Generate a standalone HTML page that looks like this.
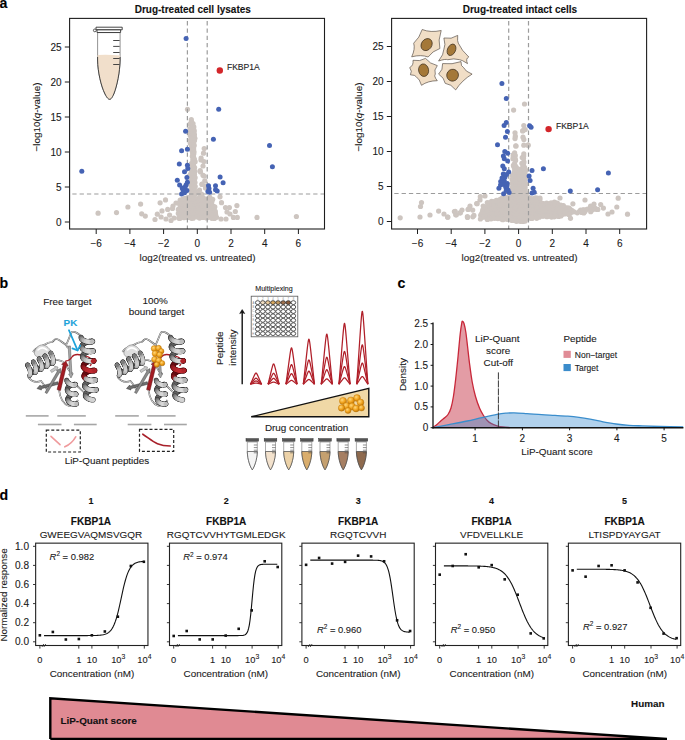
<!DOCTYPE html>
<html><head><meta charset="utf-8"><style>
html,body{margin:0;padding:0;background:#fff;}
svg{display:block;}
text{font-family:"Liberation Sans",sans-serif;stroke-width:0.1px;}
</style></head><body>
<svg width="685" height="740" viewBox="0 0 685 740" font-family="Liberation Sans, sans-serif">
<rect width="685" height="740" fill="#fff"/>
<defs>
<linearGradient id="hg" x1="0" y1="0" x2="1" y2="0">
<stop offset="0" stop-color="#4e4e4e"/><stop offset="0.45" stop-color="#d4d4d4"/><stop offset="0.7" stop-color="#f2f2f2"/><stop offset="1" stop-color="#7a7a7a"/></linearGradient>
<linearGradient id="rg" x1="0" y1="0" x2="1" y2="0">
<stop offset="0" stop-color="#6e0c10"/><stop offset="0.5" stop-color="#c8242b"/><stop offset="1" stop-color="#8a1016"/></linearGradient>
<radialGradient id="og" cx="0.38" cy="0.35" r="0.7">
<stop offset="0" stop-color="#ffd77a"/><stop offset="0.55" stop-color="#f0a21e"/><stop offset="1" stop-color="#b97205"/></radialGradient>
</defs>
<text x="-0.60" y="7.90" font-size="14.2" text-anchor="start" font-weight="bold" fill="#000" stroke="#000" >a</text>
<text x="-0.40" y="288.30" font-size="14.2" text-anchor="start" font-weight="bold" fill="#000" stroke="#000" >b</text>
<text x="397.40" y="288.00" font-size="14.2" text-anchor="start" font-weight="bold" fill="#000" stroke="#000" >c</text>
<text x="-0.50" y="500.40" font-size="14.2" text-anchor="start" font-weight="bold" fill="#000" stroke="#000" >d</text>
<g fill="#cdc5c0">
<circle cx="191.3" cy="119.7" r="2.6"/>
<circle cx="191.4" cy="121.6" r="2.6"/>
<circle cx="189.9" cy="124.2" r="2.6"/>
<circle cx="193.0" cy="123.6" r="2.6"/>
<circle cx="191.8" cy="127.3" r="2.6"/>
<circle cx="193.8" cy="126.8" r="2.6"/>
<circle cx="190.1" cy="128.8" r="2.6"/>
<circle cx="192.2" cy="128.2" r="2.6"/>
<circle cx="193.6" cy="128.5" r="2.6"/>
<circle cx="190.1" cy="131.2" r="2.6"/>
<circle cx="191.8" cy="131.5" r="2.6"/>
<circle cx="194.3" cy="130.9" r="2.6"/>
<circle cx="190.3" cy="134.0" r="2.6"/>
<circle cx="191.6" cy="133.7" r="2.6"/>
<circle cx="194.4" cy="134.3" r="2.6"/>
<circle cx="190.2" cy="135.5" r="2.6"/>
<circle cx="193.0" cy="135.2" r="2.6"/>
<circle cx="194.3" cy="136.4" r="2.6"/>
<circle cx="191.3" cy="138.5" r="2.6"/>
<circle cx="194.9" cy="138.3" r="2.6"/>
<circle cx="190.5" cy="140.2" r="2.6"/>
<circle cx="192.5" cy="140.7" r="2.6"/>
<circle cx="194.5" cy="140.4" r="2.6"/>
<circle cx="190.4" cy="143.6" r="2.6"/>
<circle cx="192.1" cy="143.1" r="2.6"/>
<circle cx="193.6" cy="143.2" r="2.6"/>
<circle cx="192.7" cy="144.7" r="2.6"/>
<circle cx="194.2" cy="145.4" r="2.6"/>
<circle cx="191.5" cy="146.7" r="2.6"/>
<circle cx="193.6" cy="147.9" r="2.6"/>
<circle cx="191.9" cy="150.4" r="2.6"/>
<circle cx="193.6" cy="149.6" r="2.6"/>
<circle cx="192.7" cy="152.7" r="2.6"/>
<circle cx="194.0" cy="151.8" r="2.6"/>
<circle cx="192.9" cy="153.7" r="2.6"/>
<circle cx="193.8" cy="153.8" r="2.6"/>
<circle cx="192.3" cy="156.2" r="2.6"/>
<circle cx="193.5" cy="156.5" r="2.6"/>
<circle cx="192.9" cy="159.2" r="2.6"/>
<circle cx="194.4" cy="159.1" r="2.6"/>
<circle cx="192.8" cy="161.7" r="2.6"/>
<circle cx="195.1" cy="161.7" r="2.6"/>
<circle cx="191.4" cy="163.7" r="2.6"/>
<circle cx="193.6" cy="162.7" r="2.6"/>
<circle cx="191.8" cy="165.0" r="2.6"/>
<circle cx="193.5" cy="165.2" r="2.6"/>
<circle cx="191.2" cy="168.8" r="2.6"/>
<circle cx="194.6" cy="167.5" r="2.6"/>
<circle cx="191.9" cy="169.7" r="2.6"/>
<circle cx="195.0" cy="171.3" r="2.6"/>
<circle cx="191.4" cy="172.0" r="2.6"/>
<circle cx="194.1" cy="172.3" r="2.6"/>
<circle cx="190.4" cy="174.4" r="2.6"/>
<circle cx="191.2" cy="175.8" r="2.6"/>
<circle cx="194.5" cy="174.4" r="2.6"/>
<circle cx="192.2" cy="178.2" r="2.6"/>
<circle cx="195.1" cy="177.7" r="2.6"/>
<circle cx="191.5" cy="180.1" r="2.6"/>
<circle cx="194.5" cy="180.1" r="2.6"/>
<circle cx="192.7" cy="182.8" r="2.6"/>
<circle cx="195.0" cy="182.5" r="2.6"/>
<circle cx="190.4" cy="184.6" r="2.6"/>
<circle cx="191.6" cy="184.2" r="2.6"/>
<circle cx="194.1" cy="183.4" r="2.6"/>
<circle cx="191.7" cy="186.8" r="2.6"/>
<circle cx="195.2" cy="186.4" r="2.6"/>
<circle cx="190.6" cy="189.7" r="2.6"/>
<circle cx="192.9" cy="188.6" r="2.6"/>
<circle cx="193.9" cy="188.3" r="2.6"/>
<circle cx="192.3" cy="191.8" r="2.6"/>
<circle cx="195.0" cy="191.1" r="2.6"/>
<circle cx="191.4" cy="193.7" r="2.6"/>
<circle cx="195.1" cy="193.9" r="2.6"/>
<circle cx="191.5" cy="196.2" r="2.6"/>
<circle cx="194.1" cy="196.2" r="2.6"/>
<circle cx="187.9" cy="197.6" r="2.6"/>
<circle cx="188.9" cy="197.6" r="2.6"/>
<circle cx="192.7" cy="197.3" r="2.6"/>
<circle cx="193.8" cy="197.1" r="2.6"/>
<circle cx="199.5" cy="197.3" r="2.6"/>
<circle cx="201.0" cy="197.8" r="2.6"/>
<circle cx="203.2" cy="197.7" r="2.6"/>
<circle cx="209.7" cy="197.2" r="2.6"/>
<circle cx="180.2" cy="200.1" r="2.6"/>
<circle cx="182.6" cy="199.4" r="2.6"/>
<circle cx="184.9" cy="198.4" r="2.6"/>
<circle cx="187.1" cy="198.7" r="2.6"/>
<circle cx="188.6" cy="199.8" r="2.6"/>
<circle cx="191.2" cy="199.3" r="2.6"/>
<circle cx="194.5" cy="199.4" r="2.6"/>
<circle cx="196.1" cy="199.3" r="2.6"/>
<circle cx="198.8" cy="199.8" r="2.6"/>
<circle cx="200.3" cy="199.4" r="2.6"/>
<circle cx="202.8" cy="198.9" r="2.6"/>
<circle cx="206.1" cy="199.3" r="2.6"/>
<circle cx="208.0" cy="199.8" r="2.6"/>
<circle cx="210.9" cy="199.2" r="2.6"/>
<circle cx="212.7" cy="199.3" r="2.6"/>
<circle cx="180.7" cy="202.3" r="2.6"/>
<circle cx="183.4" cy="201.2" r="2.6"/>
<circle cx="185.0" cy="202.4" r="2.6"/>
<circle cx="187.8" cy="200.9" r="2.6"/>
<circle cx="188.8" cy="201.5" r="2.6"/>
<circle cx="191.0" cy="201.1" r="2.6"/>
<circle cx="193.3" cy="201.9" r="2.6"/>
<circle cx="196.9" cy="202.3" r="2.6"/>
<circle cx="198.1" cy="202.0" r="2.6"/>
<circle cx="201.3" cy="201.0" r="2.6"/>
<circle cx="204.0" cy="202.4" r="2.6"/>
<circle cx="205.1" cy="202.4" r="2.6"/>
<circle cx="207.7" cy="201.6" r="2.6"/>
<circle cx="211.1" cy="202.2" r="2.6"/>
<circle cx="211.9" cy="201.5" r="2.6"/>
<circle cx="178.4" cy="203.0" r="2.6"/>
<circle cx="180.4" cy="203.8" r="2.6"/>
<circle cx="181.7" cy="203.6" r="2.6"/>
<circle cx="185.1" cy="203.9" r="2.6"/>
<circle cx="186.4" cy="204.8" r="2.6"/>
<circle cx="190.0" cy="204.7" r="2.6"/>
<circle cx="191.1" cy="203.5" r="2.6"/>
<circle cx="193.3" cy="204.4" r="2.6"/>
<circle cx="196.0" cy="203.2" r="2.6"/>
<circle cx="198.6" cy="204.6" r="2.6"/>
<circle cx="201.6" cy="203.5" r="2.6"/>
<circle cx="202.7" cy="204.7" r="2.6"/>
<circle cx="205.7" cy="204.3" r="2.6"/>
<circle cx="207.2" cy="203.1" r="2.6"/>
<circle cx="210.5" cy="203.8" r="2.6"/>
<circle cx="211.7" cy="204.7" r="2.6"/>
<circle cx="180.2" cy="205.9" r="2.6"/>
<circle cx="182.7" cy="207.0" r="2.6"/>
<circle cx="184.5" cy="205.5" r="2.6"/>
<circle cx="187.2" cy="205.7" r="2.6"/>
<circle cx="188.8" cy="205.6" r="2.6"/>
<circle cx="191.0" cy="205.7" r="2.6"/>
<circle cx="193.8" cy="205.8" r="2.6"/>
<circle cx="196.9" cy="205.8" r="2.6"/>
<circle cx="198.7" cy="205.6" r="2.6"/>
<circle cx="200.7" cy="205.3" r="2.6"/>
<circle cx="202.9" cy="205.3" r="2.6"/>
<circle cx="206.0" cy="206.3" r="2.6"/>
<circle cx="207.3" cy="206.2" r="2.6"/>
<circle cx="211.0" cy="205.5" r="2.6"/>
<circle cx="213.1" cy="206.1" r="2.6"/>
<circle cx="214.8" cy="206.8" r="2.6"/>
<circle cx="178.3" cy="209.4" r="2.6"/>
<circle cx="180.0" cy="209.1" r="2.6"/>
<circle cx="183.0" cy="208.7" r="2.6"/>
<circle cx="184.7" cy="208.2" r="2.6"/>
<circle cx="186.4" cy="207.8" r="2.6"/>
<circle cx="188.7" cy="208.9" r="2.6"/>
<circle cx="191.4" cy="207.9" r="2.6"/>
<circle cx="193.4" cy="209.1" r="2.6"/>
<circle cx="197.1" cy="208.8" r="2.6"/>
<circle cx="198.3" cy="208.0" r="2.6"/>
<circle cx="200.6" cy="208.4" r="2.6"/>
<circle cx="202.7" cy="208.4" r="2.6"/>
<circle cx="205.2" cy="209.3" r="2.6"/>
<circle cx="208.8" cy="208.6" r="2.6"/>
<circle cx="209.7" cy="209.3" r="2.6"/>
<circle cx="212.2" cy="208.2" r="2.6"/>
<circle cx="213.9" cy="208.3" r="2.6"/>
<circle cx="179.4" cy="210.4" r="2.6"/>
<circle cx="181.9" cy="210.6" r="2.6"/>
<circle cx="184.1" cy="209.9" r="2.6"/>
<circle cx="186.8" cy="210.3" r="2.6"/>
<circle cx="189.7" cy="210.9" r="2.6"/>
<circle cx="192.3" cy="211.1" r="2.6"/>
<circle cx="194.5" cy="211.5" r="2.6"/>
<circle cx="196.2" cy="210.5" r="2.6"/>
<circle cx="199.6" cy="210.2" r="2.6"/>
<circle cx="201.4" cy="211.1" r="2.6"/>
<circle cx="202.5" cy="211.4" r="2.6"/>
<circle cx="206.3" cy="211.0" r="2.6"/>
<circle cx="208.3" cy="211.4" r="2.6"/>
<circle cx="209.6" cy="210.8" r="2.6"/>
<circle cx="212.5" cy="211.4" r="2.6"/>
<circle cx="215.3" cy="211.4" r="2.6"/>
<circle cx="178.3" cy="213.4" r="2.6"/>
<circle cx="179.8" cy="212.3" r="2.6"/>
<circle cx="181.9" cy="212.8" r="2.6"/>
<circle cx="184.2" cy="213.7" r="2.6"/>
<circle cx="187.3" cy="213.3" r="2.6"/>
<circle cx="189.7" cy="213.4" r="2.6"/>
<circle cx="191.8" cy="212.2" r="2.6"/>
<circle cx="194.6" cy="213.5" r="2.6"/>
<circle cx="196.4" cy="213.2" r="2.6"/>
<circle cx="199.0" cy="212.3" r="2.6"/>
<circle cx="201.4" cy="212.7" r="2.6"/>
<circle cx="202.5" cy="212.7" r="2.6"/>
<circle cx="206.0" cy="212.6" r="2.6"/>
<circle cx="208.3" cy="214.0" r="2.6"/>
<circle cx="210.2" cy="212.9" r="2.6"/>
<circle cx="212.5" cy="213.4" r="2.6"/>
<circle cx="215.3" cy="213.3" r="2.6"/>
<circle cx="180.7" cy="215.0" r="2.6"/>
<circle cx="182.7" cy="214.5" r="2.6"/>
<circle cx="184.1" cy="215.0" r="2.6"/>
<circle cx="187.5" cy="215.7" r="2.6"/>
<circle cx="189.8" cy="215.0" r="2.6"/>
<circle cx="191.8" cy="215.3" r="2.6"/>
<circle cx="194.0" cy="214.7" r="2.6"/>
<circle cx="197.1" cy="214.9" r="2.6"/>
<circle cx="199.6" cy="216.2" r="2.6"/>
<circle cx="200.1" cy="215.3" r="2.6"/>
<circle cx="203.9" cy="216.2" r="2.6"/>
<circle cx="205.5" cy="215.0" r="2.6"/>
<circle cx="207.4" cy="216.2" r="2.6"/>
<circle cx="209.7" cy="215.5" r="2.6"/>
<circle cx="211.9" cy="215.4" r="2.6"/>
<circle cx="215.6" cy="214.7" r="2.6"/>
<circle cx="178.7" cy="218.1" r="2.6"/>
<circle cx="179.8" cy="218.4" r="2.6"/>
<circle cx="182.6" cy="216.8" r="2.6"/>
<circle cx="184.0" cy="217.7" r="2.6"/>
<circle cx="187.1" cy="217.3" r="2.6"/>
<circle cx="188.9" cy="217.4" r="2.6"/>
<circle cx="191.5" cy="218.3" r="2.6"/>
<circle cx="193.2" cy="218.2" r="2.6"/>
<circle cx="197.0" cy="217.0" r="2.6"/>
<circle cx="199.5" cy="218.1" r="2.6"/>
<circle cx="201.7" cy="217.3" r="2.6"/>
<circle cx="203.1" cy="217.5" r="2.6"/>
<circle cx="206.5" cy="217.9" r="2.6"/>
<circle cx="207.6" cy="217.6" r="2.6"/>
<circle cx="209.8" cy="216.9" r="2.6"/>
<circle cx="211.8" cy="218.3" r="2.6"/>
<circle cx="214.4" cy="218.5" r="2.6"/>
<circle cx="216.6" cy="217.3" r="2.6"/>
<circle cx="187.5" cy="109.3" r="2.6"/>
<circle cx="98.1" cy="213.2" r="2.6"/>
<circle cx="116.5" cy="212.6" r="2.6"/>
<circle cx="127.9" cy="207.0" r="2.6"/>
<circle cx="140.6" cy="204.1" r="2.6"/>
<circle cx="141.7" cy="213.8" r="2.6"/>
<circle cx="145.3" cy="216.1" r="2.6"/>
<circle cx="155.0" cy="219.5" r="2.6"/>
<circle cx="157.3" cy="214.2" r="2.6"/>
<circle cx="160.1" cy="202.8" r="2.6"/>
<circle cx="165.5" cy="199.9" r="2.6"/>
<circle cx="162.0" cy="210.9" r="2.6"/>
<circle cx="161.1" cy="217.0" r="2.6"/>
<circle cx="167.7" cy="209.4" r="2.6"/>
<circle cx="169.6" cy="215.1" r="2.6"/>
<circle cx="172.5" cy="208.5" r="2.6"/>
<circle cx="174.0" cy="218.0" r="2.6"/>
<circle cx="171.0" cy="220.5" r="2.6"/>
<circle cx="166.0" cy="219.0" r="2.6"/>
<circle cx="220.0" cy="196.8" r="2.6"/>
<circle cx="221.5" cy="202.7" r="2.6"/>
<circle cx="225.5" cy="207.6" r="2.6"/>
<circle cx="229.4" cy="207.6" r="2.6"/>
<circle cx="236.9" cy="205.6" r="2.6"/>
<circle cx="235.3" cy="211.5" r="2.6"/>
<circle cx="233.4" cy="217.4" r="2.6"/>
<circle cx="237.3" cy="217.4" r="2.6"/>
<circle cx="257.0" cy="217.4" r="2.6"/>
<circle cx="296.4" cy="216.5" r="2.6"/>
<circle cx="204.2" cy="148.6" r="2.6"/>
<circle cx="203.5" cy="153.2" r="2.6"/>
<circle cx="201.1" cy="158.0" r="2.6"/>
<circle cx="203.9" cy="161.6" r="2.6"/>
<circle cx="200.2" cy="170.7" r="2.6"/>
<circle cx="203.0" cy="175.3" r="2.6"/>
<circle cx="204.8" cy="180.8" r="2.6"/>
<circle cx="202.0" cy="184.4" r="2.6"/>
<circle cx="205.7" cy="186.2" r="2.6"/>
<circle cx="199.5" cy="190.0" r="2.6"/>
<circle cx="201.5" cy="194.0" r="2.6"/>
<circle cx="201.0" cy="160.0" r="2.6"/>
<circle cx="203.0" cy="166.0" r="2.6"/>
<circle cx="200.5" cy="172.0" r="2.6"/>
<circle cx="204.0" cy="176.0" r="2.6"/>
<circle cx="202.0" cy="184.0" r="2.6"/>
<circle cx="205.5" cy="188.0" r="2.6"/>
<circle cx="199.0" cy="193.0" r="2.6"/>
<circle cx="230.0" cy="214.0" r="2.6"/>
<circle cx="226.0" cy="219.0" r="2.6"/>
<circle cx="227.0" cy="212.0" r="2.6"/>
<circle cx="221.0" cy="219.0" r="2.6"/>
<circle cx="176.0" cy="203.0" r="2.6"/>
<circle cx="173.0" cy="206.0" r="2.6"/>
</g>
<g stroke="#9c9c9c" stroke-width="1.2" stroke-dasharray="4.3 3" stroke-dashoffset="4.6" fill="none"><line x1="187.4" y1="18.4" x2="187.4" y2="229.0"/><line x1="207.2" y1="18.4" x2="207.2" y2="229.0"/><line x1="69.6" y1="194.0" x2="324.5" y2="194.0"/></g>
<g fill="#4563b4">
<circle cx="186.1" cy="38.4" r="2.5"/>
<circle cx="218.7" cy="109.2" r="2.5"/>
<circle cx="185.6" cy="131.3" r="2.5"/>
<circle cx="213.4" cy="139.3" r="2.5"/>
<circle cx="181.6" cy="150.7" r="2.5"/>
<circle cx="187.4" cy="149.2" r="2.5"/>
<circle cx="179.3" cy="164.1" r="2.5"/>
<circle cx="187.4" cy="165.3" r="2.5"/>
<circle cx="187.8" cy="168.4" r="2.5"/>
<circle cx="184.5" cy="171.7" r="2.5"/>
<circle cx="177.3" cy="180.2" r="2.5"/>
<circle cx="186.9" cy="177.6" r="2.5"/>
<circle cx="187.4" cy="182.2" r="2.5"/>
<circle cx="179.6" cy="185.1" r="2.5"/>
<circle cx="182.2" cy="188.1" r="2.5"/>
<circle cx="185.1" cy="186.9" r="2.5"/>
<circle cx="186.9" cy="190.4" r="2.5"/>
<circle cx="181.6" cy="193.9" r="2.5"/>
<circle cx="184.5" cy="192.7" r="2.5"/>
<circle cx="183.0" cy="190.0" r="2.5"/>
<circle cx="186.0" cy="185.0" r="2.5"/>
<circle cx="220.1" cy="177.0" r="2.5"/>
<circle cx="223.1" cy="182.8" r="2.5"/>
<circle cx="208.5" cy="185.7" r="2.5"/>
<circle cx="209.0" cy="188.6" r="2.5"/>
<circle cx="207.9" cy="191.6" r="2.5"/>
<circle cx="215.5" cy="185.7" r="2.5"/>
<circle cx="215.5" cy="189.8" r="2.5"/>
<circle cx="217.2" cy="191.0" r="2.5"/>
<circle cx="209.6" cy="192.2" r="2.5"/>
<circle cx="81.8" cy="171.2" r="2.5"/>
<circle cx="269.5" cy="145.6" r="2.5"/>
<circle cx="272.4" cy="166.8" r="2.5"/>
</g>
<circle cx="219.8" cy="70.5" r="3.2" fill="#d3262a"/>
<text x="226.90" y="70.30" font-size="8.6" text-anchor="start" fill="#1a1a1a" stroke="#1a1a1a" >FKBP1A</text>
<rect x="69.6" y="18.4" width="254.9" height="210.6" fill="none" stroke="#1e1e1e" stroke-width="1.1"/>
<line x1="64.8" y1="222.0" x2="69.6" y2="222.0" stroke="#1e1e1e" stroke-width="1"/>
<text x="61.60" y="225.55" font-size="10.0" text-anchor="end" fill="#1a1a1a" stroke="#1a1a1a" >0</text>
<line x1="64.8" y1="187.0" x2="69.6" y2="187.0" stroke="#1e1e1e" stroke-width="1"/>
<text x="61.60" y="190.55" font-size="10.0" text-anchor="end" fill="#1a1a1a" stroke="#1a1a1a" >5</text>
<line x1="64.8" y1="152.0" x2="69.6" y2="152.0" stroke="#1e1e1e" stroke-width="1"/>
<text x="61.60" y="155.55" font-size="10.0" text-anchor="end" fill="#1a1a1a" stroke="#1a1a1a" >10</text>
<line x1="64.8" y1="117.0" x2="69.6" y2="117.0" stroke="#1e1e1e" stroke-width="1"/>
<text x="61.60" y="120.55" font-size="10.0" text-anchor="end" fill="#1a1a1a" stroke="#1a1a1a" >15</text>
<line x1="64.8" y1="82.0" x2="69.6" y2="82.0" stroke="#1e1e1e" stroke-width="1"/>
<text x="61.60" y="85.55" font-size="10.0" text-anchor="end" fill="#1a1a1a" stroke="#1a1a1a" >20</text>
<line x1="64.8" y1="47.0" x2="69.6" y2="47.0" stroke="#1e1e1e" stroke-width="1"/>
<text x="61.60" y="50.55" font-size="10.0" text-anchor="end" fill="#1a1a1a" stroke="#1a1a1a" >25</text>
<line x1="96.2" y1="229.0" x2="96.2" y2="234.0" stroke="#1e1e1e" stroke-width="1"/>
<text x="96.20" y="246.60" font-size="10.0" text-anchor="middle" fill="#1a1a1a" stroke="#1a1a1a" >−6</text>
<line x1="129.9" y1="229.0" x2="129.9" y2="234.0" stroke="#1e1e1e" stroke-width="1"/>
<text x="129.90" y="246.60" font-size="10.0" text-anchor="middle" fill="#1a1a1a" stroke="#1a1a1a" >−4</text>
<line x1="163.6" y1="229.0" x2="163.6" y2="234.0" stroke="#1e1e1e" stroke-width="1"/>
<text x="163.60" y="246.60" font-size="10.0" text-anchor="middle" fill="#1a1a1a" stroke="#1a1a1a" >−2</text>
<line x1="197.3" y1="229.0" x2="197.3" y2="234.0" stroke="#1e1e1e" stroke-width="1"/>
<text x="197.30" y="246.60" font-size="10.0" text-anchor="middle" fill="#1a1a1a" stroke="#1a1a1a" >0</text>
<line x1="231.0" y1="229.0" x2="231.0" y2="234.0" stroke="#1e1e1e" stroke-width="1"/>
<text x="231.00" y="246.60" font-size="10.0" text-anchor="middle" fill="#1a1a1a" stroke="#1a1a1a" >2</text>
<line x1="264.7" y1="229.0" x2="264.7" y2="234.0" stroke="#1e1e1e" stroke-width="1"/>
<text x="264.70" y="246.60" font-size="10.0" text-anchor="middle" fill="#1a1a1a" stroke="#1a1a1a" >4</text>
<line x1="298.4" y1="229.0" x2="298.4" y2="234.0" stroke="#1e1e1e" stroke-width="1"/>
<text x="298.40" y="246.60" font-size="10.0" text-anchor="middle" fill="#1a1a1a" stroke="#1a1a1a" >6</text>
<text x="139.60" y="261.00" font-size="9.9" text-anchor="start" fill="#1a1a1a" stroke="#1a1a1a" >log2(treated vs. untreated)</text>
<text transform="translate(40.0,117) rotate(-90)" font-size="9.9" text-anchor="middle" fill="#1a1a1a" stroke="#1a1a1a">−log10(<tspan font-style="italic">q</tspan>-value)</text>
<text x="134.70" y="12.60" font-size="10.0" text-anchor="start" font-weight="bold" fill="#111" stroke="#111" >Drug-treated cell lysates</text>
<g fill="#cdc5c0">
<circle cx="514.6" cy="152.8" r="2.6"/>
<circle cx="513.2" cy="154.9" r="2.6"/>
<circle cx="515.0" cy="155.0" r="2.6"/>
<circle cx="513.3" cy="156.7" r="2.6"/>
<circle cx="515.2" cy="155.8" r="2.6"/>
<circle cx="512.9" cy="158.8" r="2.6"/>
<circle cx="515.3" cy="159.2" r="2.6"/>
<circle cx="515.6" cy="160.5" r="2.6"/>
<circle cx="514.4" cy="163.9" r="2.6"/>
<circle cx="513.4" cy="165.4" r="2.6"/>
<circle cx="515.1" cy="165.4" r="2.6"/>
<circle cx="523.8" cy="153.8" r="2.6"/>
<circle cx="522.2" cy="157.5" r="2.6"/>
<circle cx="523.7" cy="156.0" r="2.6"/>
<circle cx="523.5" cy="158.2" r="2.6"/>
<circle cx="523.9" cy="161.9" r="2.6"/>
<circle cx="521.9" cy="163.3" r="2.6"/>
<circle cx="523.6" cy="163.5" r="2.6"/>
<circle cx="523.0" cy="165.4" r="2.6"/>
<circle cx="513.8" cy="166.2" r="2.6"/>
<circle cx="523.8" cy="166.6" r="2.6"/>
<circle cx="514.5" cy="168.3" r="2.6"/>
<circle cx="516.3" cy="167.4" r="2.6"/>
<circle cx="518.2" cy="169.1" r="2.6"/>
<circle cx="521.3" cy="168.9" r="2.6"/>
<circle cx="523.9" cy="167.8" r="2.6"/>
<circle cx="524.6" cy="167.7" r="2.6"/>
<circle cx="514.6" cy="171.0" r="2.6"/>
<circle cx="516.4" cy="171.1" r="2.6"/>
<circle cx="518.3" cy="170.7" r="2.6"/>
<circle cx="519.9" cy="171.1" r="2.6"/>
<circle cx="522.5" cy="171.4" r="2.6"/>
<circle cx="525.6" cy="170.2" r="2.6"/>
<circle cx="514.0" cy="173.3" r="2.6"/>
<circle cx="515.4" cy="172.1" r="2.6"/>
<circle cx="518.4" cy="173.0" r="2.6"/>
<circle cx="520.5" cy="172.4" r="2.6"/>
<circle cx="523.2" cy="172.0" r="2.6"/>
<circle cx="524.9" cy="172.8" r="2.6"/>
<circle cx="512.3" cy="175.5" r="2.6"/>
<circle cx="514.5" cy="175.2" r="2.6"/>
<circle cx="515.6" cy="174.7" r="2.6"/>
<circle cx="519.2" cy="175.6" r="2.6"/>
<circle cx="520.4" cy="174.3" r="2.6"/>
<circle cx="523.0" cy="175.5" r="2.6"/>
<circle cx="525.2" cy="174.8" r="2.6"/>
<circle cx="513.3" cy="176.7" r="2.6"/>
<circle cx="515.8" cy="177.4" r="2.6"/>
<circle cx="518.7" cy="177.0" r="2.6"/>
<circle cx="521.2" cy="177.9" r="2.6"/>
<circle cx="523.0" cy="177.0" r="2.6"/>
<circle cx="526.1" cy="177.2" r="2.6"/>
<circle cx="512.1" cy="179.3" r="2.6"/>
<circle cx="513.3" cy="180.3" r="2.6"/>
<circle cx="515.7" cy="180.6" r="2.6"/>
<circle cx="518.4" cy="179.2" r="2.6"/>
<circle cx="520.2" cy="179.7" r="2.6"/>
<circle cx="523.3" cy="180.6" r="2.6"/>
<circle cx="524.7" cy="179.6" r="2.6"/>
<circle cx="513.2" cy="181.3" r="2.6"/>
<circle cx="515.3" cy="181.9" r="2.6"/>
<circle cx="519.1" cy="182.8" r="2.6"/>
<circle cx="521.1" cy="183.0" r="2.6"/>
<circle cx="523.8" cy="181.8" r="2.6"/>
<circle cx="524.7" cy="182.9" r="2.6"/>
<circle cx="511.9" cy="183.6" r="2.6"/>
<circle cx="514.1" cy="184.2" r="2.6"/>
<circle cx="515.9" cy="184.1" r="2.6"/>
<circle cx="517.8" cy="183.5" r="2.6"/>
<circle cx="520.3" cy="184.1" r="2.6"/>
<circle cx="523.8" cy="183.7" r="2.6"/>
<circle cx="526.1" cy="183.9" r="2.6"/>
<circle cx="514.4" cy="186.6" r="2.6"/>
<circle cx="515.3" cy="186.7" r="2.6"/>
<circle cx="518.2" cy="187.5" r="2.6"/>
<circle cx="520.1" cy="186.5" r="2.6"/>
<circle cx="523.7" cy="185.9" r="2.6"/>
<circle cx="525.1" cy="187.3" r="2.6"/>
<circle cx="512.0" cy="188.2" r="2.6"/>
<circle cx="513.0" cy="188.2" r="2.6"/>
<circle cx="516.9" cy="188.6" r="2.6"/>
<circle cx="518.8" cy="189.7" r="2.6"/>
<circle cx="520.4" cy="188.6" r="2.6"/>
<circle cx="523.8" cy="189.2" r="2.6"/>
<circle cx="524.9" cy="189.4" r="2.6"/>
<circle cx="512.9" cy="191.8" r="2.6"/>
<circle cx="516.8" cy="191.5" r="2.6"/>
<circle cx="519.2" cy="190.4" r="2.6"/>
<circle cx="520.2" cy="191.3" r="2.6"/>
<circle cx="523.8" cy="192.1" r="2.6"/>
<circle cx="525.1" cy="190.9" r="2.6"/>
<circle cx="514.6" cy="193.0" r="2.6"/>
<circle cx="516.6" cy="194.0" r="2.6"/>
<circle cx="519.0" cy="194.1" r="2.6"/>
<circle cx="520.9" cy="193.3" r="2.6"/>
<circle cx="522.7" cy="193.4" r="2.6"/>
<circle cx="525.8" cy="192.8" r="2.6"/>
<circle cx="513.3" cy="195.1" r="2.6"/>
<circle cx="515.3" cy="196.0" r="2.6"/>
<circle cx="518.1" cy="196.8" r="2.6"/>
<circle cx="521.4" cy="196.8" r="2.6"/>
<circle cx="522.6" cy="195.2" r="2.6"/>
<circle cx="524.6" cy="195.9" r="2.6"/>
<circle cx="511.9" cy="198.1" r="2.6"/>
<circle cx="513.3" cy="198.1" r="2.6"/>
<circle cx="516.3" cy="198.5" r="2.6"/>
<circle cx="518.8" cy="198.8" r="2.6"/>
<circle cx="521.0" cy="197.5" r="2.6"/>
<circle cx="523.6" cy="197.8" r="2.6"/>
<circle cx="525.4" cy="198.0" r="2.6"/>
<circle cx="511.9" cy="200.0" r="2.6"/>
<circle cx="513.3" cy="200.0" r="2.6"/>
<circle cx="515.5" cy="201.2" r="2.6"/>
<circle cx="518.5" cy="200.2" r="2.6"/>
<circle cx="520.5" cy="201.4" r="2.6"/>
<circle cx="523.0" cy="200.0" r="2.6"/>
<circle cx="525.9" cy="200.8" r="2.6"/>
<circle cx="512.4" cy="202.1" r="2.6"/>
<circle cx="513.8" cy="203.4" r="2.6"/>
<circle cx="516.7" cy="203.5" r="2.6"/>
<circle cx="517.6" cy="202.4" r="2.6"/>
<circle cx="520.0" cy="202.2" r="2.6"/>
<circle cx="523.9" cy="202.9" r="2.6"/>
<circle cx="526.1" cy="202.6" r="2.6"/>
<circle cx="512.2" cy="205.0" r="2.6"/>
<circle cx="513.4" cy="205.6" r="2.6"/>
<circle cx="516.9" cy="204.4" r="2.6"/>
<circle cx="518.6" cy="205.3" r="2.6"/>
<circle cx="520.2" cy="204.9" r="2.6"/>
<circle cx="522.4" cy="204.6" r="2.6"/>
<circle cx="524.9" cy="205.3" r="2.6"/>
<circle cx="511.8" cy="206.9" r="2.6"/>
<circle cx="512.9" cy="207.1" r="2.6"/>
<circle cx="516.4" cy="206.8" r="2.6"/>
<circle cx="518.1" cy="206.9" r="2.6"/>
<circle cx="521.2" cy="207.5" r="2.6"/>
<circle cx="522.2" cy="206.7" r="2.6"/>
<circle cx="525.1" cy="207.5" r="2.6"/>
<circle cx="511.8" cy="209.0" r="2.6"/>
<circle cx="513.2" cy="210.1" r="2.6"/>
<circle cx="515.9" cy="209.3" r="2.6"/>
<circle cx="518.1" cy="210.5" r="2.6"/>
<circle cx="520.4" cy="209.8" r="2.6"/>
<circle cx="522.7" cy="209.5" r="2.6"/>
<circle cx="526.0" cy="210.6" r="2.6"/>
<circle cx="514.2" cy="211.5" r="2.6"/>
<circle cx="515.2" cy="212.7" r="2.6"/>
<circle cx="518.3" cy="212.6" r="2.6"/>
<circle cx="520.5" cy="212.7" r="2.6"/>
<circle cx="522.9" cy="211.4" r="2.6"/>
<circle cx="524.4" cy="212.1" r="2.6"/>
<circle cx="511.8" cy="215.0" r="2.6"/>
<circle cx="513.1" cy="214.5" r="2.6"/>
<circle cx="515.9" cy="214.3" r="2.6"/>
<circle cx="517.8" cy="213.9" r="2.6"/>
<circle cx="520.7" cy="215.1" r="2.6"/>
<circle cx="522.3" cy="214.3" r="2.6"/>
<circle cx="525.8" cy="215.1" r="2.6"/>
<circle cx="514.6" cy="217.5" r="2.6"/>
<circle cx="516.1" cy="215.8" r="2.6"/>
<circle cx="519.2" cy="216.4" r="2.6"/>
<circle cx="521.4" cy="216.8" r="2.6"/>
<circle cx="523.6" cy="216.0" r="2.6"/>
<circle cx="525.8" cy="216.1" r="2.6"/>
<circle cx="514.4" cy="218.3" r="2.6"/>
<circle cx="515.6" cy="218.7" r="2.6"/>
<circle cx="518.4" cy="218.7" r="2.6"/>
<circle cx="520.0" cy="218.4" r="2.6"/>
<circle cx="523.4" cy="219.6" r="2.6"/>
<circle cx="524.5" cy="219.0" r="2.6"/>
<circle cx="512.0" cy="220.4" r="2.6"/>
<circle cx="514.4" cy="220.5" r="2.6"/>
<circle cx="516.3" cy="221.3" r="2.6"/>
<circle cx="518.6" cy="220.9" r="2.6"/>
<circle cx="520.6" cy="221.3" r="2.6"/>
<circle cx="522.9" cy="221.5" r="2.6"/>
<circle cx="525.2" cy="221.1" r="2.6"/>
<circle cx="510.5" cy="196.9" r="2.6"/>
<circle cx="500.7" cy="199.1" r="2.6"/>
<circle cx="502.5" cy="197.9" r="2.6"/>
<circle cx="505.3" cy="198.0" r="2.6"/>
<circle cx="506.8" cy="197.7" r="2.6"/>
<circle cx="509.3" cy="199.1" r="2.6"/>
<circle cx="491.6" cy="201.3" r="2.6"/>
<circle cx="493.1" cy="201.5" r="2.6"/>
<circle cx="496.3" cy="200.4" r="2.6"/>
<circle cx="498.9" cy="200.2" r="2.6"/>
<circle cx="501.6" cy="200.7" r="2.6"/>
<circle cx="502.7" cy="201.1" r="2.6"/>
<circle cx="505.2" cy="200.0" r="2.6"/>
<circle cx="508.0" cy="199.8" r="2.6"/>
<circle cx="510.5" cy="200.2" r="2.6"/>
<circle cx="489.4" cy="202.8" r="2.6"/>
<circle cx="491.5" cy="203.6" r="2.6"/>
<circle cx="493.1" cy="202.4" r="2.6"/>
<circle cx="496.4" cy="202.0" r="2.6"/>
<circle cx="497.5" cy="202.6" r="2.6"/>
<circle cx="500.0" cy="202.6" r="2.6"/>
<circle cx="502.5" cy="203.1" r="2.6"/>
<circle cx="505.5" cy="202.4" r="2.6"/>
<circle cx="507.8" cy="202.9" r="2.6"/>
<circle cx="509.2" cy="203.7" r="2.6"/>
<circle cx="488.3" cy="205.5" r="2.6"/>
<circle cx="491.6" cy="204.9" r="2.6"/>
<circle cx="494.1" cy="205.1" r="2.6"/>
<circle cx="496.9" cy="205.6" r="2.6"/>
<circle cx="497.9" cy="205.9" r="2.6"/>
<circle cx="499.9" cy="205.3" r="2.6"/>
<circle cx="502.8" cy="204.7" r="2.6"/>
<circle cx="504.5" cy="205.7" r="2.6"/>
<circle cx="506.7" cy="205.3" r="2.6"/>
<circle cx="510.7" cy="204.6" r="2.6"/>
<circle cx="485.2" cy="206.9" r="2.6"/>
<circle cx="486.6" cy="207.1" r="2.6"/>
<circle cx="488.4" cy="208.2" r="2.6"/>
<circle cx="492.0" cy="207.9" r="2.6"/>
<circle cx="492.9" cy="208.1" r="2.6"/>
<circle cx="496.5" cy="207.4" r="2.6"/>
<circle cx="498.8" cy="207.4" r="2.6"/>
<circle cx="500.2" cy="206.8" r="2.6"/>
<circle cx="502.5" cy="206.7" r="2.6"/>
<circle cx="505.0" cy="207.9" r="2.6"/>
<circle cx="508.0" cy="208.1" r="2.6"/>
<circle cx="510.3" cy="207.1" r="2.6"/>
<circle cx="482.8" cy="209.8" r="2.6"/>
<circle cx="484.2" cy="210.1" r="2.6"/>
<circle cx="487.7" cy="209.3" r="2.6"/>
<circle cx="489.9" cy="208.9" r="2.6"/>
<circle cx="491.1" cy="209.3" r="2.6"/>
<circle cx="494.2" cy="210.6" r="2.6"/>
<circle cx="496.5" cy="209.5" r="2.6"/>
<circle cx="499.1" cy="209.5" r="2.6"/>
<circle cx="500.2" cy="210.5" r="2.6"/>
<circle cx="503.2" cy="210.1" r="2.6"/>
<circle cx="505.6" cy="210.7" r="2.6"/>
<circle cx="507.5" cy="210.4" r="2.6"/>
<circle cx="510.3" cy="210.4" r="2.6"/>
<circle cx="482.4" cy="211.8" r="2.6"/>
<circle cx="484.1" cy="212.3" r="2.6"/>
<circle cx="486.1" cy="212.8" r="2.6"/>
<circle cx="488.6" cy="211.2" r="2.6"/>
<circle cx="490.8" cy="212.9" r="2.6"/>
<circle cx="493.5" cy="211.5" r="2.6"/>
<circle cx="495.3" cy="211.3" r="2.6"/>
<circle cx="498.7" cy="212.3" r="2.6"/>
<circle cx="501.1" cy="212.5" r="2.6"/>
<circle cx="502.2" cy="212.3" r="2.6"/>
<circle cx="505.1" cy="212.7" r="2.6"/>
<circle cx="508.2" cy="212.8" r="2.6"/>
<circle cx="509.1" cy="212.8" r="2.6"/>
<circle cx="480.7" cy="215.2" r="2.6"/>
<circle cx="481.6" cy="213.9" r="2.6"/>
<circle cx="483.9" cy="213.6" r="2.6"/>
<circle cx="487.5" cy="215.0" r="2.6"/>
<circle cx="489.4" cy="215.0" r="2.6"/>
<circle cx="491.7" cy="214.0" r="2.6"/>
<circle cx="493.1" cy="213.7" r="2.6"/>
<circle cx="496.6" cy="213.9" r="2.6"/>
<circle cx="498.1" cy="214.3" r="2.6"/>
<circle cx="499.8" cy="214.0" r="2.6"/>
<circle cx="502.6" cy="214.8" r="2.6"/>
<circle cx="505.1" cy="214.1" r="2.6"/>
<circle cx="508.4" cy="214.4" r="2.6"/>
<circle cx="510.5" cy="214.6" r="2.6"/>
<circle cx="482.2" cy="217.2" r="2.6"/>
<circle cx="484.3" cy="217.1" r="2.6"/>
<circle cx="487.0" cy="216.2" r="2.6"/>
<circle cx="489.9" cy="216.0" r="2.6"/>
<circle cx="492.1" cy="216.1" r="2.6"/>
<circle cx="492.9" cy="216.2" r="2.6"/>
<circle cx="496.6" cy="217.6" r="2.6"/>
<circle cx="497.5" cy="216.7" r="2.6"/>
<circle cx="500.7" cy="217.2" r="2.6"/>
<circle cx="502.4" cy="216.7" r="2.6"/>
<circle cx="505.0" cy="217.3" r="2.6"/>
<circle cx="507.2" cy="217.5" r="2.6"/>
<circle cx="509.5" cy="216.2" r="2.6"/>
<circle cx="480.4" cy="219.0" r="2.6"/>
<circle cx="487.3" cy="219.5" r="2.6"/>
<circle cx="489.4" cy="218.7" r="2.6"/>
<circle cx="491.3" cy="218.8" r="2.6"/>
<circle cx="494.5" cy="218.3" r="2.6"/>
<circle cx="496.8" cy="218.1" r="2.6"/>
<circle cx="497.9" cy="218.6" r="2.6"/>
<circle cx="501.4" cy="219.0" r="2.6"/>
<circle cx="502.8" cy="219.7" r="2.6"/>
<circle cx="504.8" cy="218.9" r="2.6"/>
<circle cx="507.7" cy="219.5" r="2.6"/>
<circle cx="510.4" cy="219.3" r="2.6"/>
<circle cx="527.7" cy="196.6" r="2.6"/>
<circle cx="526.3" cy="198.2" r="2.6"/>
<circle cx="528.0" cy="198.5" r="2.6"/>
<circle cx="529.9" cy="198.2" r="2.6"/>
<circle cx="533.4" cy="198.7" r="2.6"/>
<circle cx="535.4" cy="197.9" r="2.6"/>
<circle cx="537.4" cy="198.2" r="2.6"/>
<circle cx="540.0" cy="198.1" r="2.6"/>
<circle cx="526.6" cy="200.8" r="2.6"/>
<circle cx="528.2" cy="200.7" r="2.6"/>
<circle cx="530.1" cy="201.4" r="2.6"/>
<circle cx="532.6" cy="200.8" r="2.6"/>
<circle cx="535.8" cy="201.2" r="2.6"/>
<circle cx="537.4" cy="200.2" r="2.6"/>
<circle cx="539.9" cy="199.9" r="2.6"/>
<circle cx="526.1" cy="203.3" r="2.6"/>
<circle cx="528.2" cy="203.6" r="2.6"/>
<circle cx="530.7" cy="202.5" r="2.6"/>
<circle cx="532.4" cy="202.3" r="2.6"/>
<circle cx="535.2" cy="202.1" r="2.6"/>
<circle cx="537.4" cy="202.3" r="2.6"/>
<circle cx="539.8" cy="202.9" r="2.6"/>
<circle cx="542.2" cy="203.6" r="2.6"/>
<circle cx="543.5" cy="203.5" r="2.6"/>
<circle cx="546.6" cy="203.0" r="2.6"/>
<circle cx="549.3" cy="203.5" r="2.6"/>
<circle cx="551.1" cy="202.8" r="2.6"/>
<circle cx="554.4" cy="202.1" r="2.6"/>
<circle cx="556.1" cy="203.1" r="2.6"/>
<circle cx="557.4" cy="203.1" r="2.6"/>
<circle cx="526.2" cy="205.7" r="2.6"/>
<circle cx="527.5" cy="205.6" r="2.6"/>
<circle cx="531.3" cy="205.3" r="2.6"/>
<circle cx="532.1" cy="204.8" r="2.6"/>
<circle cx="534.3" cy="204.6" r="2.6"/>
<circle cx="538.3" cy="205.4" r="2.6"/>
<circle cx="540.1" cy="205.7" r="2.6"/>
<circle cx="542.8" cy="205.4" r="2.6"/>
<circle cx="544.6" cy="205.4" r="2.6"/>
<circle cx="547.1" cy="205.4" r="2.6"/>
<circle cx="549.3" cy="204.7" r="2.6"/>
<circle cx="551.6" cy="205.1" r="2.6"/>
<circle cx="554.1" cy="204.5" r="2.6"/>
<circle cx="555.3" cy="204.4" r="2.6"/>
<circle cx="558.7" cy="205.9" r="2.6"/>
<circle cx="560.8" cy="205.0" r="2.6"/>
<circle cx="563.4" cy="205.7" r="2.6"/>
<circle cx="527.6" cy="208.2" r="2.6"/>
<circle cx="529.9" cy="206.6" r="2.6"/>
<circle cx="533.3" cy="207.0" r="2.6"/>
<circle cx="535.6" cy="206.9" r="2.6"/>
<circle cx="536.7" cy="208.0" r="2.6"/>
<circle cx="540.2" cy="208.1" r="2.6"/>
<circle cx="542.5" cy="206.8" r="2.6"/>
<circle cx="544.6" cy="207.9" r="2.6"/>
<circle cx="546.6" cy="208.3" r="2.6"/>
<circle cx="548.6" cy="208.3" r="2.6"/>
<circle cx="551.7" cy="206.6" r="2.6"/>
<circle cx="552.7" cy="207.8" r="2.6"/>
<circle cx="556.5" cy="206.7" r="2.6"/>
<circle cx="557.9" cy="207.9" r="2.6"/>
<circle cx="559.9" cy="208.1" r="2.6"/>
<circle cx="562.8" cy="206.7" r="2.6"/>
<circle cx="564.9" cy="207.6" r="2.6"/>
<circle cx="567.3" cy="207.8" r="2.6"/>
<circle cx="569.1" cy="208.0" r="2.6"/>
<circle cx="591.3" cy="208.1" r="2.6"/>
<circle cx="594.9" cy="208.2" r="2.6"/>
<circle cx="526.2" cy="210.5" r="2.6"/>
<circle cx="528.9" cy="209.4" r="2.6"/>
<circle cx="529.7" cy="209.4" r="2.6"/>
<circle cx="532.8" cy="210.0" r="2.6"/>
<circle cx="535.8" cy="210.5" r="2.6"/>
<circle cx="536.7" cy="210.4" r="2.6"/>
<circle cx="540.4" cy="210.5" r="2.6"/>
<circle cx="542.2" cy="209.4" r="2.6"/>
<circle cx="545.0" cy="210.4" r="2.6"/>
<circle cx="547.0" cy="210.5" r="2.6"/>
<circle cx="548.7" cy="209.1" r="2.6"/>
<circle cx="551.4" cy="210.3" r="2.6"/>
<circle cx="553.1" cy="210.3" r="2.6"/>
<circle cx="556.7" cy="209.3" r="2.6"/>
<circle cx="558.4" cy="210.1" r="2.6"/>
<circle cx="560.4" cy="209.3" r="2.6"/>
<circle cx="562.4" cy="210.3" r="2.6"/>
<circle cx="565.6" cy="209.7" r="2.6"/>
<circle cx="566.7" cy="210.4" r="2.6"/>
<circle cx="570.2" cy="209.3" r="2.6"/>
<circle cx="572.1" cy="210.5" r="2.6"/>
<circle cx="580.6" cy="210.2" r="2.6"/>
<circle cx="583.3" cy="209.9" r="2.6"/>
<circle cx="585.6" cy="209.8" r="2.6"/>
<circle cx="587.5" cy="209.0" r="2.6"/>
<circle cx="591.3" cy="209.6" r="2.6"/>
<circle cx="592.0" cy="210.0" r="2.6"/>
<circle cx="595.5" cy="209.2" r="2.6"/>
<circle cx="597.5" cy="209.5" r="2.6"/>
<circle cx="526.0" cy="211.2" r="2.6"/>
<circle cx="527.5" cy="213.0" r="2.6"/>
<circle cx="531.3" cy="212.1" r="2.6"/>
<circle cx="533.0" cy="211.7" r="2.6"/>
<circle cx="535.7" cy="212.0" r="2.6"/>
<circle cx="538.3" cy="212.6" r="2.6"/>
<circle cx="540.4" cy="212.9" r="2.6"/>
<circle cx="541.7" cy="211.3" r="2.6"/>
<circle cx="543.9" cy="211.5" r="2.6"/>
<circle cx="546.0" cy="211.3" r="2.6"/>
<circle cx="549.1" cy="212.8" r="2.6"/>
<circle cx="551.2" cy="212.9" r="2.6"/>
<circle cx="554.3" cy="211.3" r="2.6"/>
<circle cx="556.1" cy="211.9" r="2.6"/>
<circle cx="557.5" cy="212.9" r="2.6"/>
<circle cx="560.1" cy="212.2" r="2.6"/>
<circle cx="563.1" cy="212.9" r="2.6"/>
<circle cx="565.4" cy="211.9" r="2.6"/>
<circle cx="567.3" cy="211.5" r="2.6"/>
<circle cx="570.5" cy="213.0" r="2.6"/>
<circle cx="571.5" cy="211.3" r="2.6"/>
<circle cx="573.9" cy="211.8" r="2.6"/>
<circle cx="577.3" cy="212.8" r="2.6"/>
<circle cx="579.5" cy="211.3" r="2.6"/>
<circle cx="581.7" cy="212.5" r="2.6"/>
<circle cx="583.8" cy="213.0" r="2.6"/>
<circle cx="585.0" cy="211.5" r="2.6"/>
<circle cx="590.7" cy="211.7" r="2.6"/>
<circle cx="527.8" cy="213.8" r="2.6"/>
<circle cx="530.9" cy="213.5" r="2.6"/>
<circle cx="533.3" cy="213.9" r="2.6"/>
<circle cx="534.4" cy="215.2" r="2.6"/>
<circle cx="537.0" cy="215.2" r="2.6"/>
<circle cx="540.5" cy="215.1" r="2.6"/>
<circle cx="541.5" cy="214.3" r="2.6"/>
<circle cx="543.7" cy="215.2" r="2.6"/>
<circle cx="547.3" cy="214.6" r="2.6"/>
<circle cx="548.9" cy="214.1" r="2.6"/>
<circle cx="551.9" cy="214.4" r="2.6"/>
<circle cx="553.8" cy="213.8" r="2.6"/>
<circle cx="555.4" cy="213.6" r="2.6"/>
<circle cx="558.6" cy="214.5" r="2.6"/>
<circle cx="559.9" cy="215.1" r="2.6"/>
<circle cx="562.4" cy="214.2" r="2.6"/>
<circle cx="564.5" cy="214.0" r="2.6"/>
<circle cx="568.0" cy="214.1" r="2.6"/>
<circle cx="569.1" cy="214.4" r="2.6"/>
<circle cx="526.6" cy="216.4" r="2.6"/>
<circle cx="527.7" cy="215.8" r="2.6"/>
<circle cx="531.2" cy="216.7" r="2.6"/>
<circle cx="532.3" cy="216.6" r="2.6"/>
<circle cx="535.9" cy="216.2" r="2.6"/>
<circle cx="537.6" cy="216.0" r="2.6"/>
<circle cx="539.2" cy="217.2" r="2.6"/>
<circle cx="542.5" cy="216.2" r="2.6"/>
<circle cx="543.6" cy="216.0" r="2.6"/>
<circle cx="546.9" cy="216.7" r="2.6"/>
<circle cx="548.6" cy="216.2" r="2.6"/>
<circle cx="551.5" cy="217.1" r="2.6"/>
<circle cx="554.2" cy="216.8" r="2.6"/>
<circle cx="555.4" cy="215.9" r="2.6"/>
<circle cx="558.6" cy="216.5" r="2.6"/>
<circle cx="560.9" cy="215.9" r="2.6"/>
<circle cx="526.0" cy="219.1" r="2.6"/>
<circle cx="528.4" cy="218.1" r="2.6"/>
<circle cx="531.4" cy="218.5" r="2.6"/>
<circle cx="532.3" cy="218.3" r="2.6"/>
<circle cx="536.7" cy="218.3" r="2.6"/>
<circle cx="524.5" cy="104.0" r="2.6"/>
<circle cx="513.6" cy="110.1" r="2.6"/>
<circle cx="523.8" cy="125.5" r="2.6"/>
<circle cx="523.0" cy="130.6" r="2.6"/>
<circle cx="515.0" cy="132.8" r="2.6"/>
<circle cx="515.0" cy="138.6" r="2.6"/>
<circle cx="523.0" cy="137.2" r="2.6"/>
<circle cx="515.8" cy="145.9" r="2.6"/>
<circle cx="523.8" cy="145.2" r="2.6"/>
<circle cx="528.2" cy="145.2" r="2.6"/>
<circle cx="400.2" cy="217.8" r="2.6"/>
<circle cx="420.0" cy="217.0" r="2.6"/>
<circle cx="420.5" cy="206.5" r="2.6"/>
<circle cx="421.5" cy="202.6" r="2.6"/>
<circle cx="438.6" cy="211.1" r="2.6"/>
<circle cx="447.8" cy="217.2" r="2.6"/>
<circle cx="454.4" cy="211.5" r="2.6"/>
<circle cx="455.7" cy="214.8" r="2.6"/>
<circle cx="460.3" cy="212.8" r="2.6"/>
<circle cx="467.5" cy="217.4" r="2.6"/>
<circle cx="468.8" cy="208.9" r="2.6"/>
<circle cx="472.8" cy="216.8" r="2.6"/>
<circle cx="476.7" cy="203.6" r="2.6"/>
<circle cx="618.2" cy="198.2" r="2.6"/>
<circle cx="616.8" cy="207.0" r="2.6"/>
<circle cx="627.5" cy="214.2" r="2.6"/>
<circle cx="600.7" cy="204.6" r="2.6"/>
<circle cx="603.4" cy="208.1" r="2.6"/>
<circle cx="597.8" cy="209.4" r="2.6"/>
<circle cx="590.6" cy="206.2" r="2.6"/>
<circle cx="572.9" cy="203.8" r="2.6"/>
<circle cx="570.5" cy="218.3" r="2.6"/>
<circle cx="608.0" cy="214.0" r="2.6"/>
<circle cx="612.0" cy="212.0" r="2.6"/>
<circle cx="585.0" cy="200.0" r="2.6"/>
<circle cx="560.0" cy="198.0" r="2.6"/>
<circle cx="480.0" cy="200.0" r="2.6"/>
<circle cx="485.0" cy="196.0" r="2.6"/>
<circle cx="470.0" cy="206.0" r="2.6"/>
<circle cx="462.0" cy="210.0" r="2.6"/>
<circle cx="444.0" cy="214.0" r="2.6"/>
<circle cx="430.0" cy="215.0" r="2.6"/>
<circle cx="447.6" cy="217.1" r="2.6"/>
<circle cx="455.2" cy="211.3" r="2.6"/>
<circle cx="456.4" cy="214.8" r="2.6"/>
<circle cx="460.1" cy="212.8" r="2.6"/>
<circle cx="468.0" cy="209.5" r="2.6"/>
<circle cx="467.4" cy="216.5" r="2.6"/>
<circle cx="472.7" cy="210.1" r="2.6"/>
<circle cx="473.9" cy="215.4" r="2.6"/>
<circle cx="477.1" cy="203.7" r="2.6"/>
<circle cx="480.3" cy="196.7" r="2.6"/>
<circle cx="483.2" cy="206.0" r="2.6"/>
<circle cx="487.3" cy="202.5" r="2.6"/>
<circle cx="525.2" cy="129.6" r="2.6"/>
<circle cx="522.6" cy="131.0" r="2.6"/>
<circle cx="515.3" cy="136.2" r="2.6"/>
<circle cx="523.9" cy="139.5" r="2.6"/>
<circle cx="516.0" cy="146.0" r="2.6"/>
<circle cx="527.8" cy="145.1" r="2.6"/>
<circle cx="543.0" cy="210.0" r="2.6"/>
<circle cx="548.0" cy="207.0" r="2.6"/>
<circle cx="560.0" cy="209.0" r="2.6"/>
<circle cx="583.0" cy="210.0" r="2.6"/>
<circle cx="594.0" cy="204.0" r="2.6"/>
</g>
<g stroke="#9c9c9c" stroke-width="1.2" stroke-dasharray="4.3 3" stroke-dashoffset="4.6" fill="none"><line x1="508.7" y1="18.4" x2="508.7" y2="229.0"/><line x1="528.5" y1="18.4" x2="528.5" y2="229.0"/><line x1="391.6" y1="193.5" x2="646.6" y2="193.5"/></g>
<g fill="#4563b4">
<circle cx="501.9" cy="83.4" r="2.5"/>
<circle cx="506.3" cy="98.5" r="2.5"/>
<circle cx="506.3" cy="122.6" r="2.5"/>
<circle cx="504.1" cy="125.5" r="2.5"/>
<circle cx="529.6" cy="125.8" r="2.5"/>
<circle cx="531.1" cy="127.2" r="2.5"/>
<circle cx="507.4" cy="131.6" r="2.5"/>
<circle cx="505.5" cy="137.2" r="2.5"/>
<circle cx="497.5" cy="144.7" r="2.5"/>
<circle cx="504.8" cy="151.5" r="2.5"/>
<circle cx="507.7" cy="153.2" r="2.5"/>
<circle cx="503.4" cy="156.1" r="2.5"/>
<circle cx="504.3" cy="158.8" r="2.5"/>
<circle cx="507.7" cy="161.0" r="2.5"/>
<circle cx="502.8" cy="166.1" r="2.5"/>
<circle cx="504.3" cy="168.7" r="2.5"/>
<circle cx="508.7" cy="171.9" r="2.5"/>
<circle cx="503.3" cy="174.1" r="2.5"/>
<circle cx="505.0" cy="177.0" r="2.5"/>
<circle cx="500.7" cy="181.4" r="2.5"/>
<circle cx="504.3" cy="180.7" r="2.5"/>
<circle cx="507.2" cy="183.6" r="2.5"/>
<circle cx="498.9" cy="188.2" r="2.5"/>
<circle cx="505.8" cy="187.2" r="2.5"/>
<circle cx="508.0" cy="190.1" r="2.5"/>
<circle cx="503.6" cy="193.8" r="2.5"/>
<circle cx="509.1" cy="192.6" r="2.5"/>
<circle cx="532.0" cy="170.4" r="2.5"/>
<circle cx="529.1" cy="176.0" r="2.5"/>
<circle cx="530.1" cy="180.4" r="2.5"/>
<circle cx="533.1" cy="188.2" r="2.5"/>
<circle cx="532.0" cy="193.1" r="2.5"/>
<circle cx="534.2" cy="192.3" r="2.5"/>
<circle cx="543.4" cy="168.7" r="2.5"/>
<circle cx="570.3" cy="191.0" r="2.5"/>
<circle cx="597.6" cy="189.7" r="2.5"/>
<circle cx="608.4" cy="172.9" r="2.5"/>
<circle cx="502.0" cy="182.5" r="2.5"/>
<circle cx="504.0" cy="184.5" r="2.5"/>
<circle cx="506.2" cy="190.5" r="2.5"/>
<circle cx="507.0" cy="186.0" r="2.5"/>
<circle cx="502.0" cy="178.0" r="2.5"/>
<circle cx="500.5" cy="185.0" r="2.5"/>
<circle cx="506.5" cy="174.5" r="2.5"/>
</g>
<circle cx="548.6" cy="129.1" r="3.2" fill="#d3262a"/>
<text x="555.90" y="129.00" font-size="8.6" text-anchor="start" fill="#1a1a1a" stroke="#1a1a1a" >FKBP1A</text>
<rect x="391.6" y="18.4" width="255.0" height="210.6" fill="none" stroke="#1e1e1e" stroke-width="1.1"/>
<line x1="386.8" y1="221.5" x2="391.6" y2="221.5" stroke="#1e1e1e" stroke-width="1"/>
<text x="383.60" y="225.05" font-size="10.0" text-anchor="end" fill="#1a1a1a" stroke="#1a1a1a" >0</text>
<line x1="386.8" y1="186.5" x2="391.6" y2="186.5" stroke="#1e1e1e" stroke-width="1"/>
<text x="383.60" y="190.05" font-size="10.0" text-anchor="end" fill="#1a1a1a" stroke="#1a1a1a" >5</text>
<line x1="386.8" y1="151.5" x2="391.6" y2="151.5" stroke="#1e1e1e" stroke-width="1"/>
<text x="383.60" y="155.05" font-size="10.0" text-anchor="end" fill="#1a1a1a" stroke="#1a1a1a" >10</text>
<line x1="386.8" y1="116.5" x2="391.6" y2="116.5" stroke="#1e1e1e" stroke-width="1"/>
<text x="383.60" y="120.05" font-size="10.0" text-anchor="end" fill="#1a1a1a" stroke="#1a1a1a" >15</text>
<line x1="386.8" y1="81.5" x2="391.6" y2="81.5" stroke="#1e1e1e" stroke-width="1"/>
<text x="383.60" y="85.05" font-size="10.0" text-anchor="end" fill="#1a1a1a" stroke="#1a1a1a" >20</text>
<line x1="386.8" y1="46.5" x2="391.6" y2="46.5" stroke="#1e1e1e" stroke-width="1"/>
<text x="383.60" y="50.05" font-size="10.0" text-anchor="end" fill="#1a1a1a" stroke="#1a1a1a" >25</text>
<line x1="417.5" y1="229.0" x2="417.5" y2="234.0" stroke="#1e1e1e" stroke-width="1"/>
<text x="417.50" y="246.60" font-size="10.0" text-anchor="middle" fill="#1a1a1a" stroke="#1a1a1a" >−6</text>
<line x1="451.2" y1="229.0" x2="451.2" y2="234.0" stroke="#1e1e1e" stroke-width="1"/>
<text x="451.20" y="246.60" font-size="10.0" text-anchor="middle" fill="#1a1a1a" stroke="#1a1a1a" >−4</text>
<line x1="484.9" y1="229.0" x2="484.9" y2="234.0" stroke="#1e1e1e" stroke-width="1"/>
<text x="484.90" y="246.60" font-size="10.0" text-anchor="middle" fill="#1a1a1a" stroke="#1a1a1a" >−2</text>
<line x1="518.6" y1="229.0" x2="518.6" y2="234.0" stroke="#1e1e1e" stroke-width="1"/>
<text x="518.60" y="246.60" font-size="10.0" text-anchor="middle" fill="#1a1a1a" stroke="#1a1a1a" >0</text>
<line x1="552.3" y1="229.0" x2="552.3" y2="234.0" stroke="#1e1e1e" stroke-width="1"/>
<text x="552.30" y="246.60" font-size="10.0" text-anchor="middle" fill="#1a1a1a" stroke="#1a1a1a" >2</text>
<line x1="586.0" y1="229.0" x2="586.0" y2="234.0" stroke="#1e1e1e" stroke-width="1"/>
<text x="586.00" y="246.60" font-size="10.0" text-anchor="middle" fill="#1a1a1a" stroke="#1a1a1a" >4</text>
<line x1="619.7" y1="229.0" x2="619.7" y2="234.0" stroke="#1e1e1e" stroke-width="1"/>
<text x="619.70" y="246.60" font-size="10.0" text-anchor="middle" fill="#1a1a1a" stroke="#1a1a1a" >6</text>
<text x="461.60" y="261.00" font-size="9.9" text-anchor="start" fill="#1a1a1a" stroke="#1a1a1a" >log2(treated vs. untreated)</text>
<text transform="translate(362.0,117) rotate(-90)" font-size="9.9" text-anchor="middle" fill="#1a1a1a" stroke="#1a1a1a">−log10(<tspan font-style="italic">q</tspan>-value)</text>
<text x="462.70" y="12.60" font-size="10.0" text-anchor="start" font-weight="bold" fill="#111" stroke="#111" >Drug-treated intact cells</text>
<g stroke-linejoin="round">
<path d="M97.6 32.6 L97.6 60 C97.8 72 101 86 105 94 C107 98 108.5 99.3 109.7 99.3 C110.8 99.3 112 98 113.8 94 C117 86 119.9 72 120.1 60 L120.1 32.6 Z" fill="#fff" stroke="#888" stroke-width="0.9"/>
<path d="M97.6 55 Q108 54.2 120.1 55.6 L120.1 60 C119.9 72 117 86 113.8 94 C112 98 110.8 99.3 109.7 99.3 C108.5 99.3 107 98 105 94 C101 86 97.8 72 97.6 60 Z" fill="#f1dfcb"/>
<path d="M97.6 57 L97.6 60 C97.8 72 101 86 105 94 C107 98 108.5 99.3 109.7 99.3 C110.8 99.3 112 98 113.8 94 C117 86 119.9 72 120.1 60 L120.1 57" fill="none" stroke="#333" stroke-width="0.9"/>
<line x1="113.2" y1="40.5" x2="119.6" y2="40.5" stroke="#333" stroke-width="0.9"/>
<line x1="113.2" y1="46.4" x2="119.6" y2="46.4" stroke="#333" stroke-width="0.9"/>
<line x1="113.2" y1="52.5" x2="119.6" y2="52.5" stroke="#333" stroke-width="0.9"/>
<line x1="113.2" y1="58.5" x2="119.6" y2="58.5" stroke="#333" stroke-width="0.9"/>
<line x1="113.2" y1="64.5" x2="119.6" y2="64.5" stroke="#333" stroke-width="0.9"/>
<rect x="96" y="27.2" width="26.2" height="2.6" fill="#fff" stroke="#333" stroke-width="0.9"/>
<rect x="97" y="29.9" width="23.6" height="2.6" fill="#fff" stroke="#333" stroke-width="0.9"/>
<circle cx="94.8" cy="30.4" r="1.4" fill="#fff" stroke="#333" stroke-width="0.8"/>
</g>
<path d="M422.2 29.5 Q430.6 32.9 441.2 30.5 Q437.7 40.5 439.9 48.5 Q432.4 51.0 428.1 57.0 Q421.1 54.4 411.7 56.8 Q415.4 48.9 413.7 43.2 Q419.6 37.9 422.2 29.5Z" fill="#f1dec6" stroke="#5a5048" stroke-width="0.7"/>
<ellipse cx="426.6" cy="44.6" rx="5.2" ry="6.4" transform="rotate(35 426.6 44.6)" fill="#a47838" stroke="#3e3020" stroke-width="0.7"/>
<path d="M443.9 38.0 Q451.4 39.7 457.7 35.4 Q457.2 41.8 458.3 43.2 Q461.6 50.5 468.8 57.0 Q465.3 58.6 467.5 63.6 Q461.6 59.7 459.6 59.7 Q453.8 58.1 447.8 59.7 Q445.4 58.7 438.6 61.0 Q443.8 54.5 443.9 49.2 Q445.9 45.3 443.9 38.0Z" fill="#f1dec6" stroke="#5a5048" stroke-width="0.7"/>
<ellipse cx="451.5" cy="49.8" rx="4.0" ry="6.0" transform="rotate(25 451.5 49.8)" fill="#a47838" stroke="#3e3020" stroke-width="0.7"/>
<path d="M413.0 60.3 Q420.0 61.8 425.5 58.4 Q429.7 63.9 437.3 65.6 Q433.6 70.2 435.3 74.1 Q433.6 76.2 437.3 80.7 Q428.1 80.7 421.5 85.3 Q419.7 79.1 416.3 76.8 Q415.3 74.9 410.4 74.8 Q412.6 71.3 409.7 67.6 Q413.7 65.5 413.0 60.3Z" fill="#f1dec6" stroke="#5a5048" stroke-width="0.7"/>
<ellipse cx="423.6" cy="70.2" rx="5.0" ry="6.3" transform="rotate(-10 423.6 70.2)" fill="#a47838" stroke="#3e3020" stroke-width="0.7"/>
<path d="M442.6 63.6 Q452.3 64.8 461.0 61.6 Q460.7 66.4 463.6 67.6 Q465.1 71.4 472.1 74.1 Q461.9 80.3 455.7 89.9 Q451.2 84.0 445.2 83.3 Q444.3 77.7 438.6 74.1 Q443.3 69.8 442.6 63.6Z" fill="#f1dec6" stroke="#5a5048" stroke-width="0.7"/>
<ellipse cx="452.6" cy="75.2" rx="5.8" ry="6.0" transform="rotate(35 452.6 75.2)" fill="#a47838" stroke="#3e3020" stroke-width="0.7"/>
<text x="43.20" y="304.50" font-size="9.9" text-anchor="start" fill="#1a1a1a" stroke="#1a1a1a" >Free target</text>
<text x="155.20" y="303.90" font-size="9.9" text-anchor="middle" fill="#1a1a1a" stroke="#1a1a1a" >100%</text>
<text x="156.50" y="315.30" font-size="9.9" text-anchor="middle" fill="#1a1a1a" stroke="#1a1a1a" >bound target</text>
<g transform="translate(0,0)">
<path d="M33 352 C36 347 40 347 44 345 C47 343 49 342 52 342 C54 341 55 338 57 339 C60 340 63 343 66 345 L68 348" fill="none" stroke="#555" stroke-width="1.7"/>
<path d="M33 352 C36 347 40 347 44 345 C47 343 49 342 52 342 C54 341 55 338 57 339 C60 340 63 343 66 345 L68 348" fill="none" stroke="#f4f4f4" stroke-width="0.8"/>
<path d="M66 345 C69 340 70 334 72 332 C75 331 79 334 82 337" fill="none" stroke="#555" stroke-width="1.7"/>
<path d="M66 345 C69 340 70 334 72 332 C75 331 79 334 82 337" fill="none" stroke="#f4f4f4" stroke-width="0.8"/>
<path d="M40 365 C45 367 50 362 55 360 C58 359 60 361 64 362" fill="none" stroke="#555" stroke-width="1.7"/>
<path d="M40 365 C45 367 50 362 55 360 C58 359 60 361 64 362" fill="none" stroke="#f4f4f4" stroke-width="0.8"/>
<path d="M28 377 C32 382 36 383 41 381 C44 384 46 389 48 391" fill="none" stroke="#555" stroke-width="1.7"/>
<path d="M28 377 C32 382 36 383 41 381 C44 384 46 389 48 391" fill="none" stroke="#f4f4f4" stroke-width="0.8"/>
<path d="M59 390 C60 398 63 404 69 406 C73 406 76 404 78 400" fill="none" stroke="#555" stroke-width="1.7"/>
<path d="M59 390 C60 398 63 404 69 406 C73 406 76 404 78 400" fill="none" stroke="#f4f4f4" stroke-width="0.8"/>
<path d="M76 385 C80 388 84 393 88 396" fill="none" stroke="#555" stroke-width="1.7"/>
<path d="M76 385 C80 388 84 393 88 396" fill="none" stroke="#f4f4f4" stroke-width="0.8"/>
<path d="M73 374 C70 372 68 370 67 366" fill="none" stroke="#555" stroke-width="1.7"/>
<path d="M73 374 C70 372 68 370 67 366" fill="none" stroke="#f4f4f4" stroke-width="0.8"/>
<path d="M34.5 352 C36 347 39.5 344.5 43 345 C46.5 345.5 50 348.5 51.5 352.5 C52 355 50 357.5 47.5 357.5 C44 357.5 41 356 38.5 356.5 C36 357 34 355 34.5 352 Z" fill="#dedede" stroke="#8a8a8a" stroke-width="0.7"/>
<path d="M38 350 C40.5 347.5 44 347.5 47 350" fill="none" stroke="#ffffff" stroke-width="1.6" stroke-linecap="round"/>
<path d="M27.49 364.89 L27.52 365.22" stroke="#333333" stroke-width="4.55" stroke-linecap="round" fill="none"/>
<path d="M27.52 365.22 L27.88 366.06" stroke="#333333" stroke-width="4.55" stroke-linecap="round" fill="none"/>
<path d="M27.88 366.06 L28.55 367.26" stroke="#333333" stroke-width="4.55" stroke-linecap="round" fill="none"/>
<path d="M28.55 367.26 L29.50 368.68" stroke="#333333" stroke-width="4.55" stroke-linecap="round" fill="none"/>
<path d="M29.50 368.68 L30.66 370.12" stroke="#333333" stroke-width="4.55" stroke-linecap="round" fill="none"/>
<path d="M30.66 370.12 L31.91 371.38" stroke="#333333" stroke-width="4.55" stroke-linecap="round" fill="none"/>
<path d="M31.91 371.38 L33.15 372.29" stroke="#333333" stroke-width="4.55" stroke-linecap="round" fill="none"/>
<path d="M33.15 372.29 L34.27 372.73" stroke="#333333" stroke-width="4.55" stroke-linecap="round" fill="none"/>
<path d="M34.27 372.73 L35.17 372.61" stroke="#333333" stroke-width="4.55" stroke-linecap="round" fill="none"/>
<path d="M33.27 361.89 L33.30 362.22" stroke="#333333" stroke-width="4.55" stroke-linecap="round" fill="none"/>
<path d="M33.30 362.22 L33.66 363.06" stroke="#333333" stroke-width="4.55" stroke-linecap="round" fill="none"/>
<path d="M33.66 363.06 L34.33 364.26" stroke="#333333" stroke-width="4.55" stroke-linecap="round" fill="none"/>
<path d="M34.33 364.26 L35.28 365.68" stroke="#333333" stroke-width="4.55" stroke-linecap="round" fill="none"/>
<path d="M35.28 365.68 L36.44 367.12" stroke="#333333" stroke-width="4.55" stroke-linecap="round" fill="none"/>
<path d="M36.44 367.12 L37.69 368.38" stroke="#333333" stroke-width="4.55" stroke-linecap="round" fill="none"/>
<path d="M37.69 368.38 L38.93 369.29" stroke="#333333" stroke-width="4.55" stroke-linecap="round" fill="none"/>
<path d="M38.93 369.29 L40.05 369.73" stroke="#333333" stroke-width="4.55" stroke-linecap="round" fill="none"/>
<path d="M40.05 369.73 L40.95 369.61" stroke="#333333" stroke-width="4.55" stroke-linecap="round" fill="none"/>
<path d="M39.05 358.89 L39.08 359.22" stroke="#333333" stroke-width="4.55" stroke-linecap="round" fill="none"/>
<path d="M39.08 359.22 L39.43 360.06" stroke="#333333" stroke-width="4.55" stroke-linecap="round" fill="none"/>
<path d="M39.43 360.06 L40.11 361.26" stroke="#333333" stroke-width="4.55" stroke-linecap="round" fill="none"/>
<path d="M40.11 361.26 L41.06 362.68" stroke="#333333" stroke-width="4.55" stroke-linecap="round" fill="none"/>
<path d="M41.06 362.68 L42.21 364.12" stroke="#333333" stroke-width="4.55" stroke-linecap="round" fill="none"/>
<path d="M42.21 364.12 L43.47 365.38" stroke="#333333" stroke-width="4.55" stroke-linecap="round" fill="none"/>
<path d="M43.47 365.38 L44.71 366.29" stroke="#333333" stroke-width="4.55" stroke-linecap="round" fill="none"/>
<path d="M44.71 366.29 L45.83 366.73" stroke="#333333" stroke-width="4.55" stroke-linecap="round" fill="none"/>
<path d="M45.83 366.73 L46.73 366.61" stroke="#333333" stroke-width="4.55" stroke-linecap="round" fill="none"/>
<path d="M44.83 355.89 L44.86 356.22" stroke="#333333" stroke-width="4.55" stroke-linecap="round" fill="none"/>
<path d="M44.86 356.22 L45.21 357.06" stroke="#333333" stroke-width="4.55" stroke-linecap="round" fill="none"/>
<path d="M45.21 357.06 L45.89 358.26" stroke="#333333" stroke-width="4.55" stroke-linecap="round" fill="none"/>
<path d="M45.89 358.26 L46.84 359.68" stroke="#333333" stroke-width="4.55" stroke-linecap="round" fill="none"/>
<path d="M46.84 359.68 L47.99 361.12" stroke="#333333" stroke-width="4.55" stroke-linecap="round" fill="none"/>
<path d="M47.99 361.12 L49.25 362.38" stroke="#333333" stroke-width="4.55" stroke-linecap="round" fill="none"/>
<path d="M49.25 362.38 L50.49 363.29" stroke="#333333" stroke-width="4.55" stroke-linecap="round" fill="none"/>
<path d="M50.49 363.29 L51.61 363.73" stroke="#333333" stroke-width="4.55" stroke-linecap="round" fill="none"/>
<path d="M51.61 363.73 L52.51 363.61" stroke="#333333" stroke-width="4.55" stroke-linecap="round" fill="none"/>
<path d="M27.49 364.89 L27.52 365.22" stroke="#656565" stroke-width="3.65" stroke-linecap="round" fill="none"/>
<path d="M27.52 365.22 L27.88 366.06" stroke="#5c5c5c" stroke-width="3.65" stroke-linecap="round" fill="none"/>
<path d="M27.88 366.06 L28.55 367.26" stroke="#555555" stroke-width="3.65" stroke-linecap="round" fill="none"/>
<path d="M28.55 367.26 L29.50 368.68" stroke="#505050" stroke-width="3.65" stroke-linecap="round" fill="none"/>
<path d="M29.50 368.68 L30.66 370.12" stroke="#4e4e4e" stroke-width="3.65" stroke-linecap="round" fill="none"/>
<path d="M30.66 370.12 L31.91 371.38" stroke="#505050" stroke-width="3.65" stroke-linecap="round" fill="none"/>
<path d="M31.91 371.38 L33.15 372.29" stroke="#555555" stroke-width="3.65" stroke-linecap="round" fill="none"/>
<path d="M33.15 372.29 L34.27 372.73" stroke="#5c5c5c" stroke-width="3.65" stroke-linecap="round" fill="none"/>
<path d="M34.27 372.73 L35.17 372.61" stroke="#656565" stroke-width="3.65" stroke-linecap="round" fill="none"/>
<path d="M33.27 361.89 L33.30 362.22" stroke="#656565" stroke-width="3.65" stroke-linecap="round" fill="none"/>
<path d="M33.30 362.22 L33.66 363.06" stroke="#5c5c5c" stroke-width="3.65" stroke-linecap="round" fill="none"/>
<path d="M33.66 363.06 L34.33 364.26" stroke="#555555" stroke-width="3.65" stroke-linecap="round" fill="none"/>
<path d="M34.33 364.26 L35.28 365.68" stroke="#505050" stroke-width="3.65" stroke-linecap="round" fill="none"/>
<path d="M35.28 365.68 L36.44 367.12" stroke="#4e4e4e" stroke-width="3.65" stroke-linecap="round" fill="none"/>
<path d="M36.44 367.12 L37.69 368.38" stroke="#505050" stroke-width="3.65" stroke-linecap="round" fill="none"/>
<path d="M37.69 368.38 L38.93 369.29" stroke="#555555" stroke-width="3.65" stroke-linecap="round" fill="none"/>
<path d="M38.93 369.29 L40.05 369.73" stroke="#5c5c5c" stroke-width="3.65" stroke-linecap="round" fill="none"/>
<path d="M40.05 369.73 L40.95 369.61" stroke="#656565" stroke-width="3.65" stroke-linecap="round" fill="none"/>
<path d="M39.05 358.89 L39.08 359.22" stroke="#656565" stroke-width="3.65" stroke-linecap="round" fill="none"/>
<path d="M39.08 359.22 L39.43 360.06" stroke="#5c5c5c" stroke-width="3.65" stroke-linecap="round" fill="none"/>
<path d="M39.43 360.06 L40.11 361.26" stroke="#555555" stroke-width="3.65" stroke-linecap="round" fill="none"/>
<path d="M40.11 361.26 L41.06 362.68" stroke="#505050" stroke-width="3.65" stroke-linecap="round" fill="none"/>
<path d="M41.06 362.68 L42.21 364.12" stroke="#4e4e4e" stroke-width="3.65" stroke-linecap="round" fill="none"/>
<path d="M42.21 364.12 L43.47 365.38" stroke="#505050" stroke-width="3.65" stroke-linecap="round" fill="none"/>
<path d="M43.47 365.38 L44.71 366.29" stroke="#555555" stroke-width="3.65" stroke-linecap="round" fill="none"/>
<path d="M44.71 366.29 L45.83 366.73" stroke="#5c5c5c" stroke-width="3.65" stroke-linecap="round" fill="none"/>
<path d="M45.83 366.73 L46.73 366.61" stroke="#656565" stroke-width="3.65" stroke-linecap="round" fill="none"/>
<path d="M44.83 355.89 L44.86 356.22" stroke="#656565" stroke-width="3.65" stroke-linecap="round" fill="none"/>
<path d="M44.86 356.22 L45.21 357.06" stroke="#5c5c5c" stroke-width="3.65" stroke-linecap="round" fill="none"/>
<path d="M45.21 357.06 L45.89 358.26" stroke="#555555" stroke-width="3.65" stroke-linecap="round" fill="none"/>
<path d="M45.89 358.26 L46.84 359.68" stroke="#505050" stroke-width="3.65" stroke-linecap="round" fill="none"/>
<path d="M46.84 359.68 L47.99 361.12" stroke="#4e4e4e" stroke-width="3.65" stroke-linecap="round" fill="none"/>
<path d="M47.99 361.12 L49.25 362.38" stroke="#505050" stroke-width="3.65" stroke-linecap="round" fill="none"/>
<path d="M49.25 362.38 L50.49 363.29" stroke="#555555" stroke-width="3.65" stroke-linecap="round" fill="none"/>
<path d="M50.49 363.29 L51.61 363.73" stroke="#5c5c5c" stroke-width="3.65" stroke-linecap="round" fill="none"/>
<path d="M51.61 363.73 L52.51 363.61" stroke="#656565" stroke-width="3.65" stroke-linecap="round" fill="none"/>
<path d="M29.40 375.61 L30.01 374.94" stroke="#333333" stroke-width="4.55" stroke-linecap="round" fill="none"/>
<path d="M30.01 374.94 L30.29 373.78" stroke="#333333" stroke-width="4.55" stroke-linecap="round" fill="none"/>
<path d="M30.29 373.78 L30.26 372.24" stroke="#333333" stroke-width="4.55" stroke-linecap="round" fill="none"/>
<path d="M30.26 372.24 L29.95 370.48" stroke="#333333" stroke-width="4.55" stroke-linecap="round" fill="none"/>
<path d="M29.95 370.48 L29.44 368.72" stroke="#333333" stroke-width="4.55" stroke-linecap="round" fill="none"/>
<path d="M29.44 368.72 L28.83 367.12" stroke="#333333" stroke-width="4.55" stroke-linecap="round" fill="none"/>
<path d="M28.83 367.12 L28.23 365.87" stroke="#333333" stroke-width="4.55" stroke-linecap="round" fill="none"/>
<path d="M28.23 365.87 L27.75 365.10" stroke="#333333" stroke-width="4.55" stroke-linecap="round" fill="none"/>
<path d="M27.75 365.10 L27.49 364.89" stroke="#333333" stroke-width="4.55" stroke-linecap="round" fill="none"/>
<path d="M35.17 372.61 L35.79 371.94" stroke="#333333" stroke-width="4.55" stroke-linecap="round" fill="none"/>
<path d="M35.79 371.94 L36.07 370.78" stroke="#333333" stroke-width="4.55" stroke-linecap="round" fill="none"/>
<path d="M36.07 370.78 L36.04 369.24" stroke="#333333" stroke-width="4.55" stroke-linecap="round" fill="none"/>
<path d="M36.04 369.24 L35.73 367.48" stroke="#333333" stroke-width="4.55" stroke-linecap="round" fill="none"/>
<path d="M35.73 367.48 L35.22 365.72" stroke="#333333" stroke-width="4.55" stroke-linecap="round" fill="none"/>
<path d="M35.22 365.72 L34.61 364.12" stroke="#333333" stroke-width="4.55" stroke-linecap="round" fill="none"/>
<path d="M34.61 364.12 L34.01 362.87" stroke="#333333" stroke-width="4.55" stroke-linecap="round" fill="none"/>
<path d="M34.01 362.87 L33.53 362.10" stroke="#333333" stroke-width="4.55" stroke-linecap="round" fill="none"/>
<path d="M33.53 362.10 L33.27 361.89" stroke="#333333" stroke-width="4.55" stroke-linecap="round" fill="none"/>
<path d="M40.95 369.61 L41.56 368.94" stroke="#333333" stroke-width="4.55" stroke-linecap="round" fill="none"/>
<path d="M41.56 368.94 L41.85 367.78" stroke="#333333" stroke-width="4.55" stroke-linecap="round" fill="none"/>
<path d="M41.85 367.78 L41.82 366.24" stroke="#333333" stroke-width="4.55" stroke-linecap="round" fill="none"/>
<path d="M41.82 366.24 L41.51 364.48" stroke="#333333" stroke-width="4.55" stroke-linecap="round" fill="none"/>
<path d="M41.51 364.48 L41.00 362.72" stroke="#333333" stroke-width="4.55" stroke-linecap="round" fill="none"/>
<path d="M41.00 362.72 L40.38 361.12" stroke="#333333" stroke-width="4.55" stroke-linecap="round" fill="none"/>
<path d="M40.38 361.12 L39.78 359.87" stroke="#333333" stroke-width="4.55" stroke-linecap="round" fill="none"/>
<path d="M39.78 359.87 L39.31 359.10" stroke="#333333" stroke-width="4.55" stroke-linecap="round" fill="none"/>
<path d="M39.31 359.10 L39.05 358.89" stroke="#333333" stroke-width="4.55" stroke-linecap="round" fill="none"/>
<path d="M46.73 366.61 L47.34 365.94" stroke="#333333" stroke-width="4.55" stroke-linecap="round" fill="none"/>
<path d="M47.34 365.94 L47.63 364.78" stroke="#333333" stroke-width="4.55" stroke-linecap="round" fill="none"/>
<path d="M47.63 364.78 L47.60 363.24" stroke="#333333" stroke-width="4.55" stroke-linecap="round" fill="none"/>
<path d="M47.60 363.24 L47.29 361.48" stroke="#333333" stroke-width="4.55" stroke-linecap="round" fill="none"/>
<path d="M47.29 361.48 L46.77 359.72" stroke="#333333" stroke-width="4.55" stroke-linecap="round" fill="none"/>
<path d="M46.77 359.72 L46.16 358.12" stroke="#333333" stroke-width="4.55" stroke-linecap="round" fill="none"/>
<path d="M46.16 358.12 L45.56 356.87" stroke="#333333" stroke-width="4.55" stroke-linecap="round" fill="none"/>
<path d="M45.56 356.87 L45.08 356.10" stroke="#333333" stroke-width="4.55" stroke-linecap="round" fill="none"/>
<path d="M45.08 356.10 L44.83 355.89" stroke="#333333" stroke-width="4.55" stroke-linecap="round" fill="none"/>
<path d="M52.51 363.61 L53.12 362.94" stroke="#333333" stroke-width="4.55" stroke-linecap="round" fill="none"/>
<path d="M53.12 362.94 L53.41 361.78" stroke="#333333" stroke-width="4.55" stroke-linecap="round" fill="none"/>
<path d="M53.41 361.78 L53.37 360.24" stroke="#333333" stroke-width="4.55" stroke-linecap="round" fill="none"/>
<path d="M53.37 360.24 L53.06 358.48" stroke="#333333" stroke-width="4.55" stroke-linecap="round" fill="none"/>
<path d="M53.06 358.48 L52.55 356.72" stroke="#333333" stroke-width="4.55" stroke-linecap="round" fill="none"/>
<path d="M52.55 356.72 L51.94 355.12" stroke="#333333" stroke-width="4.55" stroke-linecap="round" fill="none"/>
<path d="M51.94 355.12 L51.34 353.87" stroke="#333333" stroke-width="4.55" stroke-linecap="round" fill="none"/>
<path d="M51.34 353.87 L50.86 353.10" stroke="#333333" stroke-width="4.55" stroke-linecap="round" fill="none"/>
<path d="M50.86 353.10 L50.60 352.89" stroke="#333333" stroke-width="4.55" stroke-linecap="round" fill="none"/>
<path d="M29.40 375.61 L30.01 374.94" stroke="#a5a5a5" stroke-width="3.65" stroke-linecap="round" fill="none"/>
<path d="M30.01 374.94 L30.29 373.78" stroke="#bababa" stroke-width="3.65" stroke-linecap="round" fill="none"/>
<path d="M30.29 373.78 L30.26 372.24" stroke="#c9c9c9" stroke-width="3.65" stroke-linecap="round" fill="none"/>
<path d="M30.26 372.24 L29.95 370.48" stroke="#d0d0d0" stroke-width="3.65" stroke-linecap="round" fill="none"/>
<path d="M29.95 370.48 L29.44 368.72" stroke="#cdcdcd" stroke-width="3.65" stroke-linecap="round" fill="none"/>
<path d="M29.44 368.72 L28.83 367.12" stroke="#c2c2c2" stroke-width="3.65" stroke-linecap="round" fill="none"/>
<path d="M28.83 367.12 L28.23 365.87" stroke="#afafaf" stroke-width="3.65" stroke-linecap="round" fill="none"/>
<path d="M28.23 365.87 L27.75 365.10" stroke="#969696" stroke-width="3.65" stroke-linecap="round" fill="none"/>
<path d="M27.75 365.10 L27.49 364.89" stroke="#7c7c7c" stroke-width="3.65" stroke-linecap="round" fill="none"/>
<path d="M35.17 372.61 L35.79 371.94" stroke="#a5a5a5" stroke-width="3.65" stroke-linecap="round" fill="none"/>
<path d="M35.79 371.94 L36.07 370.78" stroke="#bababa" stroke-width="3.65" stroke-linecap="round" fill="none"/>
<path d="M36.07 370.78 L36.04 369.24" stroke="#c9c9c9" stroke-width="3.65" stroke-linecap="round" fill="none"/>
<path d="M36.04 369.24 L35.73 367.48" stroke="#d0d0d0" stroke-width="3.65" stroke-linecap="round" fill="none"/>
<path d="M35.73 367.48 L35.22 365.72" stroke="#cdcdcd" stroke-width="3.65" stroke-linecap="round" fill="none"/>
<path d="M35.22 365.72 L34.61 364.12" stroke="#c2c2c2" stroke-width="3.65" stroke-linecap="round" fill="none"/>
<path d="M34.61 364.12 L34.01 362.87" stroke="#afafaf" stroke-width="3.65" stroke-linecap="round" fill="none"/>
<path d="M34.01 362.87 L33.53 362.10" stroke="#969696" stroke-width="3.65" stroke-linecap="round" fill="none"/>
<path d="M33.53 362.10 L33.27 361.89" stroke="#7c7c7c" stroke-width="3.65" stroke-linecap="round" fill="none"/>
<path d="M40.95 369.61 L41.56 368.94" stroke="#a5a5a5" stroke-width="3.65" stroke-linecap="round" fill="none"/>
<path d="M41.56 368.94 L41.85 367.78" stroke="#bababa" stroke-width="3.65" stroke-linecap="round" fill="none"/>
<path d="M41.85 367.78 L41.82 366.24" stroke="#c9c9c9" stroke-width="3.65" stroke-linecap="round" fill="none"/>
<path d="M41.82 366.24 L41.51 364.48" stroke="#d0d0d0" stroke-width="3.65" stroke-linecap="round" fill="none"/>
<path d="M41.51 364.48 L41.00 362.72" stroke="#cdcdcd" stroke-width="3.65" stroke-linecap="round" fill="none"/>
<path d="M41.00 362.72 L40.38 361.12" stroke="#c2c2c2" stroke-width="3.65" stroke-linecap="round" fill="none"/>
<path d="M40.38 361.12 L39.78 359.87" stroke="#afafaf" stroke-width="3.65" stroke-linecap="round" fill="none"/>
<path d="M39.78 359.87 L39.31 359.10" stroke="#969696" stroke-width="3.65" stroke-linecap="round" fill="none"/>
<path d="M39.31 359.10 L39.05 358.89" stroke="#7c7c7c" stroke-width="3.65" stroke-linecap="round" fill="none"/>
<path d="M46.73 366.61 L47.34 365.94" stroke="#a5a5a5" stroke-width="3.65" stroke-linecap="round" fill="none"/>
<path d="M47.34 365.94 L47.63 364.78" stroke="#bababa" stroke-width="3.65" stroke-linecap="round" fill="none"/>
<path d="M47.63 364.78 L47.60 363.24" stroke="#c9c9c9" stroke-width="3.65" stroke-linecap="round" fill="none"/>
<path d="M47.60 363.24 L47.29 361.48" stroke="#d0d0d0" stroke-width="3.65" stroke-linecap="round" fill="none"/>
<path d="M47.29 361.48 L46.77 359.72" stroke="#cdcdcd" stroke-width="3.65" stroke-linecap="round" fill="none"/>
<path d="M46.77 359.72 L46.16 358.12" stroke="#c2c2c2" stroke-width="3.65" stroke-linecap="round" fill="none"/>
<path d="M46.16 358.12 L45.56 356.87" stroke="#afafaf" stroke-width="3.65" stroke-linecap="round" fill="none"/>
<path d="M45.56 356.87 L45.08 356.10" stroke="#969696" stroke-width="3.65" stroke-linecap="round" fill="none"/>
<path d="M45.08 356.10 L44.83 355.89" stroke="#7c7c7c" stroke-width="3.65" stroke-linecap="round" fill="none"/>
<path d="M52.51 363.61 L53.12 362.94" stroke="#a5a5a5" stroke-width="3.65" stroke-linecap="round" fill="none"/>
<path d="M53.12 362.94 L53.41 361.78" stroke="#bababa" stroke-width="3.65" stroke-linecap="round" fill="none"/>
<path d="M53.41 361.78 L53.37 360.24" stroke="#c9c9c9" stroke-width="3.65" stroke-linecap="round" fill="none"/>
<path d="M53.37 360.24 L53.06 358.48" stroke="#d0d0d0" stroke-width="3.65" stroke-linecap="round" fill="none"/>
<path d="M53.06 358.48 L52.55 356.72" stroke="#cdcdcd" stroke-width="3.65" stroke-linecap="round" fill="none"/>
<path d="M52.55 356.72 L51.94 355.12" stroke="#c2c2c2" stroke-width="3.65" stroke-linecap="round" fill="none"/>
<path d="M51.94 355.12 L51.34 353.87" stroke="#afafaf" stroke-width="3.65" stroke-linecap="round" fill="none"/>
<path d="M51.34 353.87 L50.86 353.10" stroke="#969696" stroke-width="3.65" stroke-linecap="round" fill="none"/>
<path d="M50.86 353.10 L50.60 352.89" stroke="#7c7c7c" stroke-width="3.65" stroke-linecap="round" fill="none"/>
<polygon points="57.7,381.7 40.5,386.2 40.2,385.0 37.0,388.5 41.5,390.0 41.2,388.7 58.3,384.3" fill="#6e6e6e" stroke="#333" stroke-width="0.5"/>
<polygon points="47.0,393.6 59.5,372.6 60.5,373.2 60.5,368.5 56.4,370.7 57.4,371.3 45.0,392.4" fill="#8c8c8c" stroke="#444" stroke-width="0.5"/>
<polygon points="51.7,372.6 56.6,369.4 57.3,370.5 58.0,367.0 54.5,366.2 55.2,367.3 50.3,370.4" fill="#c8c8c8" stroke="#777" stroke-width="0.5"/>
<polygon points="68.2,346.1 69.7,374.1 68.6,374.1 71.0,378.0 73.0,373.9 71.9,373.9 70.4,345.9" fill="#a8a8a8" stroke="#555" stroke-width="0.5"/>
<polygon points="60.5,390.4 66.5,365.5 68.2,365.9 65.8,361.2 61.6,364.3 63.2,364.7 57.1,389.6" fill="#a31c23" stroke="#5a0a0d" stroke-width="0.5"/>
<path d="M65.5 361 C68 361 70 360 72 357 C74 354 77 354 81 355 C85 356 89 356 91 359 C92 362 91 365 90 366" fill="none" stroke="#a91d25" stroke-width="1.3"/>
<path d="M75.50 384.57 L75.24 384.39" stroke="#333333" stroke-width="4.90" stroke-linecap="round" fill="none"/>
<path d="M75.24 384.39 L74.50 384.33" stroke="#333333" stroke-width="4.90" stroke-linecap="round" fill="none"/>
<path d="M74.50 384.33 L73.37 384.46" stroke="#333333" stroke-width="4.90" stroke-linecap="round" fill="none"/>
<path d="M73.37 384.46 L72.00 384.81" stroke="#333333" stroke-width="4.90" stroke-linecap="round" fill="none"/>
<path d="M72.00 384.81 L70.55 385.43" stroke="#333333" stroke-width="4.90" stroke-linecap="round" fill="none"/>
<path d="M70.55 385.43 L69.21 386.29" stroke="#333333" stroke-width="4.90" stroke-linecap="round" fill="none"/>
<path d="M69.21 386.29 L68.14 387.35" stroke="#333333" stroke-width="4.90" stroke-linecap="round" fill="none"/>
<path d="M68.14 387.35 L67.46 388.56" stroke="#333333" stroke-width="4.90" stroke-linecap="round" fill="none"/>
<path d="M67.46 388.56 L67.28 389.83" stroke="#333333" stroke-width="4.90" stroke-linecap="round" fill="none"/>
<path d="M76.02 394.17 L75.76 393.99" stroke="#333333" stroke-width="4.90" stroke-linecap="round" fill="none"/>
<path d="M75.76 393.99 L75.02 393.93" stroke="#333333" stroke-width="4.90" stroke-linecap="round" fill="none"/>
<path d="M75.02 393.93 L73.89 394.06" stroke="#333333" stroke-width="4.90" stroke-linecap="round" fill="none"/>
<path d="M73.89 394.06 L72.52 394.41" stroke="#333333" stroke-width="4.90" stroke-linecap="round" fill="none"/>
<path d="M72.52 394.41 L71.07 395.03" stroke="#333333" stroke-width="4.90" stroke-linecap="round" fill="none"/>
<path d="M71.07 395.03 L69.73 395.89" stroke="#333333" stroke-width="4.90" stroke-linecap="round" fill="none"/>
<path d="M69.73 395.89 L68.66 396.95" stroke="#333333" stroke-width="4.90" stroke-linecap="round" fill="none"/>
<path d="M68.66 396.95 L67.98 398.16" stroke="#333333" stroke-width="4.90" stroke-linecap="round" fill="none"/>
<path d="M67.98 398.16 L67.80 399.43" stroke="#333333" stroke-width="4.90" stroke-linecap="round" fill="none"/>
<path d="M75.50 384.57 L75.24 384.39" stroke="#656565" stroke-width="4.00" stroke-linecap="round" fill="none"/>
<path d="M75.24 384.39 L74.50 384.33" stroke="#5c5c5c" stroke-width="4.00" stroke-linecap="round" fill="none"/>
<path d="M74.50 384.33 L73.37 384.46" stroke="#555555" stroke-width="4.00" stroke-linecap="round" fill="none"/>
<path d="M73.37 384.46 L72.00 384.81" stroke="#505050" stroke-width="4.00" stroke-linecap="round" fill="none"/>
<path d="M72.00 384.81 L70.55 385.43" stroke="#4e4e4e" stroke-width="4.00" stroke-linecap="round" fill="none"/>
<path d="M70.55 385.43 L69.21 386.29" stroke="#505050" stroke-width="4.00" stroke-linecap="round" fill="none"/>
<path d="M69.21 386.29 L68.14 387.35" stroke="#555555" stroke-width="4.00" stroke-linecap="round" fill="none"/>
<path d="M68.14 387.35 L67.46 388.56" stroke="#5c5c5c" stroke-width="4.00" stroke-linecap="round" fill="none"/>
<path d="M67.46 388.56 L67.28 389.83" stroke="#656565" stroke-width="4.00" stroke-linecap="round" fill="none"/>
<path d="M76.02 394.17 L75.76 393.99" stroke="#656565" stroke-width="4.00" stroke-linecap="round" fill="none"/>
<path d="M75.76 393.99 L75.02 393.93" stroke="#5c5c5c" stroke-width="4.00" stroke-linecap="round" fill="none"/>
<path d="M75.02 393.93 L73.89 394.06" stroke="#555555" stroke-width="4.00" stroke-linecap="round" fill="none"/>
<path d="M73.89 394.06 L72.52 394.41" stroke="#505050" stroke-width="4.00" stroke-linecap="round" fill="none"/>
<path d="M72.52 394.41 L71.07 395.03" stroke="#4e4e4e" stroke-width="4.00" stroke-linecap="round" fill="none"/>
<path d="M71.07 395.03 L69.73 395.89" stroke="#505050" stroke-width="4.00" stroke-linecap="round" fill="none"/>
<path d="M69.73 395.89 L68.66 396.95" stroke="#555555" stroke-width="4.00" stroke-linecap="round" fill="none"/>
<path d="M68.66 396.95 L67.98 398.16" stroke="#5c5c5c" stroke-width="4.00" stroke-linecap="round" fill="none"/>
<path d="M67.98 398.16 L67.80 399.43" stroke="#656565" stroke-width="4.00" stroke-linecap="round" fill="none"/>
<path d="M66.76 380.23 L67.08 381.47" stroke="#333333" stroke-width="4.90" stroke-linecap="round" fill="none"/>
<path d="M67.08 381.47 L67.88 382.60" stroke="#333333" stroke-width="4.90" stroke-linecap="round" fill="none"/>
<path d="M67.88 382.60 L69.06 383.54" stroke="#333333" stroke-width="4.90" stroke-linecap="round" fill="none"/>
<path d="M69.06 383.54 L70.49 384.25" stroke="#333333" stroke-width="4.90" stroke-linecap="round" fill="none"/>
<path d="M70.49 384.25 L71.99 384.71" stroke="#333333" stroke-width="4.90" stroke-linecap="round" fill="none"/>
<path d="M71.99 384.71 L73.39 384.91" stroke="#333333" stroke-width="4.90" stroke-linecap="round" fill="none"/>
<path d="M73.39 384.91 L74.53 384.91" stroke="#333333" stroke-width="4.90" stroke-linecap="round" fill="none"/>
<path d="M74.53 384.91 L75.26 384.77" stroke="#333333" stroke-width="4.90" stroke-linecap="round" fill="none"/>
<path d="M75.26 384.77 L75.50 384.57" stroke="#333333" stroke-width="4.90" stroke-linecap="round" fill="none"/>
<path d="M67.28 389.83 L67.60 391.07" stroke="#333333" stroke-width="4.90" stroke-linecap="round" fill="none"/>
<path d="M67.60 391.07 L68.40 392.20" stroke="#333333" stroke-width="4.90" stroke-linecap="round" fill="none"/>
<path d="M68.40 392.20 L69.58 393.14" stroke="#333333" stroke-width="4.90" stroke-linecap="round" fill="none"/>
<path d="M69.58 393.14 L71.01 393.85" stroke="#333333" stroke-width="4.90" stroke-linecap="round" fill="none"/>
<path d="M71.01 393.85 L72.51 394.31" stroke="#333333" stroke-width="4.90" stroke-linecap="round" fill="none"/>
<path d="M72.51 394.31 L73.91 394.51" stroke="#333333" stroke-width="4.90" stroke-linecap="round" fill="none"/>
<path d="M73.91 394.51 L75.05 394.51" stroke="#333333" stroke-width="4.90" stroke-linecap="round" fill="none"/>
<path d="M75.05 394.51 L75.78 394.37" stroke="#333333" stroke-width="4.90" stroke-linecap="round" fill="none"/>
<path d="M75.78 394.37 L76.02 394.17" stroke="#333333" stroke-width="4.90" stroke-linecap="round" fill="none"/>
<path d="M67.80 399.43 L68.12 400.67" stroke="#333333" stroke-width="4.90" stroke-linecap="round" fill="none"/>
<path d="M68.12 400.67 L68.92 401.80" stroke="#333333" stroke-width="4.90" stroke-linecap="round" fill="none"/>
<path d="M68.92 401.80 L70.10 402.74" stroke="#333333" stroke-width="4.90" stroke-linecap="round" fill="none"/>
<path d="M70.10 402.74 L71.53 403.45" stroke="#333333" stroke-width="4.90" stroke-linecap="round" fill="none"/>
<path d="M71.53 403.45 L73.03 403.91" stroke="#333333" stroke-width="4.90" stroke-linecap="round" fill="none"/>
<path d="M73.03 403.91 L74.43 404.11" stroke="#333333" stroke-width="4.90" stroke-linecap="round" fill="none"/>
<path d="M74.43 404.11 L75.57 404.11" stroke="#333333" stroke-width="4.90" stroke-linecap="round" fill="none"/>
<path d="M75.57 404.11 L76.30 403.97" stroke="#333333" stroke-width="4.90" stroke-linecap="round" fill="none"/>
<path d="M76.30 403.97 L76.54 403.77" stroke="#333333" stroke-width="4.90" stroke-linecap="round" fill="none"/>
<path d="M66.76 380.23 L67.08 381.47" stroke="#646464" stroke-width="4.00" stroke-linecap="round" fill="none"/>
<path d="M67.08 381.47 L67.88 382.60" stroke="#828282" stroke-width="4.00" stroke-linecap="round" fill="none"/>
<path d="M67.88 382.60 L69.06 383.54" stroke="#9f9f9f" stroke-width="4.00" stroke-linecap="round" fill="none"/>
<path d="M69.06 383.54 L70.49 384.25" stroke="#bababa" stroke-width="4.00" stroke-linecap="round" fill="none"/>
<path d="M70.49 384.25 L71.99 384.71" stroke="#cdcdcd" stroke-width="4.00" stroke-linecap="round" fill="none"/>
<path d="M71.99 384.71 L73.39 384.91" stroke="#d8d8d8" stroke-width="4.00" stroke-linecap="round" fill="none"/>
<path d="M73.39 384.91 L74.53 384.91" stroke="#d9d9d9" stroke-width="4.00" stroke-linecap="round" fill="none"/>
<path d="M74.53 384.91 L75.26 384.77" stroke="#cfcfcf" stroke-width="4.00" stroke-linecap="round" fill="none"/>
<path d="M75.26 384.77 L75.50 384.57" stroke="#bdbdbd" stroke-width="4.00" stroke-linecap="round" fill="none"/>
<path d="M67.28 389.83 L67.60 391.07" stroke="#646464" stroke-width="4.00" stroke-linecap="round" fill="none"/>
<path d="M67.60 391.07 L68.40 392.20" stroke="#828282" stroke-width="4.00" stroke-linecap="round" fill="none"/>
<path d="M68.40 392.20 L69.58 393.14" stroke="#9f9f9f" stroke-width="4.00" stroke-linecap="round" fill="none"/>
<path d="M69.58 393.14 L71.01 393.85" stroke="#bababa" stroke-width="4.00" stroke-linecap="round" fill="none"/>
<path d="M71.01 393.85 L72.51 394.31" stroke="#cdcdcd" stroke-width="4.00" stroke-linecap="round" fill="none"/>
<path d="M72.51 394.31 L73.91 394.51" stroke="#d8d8d8" stroke-width="4.00" stroke-linecap="round" fill="none"/>
<path d="M73.91 394.51 L75.05 394.51" stroke="#d9d9d9" stroke-width="4.00" stroke-linecap="round" fill="none"/>
<path d="M75.05 394.51 L75.78 394.37" stroke="#cfcfcf" stroke-width="4.00" stroke-linecap="round" fill="none"/>
<path d="M75.78 394.37 L76.02 394.17" stroke="#bdbdbd" stroke-width="4.00" stroke-linecap="round" fill="none"/>
<path d="M67.80 399.43 L68.12 400.67" stroke="#646464" stroke-width="4.00" stroke-linecap="round" fill="none"/>
<path d="M68.12 400.67 L68.92 401.80" stroke="#828282" stroke-width="4.00" stroke-linecap="round" fill="none"/>
<path d="M68.92 401.80 L70.10 402.74" stroke="#9f9f9f" stroke-width="4.00" stroke-linecap="round" fill="none"/>
<path d="M70.10 402.74 L71.53 403.45" stroke="#bababa" stroke-width="4.00" stroke-linecap="round" fill="none"/>
<path d="M71.53 403.45 L73.03 403.91" stroke="#cdcdcd" stroke-width="4.00" stroke-linecap="round" fill="none"/>
<path d="M73.03 403.91 L74.43 404.11" stroke="#d8d8d8" stroke-width="4.00" stroke-linecap="round" fill="none"/>
<path d="M74.43 404.11 L75.57 404.11" stroke="#d9d9d9" stroke-width="4.00" stroke-linecap="round" fill="none"/>
<path d="M75.57 404.11 L76.30 403.97" stroke="#cfcfcf" stroke-width="4.00" stroke-linecap="round" fill="none"/>
<path d="M76.30 403.97 L76.54 403.77" stroke="#bdbdbd" stroke-width="4.00" stroke-linecap="round" fill="none"/>
<path d="M92.45 341.42 L92.08 341.26" stroke="#333333" stroke-width="5.20" stroke-linecap="round" fill="none"/>
<path d="M92.08 341.26 L91.10 341.23" stroke="#333333" stroke-width="5.20" stroke-linecap="round" fill="none"/>
<path d="M91.10 341.23 L89.62 341.42" stroke="#333333" stroke-width="5.20" stroke-linecap="round" fill="none"/>
<path d="M89.62 341.42 L87.84 341.85" stroke="#333333" stroke-width="5.20" stroke-linecap="round" fill="none"/>
<path d="M87.84 341.85 L85.97 342.55" stroke="#333333" stroke-width="5.20" stroke-linecap="round" fill="none"/>
<path d="M85.97 342.55 L84.24 343.49" stroke="#333333" stroke-width="5.20" stroke-linecap="round" fill="none"/>
<path d="M84.24 343.49 L82.88 344.62" stroke="#333333" stroke-width="5.20" stroke-linecap="round" fill="none"/>
<path d="M82.88 344.62 L82.05 345.88" stroke="#333333" stroke-width="5.20" stroke-linecap="round" fill="none"/>
<path d="M82.05 345.88 L81.85 347.18" stroke="#333333" stroke-width="5.20" stroke-linecap="round" fill="none"/>
<path d="M93.18 351.09 L92.77 350.93" stroke="#333333" stroke-width="5.20" stroke-linecap="round" fill="none"/>
<path d="M92.77 350.93 L91.75 350.92" stroke="#333333" stroke-width="5.20" stroke-linecap="round" fill="none"/>
<path d="M91.75 350.92 L90.24 351.12" stroke="#333333" stroke-width="5.20" stroke-linecap="round" fill="none"/>
<path d="M90.24 351.12 L88.45 351.57" stroke="#333333" stroke-width="5.20" stroke-linecap="round" fill="none"/>
<path d="M88.45 351.57 L86.58 352.28" stroke="#333333" stroke-width="5.20" stroke-linecap="round" fill="none"/>
<path d="M86.58 352.28 L84.87 353.24" stroke="#333333" stroke-width="5.20" stroke-linecap="round" fill="none"/>
<path d="M84.87 353.24 L83.54 354.38" stroke="#333333" stroke-width="5.20" stroke-linecap="round" fill="none"/>
<path d="M83.54 354.38 L82.75 355.65" stroke="#333333" stroke-width="5.20" stroke-linecap="round" fill="none"/>
<path d="M82.75 355.65 L82.59 356.94" stroke="#333333" stroke-width="5.20" stroke-linecap="round" fill="none"/>
<path d="M93.90 360.76 L93.45 360.61" stroke="#4e080c" stroke-width="5.20" stroke-linecap="round" fill="none"/>
<path d="M93.45 360.61 L92.39 360.61" stroke="#4e080c" stroke-width="5.20" stroke-linecap="round" fill="none"/>
<path d="M92.39 360.61 L90.87 360.82" stroke="#4e080c" stroke-width="5.20" stroke-linecap="round" fill="none"/>
<path d="M90.87 360.82 L89.06 361.29" stroke="#4e080c" stroke-width="5.20" stroke-linecap="round" fill="none"/>
<path d="M89.06 361.29 L87.20 362.02" stroke="#4e080c" stroke-width="5.20" stroke-linecap="round" fill="none"/>
<path d="M87.20 362.02 L85.51 362.99" stroke="#4e080c" stroke-width="5.20" stroke-linecap="round" fill="none"/>
<path d="M85.51 362.99 L84.20 364.14" stroke="#4e080c" stroke-width="5.20" stroke-linecap="round" fill="none"/>
<path d="M84.20 364.14 L83.45 365.41" stroke="#4e080c" stroke-width="5.20" stroke-linecap="round" fill="none"/>
<path d="M83.45 365.41 L83.34 366.71" stroke="#4e080c" stroke-width="5.20" stroke-linecap="round" fill="none"/>
<path d="M94.62 370.43 L94.13 370.29" stroke="#4e080c" stroke-width="5.20" stroke-linecap="round" fill="none"/>
<path d="M94.13 370.29 L93.04 370.30" stroke="#4e080c" stroke-width="5.20" stroke-linecap="round" fill="none"/>
<path d="M93.04 370.30 L91.49 370.53" stroke="#4e080c" stroke-width="5.20" stroke-linecap="round" fill="none"/>
<path d="M91.49 370.53 L89.67 371.01" stroke="#4e080c" stroke-width="5.20" stroke-linecap="round" fill="none"/>
<path d="M89.67 371.01 L87.81 371.75" stroke="#4e080c" stroke-width="5.20" stroke-linecap="round" fill="none"/>
<path d="M87.81 371.75 L86.14 372.74" stroke="#4e080c" stroke-width="5.20" stroke-linecap="round" fill="none"/>
<path d="M86.14 372.74 L84.87 373.90" stroke="#4e080c" stroke-width="5.20" stroke-linecap="round" fill="none"/>
<path d="M84.87 373.90 L84.15 375.18" stroke="#4e080c" stroke-width="5.20" stroke-linecap="round" fill="none"/>
<path d="M84.15 375.18 L84.08 376.47" stroke="#4e080c" stroke-width="5.20" stroke-linecap="round" fill="none"/>
<path d="M95.34 380.10 L94.81 379.97" stroke="#333333" stroke-width="5.20" stroke-linecap="round" fill="none"/>
<path d="M94.81 379.97 L93.68 379.99" stroke="#333333" stroke-width="5.20" stroke-linecap="round" fill="none"/>
<path d="M93.68 379.99 L92.11 380.23" stroke="#333333" stroke-width="5.20" stroke-linecap="round" fill="none"/>
<path d="M92.11 380.23 L90.28 380.73" stroke="#333333" stroke-width="5.20" stroke-linecap="round" fill="none"/>
<path d="M90.28 380.73 L88.43 381.49" stroke="#333333" stroke-width="5.20" stroke-linecap="round" fill="none"/>
<path d="M88.43 381.49 L86.78 382.49" stroke="#333333" stroke-width="5.20" stroke-linecap="round" fill="none"/>
<path d="M86.78 382.49 L85.53 383.66" stroke="#333333" stroke-width="5.20" stroke-linecap="round" fill="none"/>
<path d="M85.53 383.66 L84.86 384.94" stroke="#333333" stroke-width="5.20" stroke-linecap="round" fill="none"/>
<path d="M84.86 384.94 L84.83 386.23" stroke="#333333" stroke-width="5.20" stroke-linecap="round" fill="none"/>
<path d="M96.05 389.77 L95.48 389.64" stroke="#333333" stroke-width="5.20" stroke-linecap="round" fill="none"/>
<path d="M95.48 389.64 L94.32 389.68" stroke="#333333" stroke-width="5.20" stroke-linecap="round" fill="none"/>
<path d="M94.32 389.68 L92.73 389.94" stroke="#333333" stroke-width="5.20" stroke-linecap="round" fill="none"/>
<path d="M92.73 389.94 L90.89 390.45" stroke="#333333" stroke-width="5.20" stroke-linecap="round" fill="none"/>
<path d="M90.89 390.45 L89.04 391.23" stroke="#333333" stroke-width="5.20" stroke-linecap="round" fill="none"/>
<path d="M89.04 391.23 L87.41 392.24" stroke="#333333" stroke-width="5.20" stroke-linecap="round" fill="none"/>
<path d="M87.41 392.24 L86.20 393.43" stroke="#333333" stroke-width="5.20" stroke-linecap="round" fill="none"/>
<path d="M86.20 393.43 L85.57 394.71" stroke="#333333" stroke-width="5.20" stroke-linecap="round" fill="none"/>
<path d="M85.57 394.71 L85.58 395.99" stroke="#333333" stroke-width="5.20" stroke-linecap="round" fill="none"/>
<path d="M92.45 341.42 L92.08 341.26" stroke="#646464" stroke-width="4.30" stroke-linecap="round" fill="none"/>
<path d="M92.08 341.26 L91.10 341.23" stroke="#5c5c5c" stroke-width="4.30" stroke-linecap="round" fill="none"/>
<path d="M91.10 341.23 L89.62 341.42" stroke="#555555" stroke-width="4.30" stroke-linecap="round" fill="none"/>
<path d="M89.62 341.42 L87.84 341.85" stroke="#505050" stroke-width="4.30" stroke-linecap="round" fill="none"/>
<path d="M87.84 341.85 L85.97 342.55" stroke="#4e4e4e" stroke-width="4.30" stroke-linecap="round" fill="none"/>
<path d="M85.97 342.55 L84.24 343.49" stroke="#505050" stroke-width="4.30" stroke-linecap="round" fill="none"/>
<path d="M84.24 343.49 L82.88 344.62" stroke="#555555" stroke-width="4.30" stroke-linecap="round" fill="none"/>
<path d="M82.88 344.62 L82.05 345.88" stroke="#5c5c5c" stroke-width="4.30" stroke-linecap="round" fill="none"/>
<path d="M82.05 345.88 L81.85 347.18" stroke="#656565" stroke-width="4.30" stroke-linecap="round" fill="none"/>
<path d="M93.18 351.09 L92.77 350.93" stroke="#646464" stroke-width="4.30" stroke-linecap="round" fill="none"/>
<path d="M92.77 350.93 L91.75 350.92" stroke="#5b5b5b" stroke-width="4.30" stroke-linecap="round" fill="none"/>
<path d="M91.75 350.92 L90.24 351.12" stroke="#545454" stroke-width="4.30" stroke-linecap="round" fill="none"/>
<path d="M90.24 351.12 L88.45 351.57" stroke="#505050" stroke-width="4.30" stroke-linecap="round" fill="none"/>
<path d="M88.45 351.57 L86.58 352.28" stroke="#4e4e4e" stroke-width="4.30" stroke-linecap="round" fill="none"/>
<path d="M86.58 352.28 L84.87 353.24" stroke="#505050" stroke-width="4.30" stroke-linecap="round" fill="none"/>
<path d="M84.87 353.24 L83.54 354.38" stroke="#555555" stroke-width="4.30" stroke-linecap="round" fill="none"/>
<path d="M83.54 354.38 L82.75 355.65" stroke="#5d5d5d" stroke-width="4.30" stroke-linecap="round" fill="none"/>
<path d="M82.75 355.65 L82.59 356.94" stroke="#666666" stroke-width="4.30" stroke-linecap="round" fill="none"/>
<path d="M93.90 360.76 L93.45 360.61" stroke="#660d13" stroke-width="4.30" stroke-linecap="round" fill="none"/>
<path d="M93.45 360.61 L92.39 360.61" stroke="#620c11" stroke-width="4.30" stroke-linecap="round" fill="none"/>
<path d="M92.39 360.61 L90.87 360.82" stroke="#5e0b10" stroke-width="4.30" stroke-linecap="round" fill="none"/>
<path d="M90.87 360.82 L89.06 361.29" stroke="#5c0b10" stroke-width="4.30" stroke-linecap="round" fill="none"/>
<path d="M89.06 361.29 L87.20 362.02" stroke="#5c0b10" stroke-width="4.30" stroke-linecap="round" fill="none"/>
<path d="M87.20 362.02 L85.51 362.99" stroke="#5d0b10" stroke-width="4.30" stroke-linecap="round" fill="none"/>
<path d="M85.51 362.99 L84.20 364.14" stroke="#600b11" stroke-width="4.30" stroke-linecap="round" fill="none"/>
<path d="M84.20 364.14 L83.45 365.41" stroke="#630c12" stroke-width="4.30" stroke-linecap="round" fill="none"/>
<path d="M83.45 365.41 L83.34 366.71" stroke="#680d13" stroke-width="4.30" stroke-linecap="round" fill="none"/>
<path d="M94.62 370.43 L94.13 370.29" stroke="#660d13" stroke-width="4.30" stroke-linecap="round" fill="none"/>
<path d="M94.13 370.29 L93.04 370.30" stroke="#620c11" stroke-width="4.30" stroke-linecap="round" fill="none"/>
<path d="M93.04 370.30 L91.49 370.53" stroke="#5e0b10" stroke-width="4.30" stroke-linecap="round" fill="none"/>
<path d="M91.49 370.53 L89.67 371.01" stroke="#5c0b10" stroke-width="4.30" stroke-linecap="round" fill="none"/>
<path d="M89.67 371.01 L87.81 371.75" stroke="#5c0b10" stroke-width="4.30" stroke-linecap="round" fill="none"/>
<path d="M87.81 371.75 L86.14 372.74" stroke="#5d0b10" stroke-width="4.30" stroke-linecap="round" fill="none"/>
<path d="M86.14 372.74 L84.87 373.90" stroke="#600b11" stroke-width="4.30" stroke-linecap="round" fill="none"/>
<path d="M84.87 373.90 L84.15 375.18" stroke="#640c12" stroke-width="4.30" stroke-linecap="round" fill="none"/>
<path d="M84.15 375.18 L84.08 376.47" stroke="#680d13" stroke-width="4.30" stroke-linecap="round" fill="none"/>
<path d="M95.34 380.10 L94.81 379.97" stroke="#626262" stroke-width="4.30" stroke-linecap="round" fill="none"/>
<path d="M94.81 379.97 L93.68 379.99" stroke="#5a5a5a" stroke-width="4.30" stroke-linecap="round" fill="none"/>
<path d="M93.68 379.99 L92.11 380.23" stroke="#535353" stroke-width="4.30" stroke-linecap="round" fill="none"/>
<path d="M92.11 380.23 L90.28 380.73" stroke="#4f4f4f" stroke-width="4.30" stroke-linecap="round" fill="none"/>
<path d="M90.28 380.73 L88.43 381.49" stroke="#4f4f4f" stroke-width="4.30" stroke-linecap="round" fill="none"/>
<path d="M88.43 381.49 L86.78 382.49" stroke="#515151" stroke-width="4.30" stroke-linecap="round" fill="none"/>
<path d="M86.78 382.49 L85.53 383.66" stroke="#575757" stroke-width="4.30" stroke-linecap="round" fill="none"/>
<path d="M85.53 383.66 L84.86 384.94" stroke="#5f5f5f" stroke-width="4.30" stroke-linecap="round" fill="none"/>
<path d="M84.86 384.94 L84.83 386.23" stroke="#686868" stroke-width="4.30" stroke-linecap="round" fill="none"/>
<path d="M96.05 389.77 L95.48 389.64" stroke="#626262" stroke-width="4.30" stroke-linecap="round" fill="none"/>
<path d="M95.48 389.64 L94.32 389.68" stroke="#595959" stroke-width="4.30" stroke-linecap="round" fill="none"/>
<path d="M94.32 389.68 L92.73 389.94" stroke="#535353" stroke-width="4.30" stroke-linecap="round" fill="none"/>
<path d="M92.73 389.94 L90.89 390.45" stroke="#4f4f4f" stroke-width="4.30" stroke-linecap="round" fill="none"/>
<path d="M90.89 390.45 L89.04 391.23" stroke="#4f4f4f" stroke-width="4.30" stroke-linecap="round" fill="none"/>
<path d="M89.04 391.23 L87.41 392.24" stroke="#515151" stroke-width="4.30" stroke-linecap="round" fill="none"/>
<path d="M87.41 392.24 L86.20 393.43" stroke="#575757" stroke-width="4.30" stroke-linecap="round" fill="none"/>
<path d="M86.20 393.43 L85.57 394.71" stroke="#5f5f5f" stroke-width="4.30" stroke-linecap="round" fill="none"/>
<path d="M85.57 394.71 L85.58 395.99" stroke="#686868" stroke-width="4.30" stroke-linecap="round" fill="none"/>
<path d="M81.12 337.41 L81.54 338.66" stroke="#333333" stroke-width="5.20" stroke-linecap="round" fill="none"/>
<path d="M81.54 338.66 L82.59 339.77" stroke="#333333" stroke-width="5.20" stroke-linecap="round" fill="none"/>
<path d="M82.59 339.77 L84.14 340.67" stroke="#333333" stroke-width="5.20" stroke-linecap="round" fill="none"/>
<path d="M84.14 340.67 L86.00 341.33" stroke="#333333" stroke-width="5.20" stroke-linecap="round" fill="none"/>
<path d="M86.00 341.33 L87.95 341.72" stroke="#333333" stroke-width="5.20" stroke-linecap="round" fill="none"/>
<path d="M87.95 341.72 L89.76 341.87" stroke="#333333" stroke-width="5.20" stroke-linecap="round" fill="none"/>
<path d="M89.76 341.87 L91.22 341.81" stroke="#333333" stroke-width="5.20" stroke-linecap="round" fill="none"/>
<path d="M91.22 341.81 L92.15 341.64" stroke="#333333" stroke-width="5.20" stroke-linecap="round" fill="none"/>
<path d="M92.15 341.64 L92.45 341.42" stroke="#333333" stroke-width="5.20" stroke-linecap="round" fill="none"/>
<path d="M81.85 347.18 L82.32 348.42" stroke="#333333" stroke-width="5.20" stroke-linecap="round" fill="none"/>
<path d="M82.32 348.42 L83.41 349.52" stroke="#333333" stroke-width="5.20" stroke-linecap="round" fill="none"/>
<path d="M83.41 349.52 L84.98 350.41" stroke="#333333" stroke-width="5.20" stroke-linecap="round" fill="none"/>
<path d="M84.98 350.41 L86.85 351.04" stroke="#333333" stroke-width="5.20" stroke-linecap="round" fill="none"/>
<path d="M86.85 351.04 L88.80 351.42" stroke="#333333" stroke-width="5.20" stroke-linecap="round" fill="none"/>
<path d="M88.80 351.42 L90.60 351.55" stroke="#333333" stroke-width="5.20" stroke-linecap="round" fill="none"/>
<path d="M90.60 351.55 L92.03 351.49" stroke="#333333" stroke-width="5.20" stroke-linecap="round" fill="none"/>
<path d="M92.03 351.49 L92.92 351.31" stroke="#333333" stroke-width="5.20" stroke-linecap="round" fill="none"/>
<path d="M92.92 351.31 L93.18 351.09" stroke="#333333" stroke-width="5.20" stroke-linecap="round" fill="none"/>
<path d="M82.59 356.94 L83.11 358.17" stroke="#333333" stroke-width="5.20" stroke-linecap="round" fill="none"/>
<path d="M83.11 358.17 L84.22 359.26" stroke="#333333" stroke-width="5.20" stroke-linecap="round" fill="none"/>
<path d="M84.22 359.26 L85.82 360.14" stroke="#333333" stroke-width="5.20" stroke-linecap="round" fill="none"/>
<path d="M85.82 360.14 L87.70 360.76" stroke="#333333" stroke-width="5.20" stroke-linecap="round" fill="none"/>
<path d="M87.70 360.76 L89.65 361.12" stroke="#333333" stroke-width="5.20" stroke-linecap="round" fill="none"/>
<path d="M89.65 361.12 L91.43 361.23" stroke="#333333" stroke-width="5.20" stroke-linecap="round" fill="none"/>
<path d="M91.43 361.23 L92.83 361.16" stroke="#333333" stroke-width="5.20" stroke-linecap="round" fill="none"/>
<path d="M92.83 361.16 L93.69 360.98" stroke="#4e080c" stroke-width="5.20" stroke-linecap="round" fill="none"/>
<path d="M93.69 360.98 L93.90 360.76" stroke="#4e080c" stroke-width="5.20" stroke-linecap="round" fill="none"/>
<path d="M83.34 366.71 L83.89 367.93" stroke="#4e080c" stroke-width="5.20" stroke-linecap="round" fill="none"/>
<path d="M83.89 367.93 L85.04 369.01" stroke="#4e080c" stroke-width="5.20" stroke-linecap="round" fill="none"/>
<path d="M85.04 369.01 L86.66 369.87" stroke="#4e080c" stroke-width="5.20" stroke-linecap="round" fill="none"/>
<path d="M86.66 369.87 L88.56 370.47" stroke="#4e080c" stroke-width="5.20" stroke-linecap="round" fill="none"/>
<path d="M88.56 370.47 L90.50 370.81" stroke="#4e080c" stroke-width="5.20" stroke-linecap="round" fill="none"/>
<path d="M90.50 370.81 L92.26 370.92" stroke="#4e080c" stroke-width="5.20" stroke-linecap="round" fill="none"/>
<path d="M92.26 370.92 L93.63 370.84" stroke="#4e080c" stroke-width="5.20" stroke-linecap="round" fill="none"/>
<path d="M93.63 370.84 L94.45 370.64" stroke="#4e080c" stroke-width="5.20" stroke-linecap="round" fill="none"/>
<path d="M94.45 370.64 L94.62 370.43" stroke="#4e080c" stroke-width="5.20" stroke-linecap="round" fill="none"/>
<path d="M84.08 376.47 L84.68 377.69" stroke="#4e080c" stroke-width="5.20" stroke-linecap="round" fill="none"/>
<path d="M84.68 377.69 L85.86 378.75" stroke="#4e080c" stroke-width="5.20" stroke-linecap="round" fill="none"/>
<path d="M85.86 378.75 L87.51 379.59" stroke="#333333" stroke-width="5.20" stroke-linecap="round" fill="none"/>
<path d="M87.51 379.59 L89.41 380.18" stroke="#333333" stroke-width="5.20" stroke-linecap="round" fill="none"/>
<path d="M89.41 380.18 L91.35 380.51" stroke="#333333" stroke-width="5.20" stroke-linecap="round" fill="none"/>
<path d="M91.35 380.51 L93.09 380.60" stroke="#333333" stroke-width="5.20" stroke-linecap="round" fill="none"/>
<path d="M93.09 380.60 L94.43 380.51" stroke="#333333" stroke-width="5.20" stroke-linecap="round" fill="none"/>
<path d="M94.43 380.51 L95.21 380.31" stroke="#333333" stroke-width="5.20" stroke-linecap="round" fill="none"/>
<path d="M95.21 380.31 L95.34 380.10" stroke="#333333" stroke-width="5.20" stroke-linecap="round" fill="none"/>
<path d="M84.83 386.23 L85.47 387.44" stroke="#333333" stroke-width="5.20" stroke-linecap="round" fill="none"/>
<path d="M85.47 387.44 L86.69 388.49" stroke="#333333" stroke-width="5.20" stroke-linecap="round" fill="none"/>
<path d="M86.69 388.49 L88.35 389.32" stroke="#333333" stroke-width="5.20" stroke-linecap="round" fill="none"/>
<path d="M88.35 389.32 L90.27 389.89" stroke="#333333" stroke-width="5.20" stroke-linecap="round" fill="none"/>
<path d="M90.27 389.89 L92.20 390.20" stroke="#333333" stroke-width="5.20" stroke-linecap="round" fill="none"/>
<path d="M92.20 390.20 L93.92 390.28" stroke="#333333" stroke-width="5.20" stroke-linecap="round" fill="none"/>
<path d="M93.92 390.28 L95.23 390.18" stroke="#333333" stroke-width="5.20" stroke-linecap="round" fill="none"/>
<path d="M95.23 390.18 L95.97 389.98" stroke="#333333" stroke-width="5.20" stroke-linecap="round" fill="none"/>
<path d="M95.97 389.98 L96.05 389.77" stroke="#333333" stroke-width="5.20" stroke-linecap="round" fill="none"/>
<path d="M85.58 395.99 L86.26 397.20" stroke="#333333" stroke-width="5.20" stroke-linecap="round" fill="none"/>
<path d="M86.26 397.20 L87.51 398.24" stroke="#333333" stroke-width="5.20" stroke-linecap="round" fill="none"/>
<path d="M87.51 398.24 L89.20 399.05" stroke="#333333" stroke-width="5.20" stroke-linecap="round" fill="none"/>
<path d="M89.20 399.05 L91.12 399.60" stroke="#333333" stroke-width="5.20" stroke-linecap="round" fill="none"/>
<path d="M91.12 399.60 L93.05 399.90" stroke="#333333" stroke-width="5.20" stroke-linecap="round" fill="none"/>
<path d="M81.12 337.41 L81.54 338.66" stroke="#646464" stroke-width="4.30" stroke-linecap="round" fill="none"/>
<path d="M81.54 338.66 L82.59 339.77" stroke="#828282" stroke-width="4.30" stroke-linecap="round" fill="none"/>
<path d="M82.59 339.77 L84.14 340.67" stroke="#9f9f9f" stroke-width="4.30" stroke-linecap="round" fill="none"/>
<path d="M84.14 340.67 L86.00 341.33" stroke="#bababa" stroke-width="4.30" stroke-linecap="round" fill="none"/>
<path d="M86.00 341.33 L87.95 341.72" stroke="#cecece" stroke-width="4.30" stroke-linecap="round" fill="none"/>
<path d="M87.95 341.72 L89.76 341.87" stroke="#d8d8d8" stroke-width="4.30" stroke-linecap="round" fill="none"/>
<path d="M89.76 341.87 L91.22 341.81" stroke="#d9d9d9" stroke-width="4.30" stroke-linecap="round" fill="none"/>
<path d="M91.22 341.81 L92.15 341.64" stroke="#cfcfcf" stroke-width="4.30" stroke-linecap="round" fill="none"/>
<path d="M92.15 341.64 L92.45 341.42" stroke="#bcbcbc" stroke-width="4.30" stroke-linecap="round" fill="none"/>
<path d="M81.85 347.18 L82.32 348.42" stroke="#666666" stroke-width="4.30" stroke-linecap="round" fill="none"/>
<path d="M82.32 348.42 L83.41 349.52" stroke="#848484" stroke-width="4.30" stroke-linecap="round" fill="none"/>
<path d="M83.41 349.52 L84.98 350.41" stroke="#a1a1a1" stroke-width="4.30" stroke-linecap="round" fill="none"/>
<path d="M84.98 350.41 L86.85 351.04" stroke="#bbbbbb" stroke-width="4.30" stroke-linecap="round" fill="none"/>
<path d="M86.85 351.04 L88.80 351.42" stroke="#cfcfcf" stroke-width="4.30" stroke-linecap="round" fill="none"/>
<path d="M88.80 351.42 L90.60 351.55" stroke="#d9d9d9" stroke-width="4.30" stroke-linecap="round" fill="none"/>
<path d="M90.60 351.55 L92.03 351.49" stroke="#d8d8d8" stroke-width="4.30" stroke-linecap="round" fill="none"/>
<path d="M92.03 351.49 L92.92 351.31" stroke="#cecece" stroke-width="4.30" stroke-linecap="round" fill="none"/>
<path d="M92.92 351.31 L93.18 351.09" stroke="#bababa" stroke-width="4.30" stroke-linecap="round" fill="none"/>
<path d="M82.59 356.94 L83.11 358.17" stroke="#686868" stroke-width="4.30" stroke-linecap="round" fill="none"/>
<path d="M83.11 358.17 L84.22 359.26" stroke="#868686" stroke-width="4.30" stroke-linecap="round" fill="none"/>
<path d="M84.22 359.26 L85.82 360.14" stroke="#a3a3a3" stroke-width="4.30" stroke-linecap="round" fill="none"/>
<path d="M85.82 360.14 L87.70 360.76" stroke="#bdbdbd" stroke-width="4.30" stroke-linecap="round" fill="none"/>
<path d="M87.70 360.76 L89.65 361.12" stroke="#d0d0d0" stroke-width="4.30" stroke-linecap="round" fill="none"/>
<path d="M89.65 361.12 L91.43 361.23" stroke="#d9d9d9" stroke-width="4.30" stroke-linecap="round" fill="none"/>
<path d="M91.43 361.23 L92.83 361.16" stroke="#d8d8d8" stroke-width="4.30" stroke-linecap="round" fill="none"/>
<path d="M92.83 361.16 L93.69 360.98" stroke="#bb282e" stroke-width="4.30" stroke-linecap="round" fill="none"/>
<path d="M93.69 360.98 L93.90 360.76" stroke="#b0242a" stroke-width="4.30" stroke-linecap="round" fill="none"/>
<path d="M83.34 366.71 L83.89 367.93" stroke="#831319" stroke-width="4.30" stroke-linecap="round" fill="none"/>
<path d="M83.89 367.93 L85.04 369.01" stroke="#94191f" stroke-width="4.30" stroke-linecap="round" fill="none"/>
<path d="M85.04 369.01 L86.66 369.87" stroke="#a42026" stroke-width="4.30" stroke-linecap="round" fill="none"/>
<path d="M86.66 369.87 L88.56 370.47" stroke="#b3252b" stroke-width="4.30" stroke-linecap="round" fill="none"/>
<path d="M88.56 370.47 L90.50 370.81" stroke="#bd292f" stroke-width="4.30" stroke-linecap="round" fill="none"/>
<path d="M90.50 370.81 L92.26 370.92" stroke="#c22b31" stroke-width="4.30" stroke-linecap="round" fill="none"/>
<path d="M92.26 370.92 L93.63 370.84" stroke="#c12a30" stroke-width="4.30" stroke-linecap="round" fill="none"/>
<path d="M93.63 370.84 L94.45 370.64" stroke="#ba282e" stroke-width="4.30" stroke-linecap="round" fill="none"/>
<path d="M94.45 370.64 L94.62 370.43" stroke="#af242a" stroke-width="4.30" stroke-linecap="round" fill="none"/>
<path d="M84.08 376.47 L84.68 377.69" stroke="#841319" stroke-width="4.30" stroke-linecap="round" fill="none"/>
<path d="M84.68 377.69 L85.86 378.75" stroke="#951a20" stroke-width="4.30" stroke-linecap="round" fill="none"/>
<path d="M85.86 378.75 L87.51 379.59" stroke="#a7a7a7" stroke-width="4.30" stroke-linecap="round" fill="none"/>
<path d="M87.51 379.59 L89.41 380.18" stroke="#c0c0c0" stroke-width="4.30" stroke-linecap="round" fill="none"/>
<path d="M89.41 380.18 L91.35 380.51" stroke="#d1d1d1" stroke-width="4.30" stroke-linecap="round" fill="none"/>
<path d="M91.35 380.51 L93.09 380.60" stroke="#d9d9d9" stroke-width="4.30" stroke-linecap="round" fill="none"/>
<path d="M93.09 380.60 L94.43 380.51" stroke="#d7d7d7" stroke-width="4.30" stroke-linecap="round" fill="none"/>
<path d="M94.43 380.51 L95.21 380.31" stroke="#cbcbcb" stroke-width="4.30" stroke-linecap="round" fill="none"/>
<path d="M95.21 380.31 L95.34 380.10" stroke="#b6b6b6" stroke-width="4.30" stroke-linecap="round" fill="none"/>
<path d="M84.83 386.23 L85.47 387.44" stroke="#6d6d6d" stroke-width="4.30" stroke-linecap="round" fill="none"/>
<path d="M85.47 387.44 L86.69 388.49" stroke="#8b8b8b" stroke-width="4.30" stroke-linecap="round" fill="none"/>
<path d="M86.69 388.49 L88.35 389.32" stroke="#a8a8a8" stroke-width="4.30" stroke-linecap="round" fill="none"/>
<path d="M88.35 389.32 L90.27 389.89" stroke="#c1c1c1" stroke-width="4.30" stroke-linecap="round" fill="none"/>
<path d="M90.27 389.89 L92.20 390.20" stroke="#d2d2d2" stroke-width="4.30" stroke-linecap="round" fill="none"/>
<path d="M92.20 390.20 L93.92 390.28" stroke="#dadada" stroke-width="4.30" stroke-linecap="round" fill="none"/>
<path d="M93.92 390.28 L95.23 390.18" stroke="#d7d7d7" stroke-width="4.30" stroke-linecap="round" fill="none"/>
<path d="M95.23 390.18 L95.97 389.98" stroke="#cacaca" stroke-width="4.30" stroke-linecap="round" fill="none"/>
<path d="M95.97 389.98 L96.05 389.77" stroke="#b4b4b4" stroke-width="4.30" stroke-linecap="round" fill="none"/>
<path d="M85.58 395.99 L86.26 397.20" stroke="#6f6f6f" stroke-width="4.30" stroke-linecap="round" fill="none"/>
<path d="M86.26 397.20 L87.51 398.24" stroke="#8d8d8d" stroke-width="4.30" stroke-linecap="round" fill="none"/>
<path d="M87.51 398.24 L89.20 399.05" stroke="#aaaaaa" stroke-width="4.30" stroke-linecap="round" fill="none"/>
<path d="M89.20 399.05 L91.12 399.60" stroke="#c2c2c2" stroke-width="4.30" stroke-linecap="round" fill="none"/>
<path d="M91.12 399.60 L93.05 399.90" stroke="#d3d3d3" stroke-width="4.30" stroke-linecap="round" fill="none"/>
</g>
<g transform="translate(89.5,0)">
<path d="M33 352 C36 347 40 347 44 345 C47 343 49 342 52 342 C54 341 55 338 57 339 C60 340 63 343 66 345 L68 348" fill="none" stroke="#555" stroke-width="1.7"/>
<path d="M33 352 C36 347 40 347 44 345 C47 343 49 342 52 342 C54 341 55 338 57 339 C60 340 63 343 66 345 L68 348" fill="none" stroke="#f4f4f4" stroke-width="0.8"/>
<path d="M66 345 C69 340 70 334 72 332 C75 331 79 334 82 337" fill="none" stroke="#555" stroke-width="1.7"/>
<path d="M66 345 C69 340 70 334 72 332 C75 331 79 334 82 337" fill="none" stroke="#f4f4f4" stroke-width="0.8"/>
<path d="M40 365 C45 367 50 362 55 360 C58 359 60 361 64 362" fill="none" stroke="#555" stroke-width="1.7"/>
<path d="M40 365 C45 367 50 362 55 360 C58 359 60 361 64 362" fill="none" stroke="#f4f4f4" stroke-width="0.8"/>
<path d="M28 377 C32 382 36 383 41 381 C44 384 46 389 48 391" fill="none" stroke="#555" stroke-width="1.7"/>
<path d="M28 377 C32 382 36 383 41 381 C44 384 46 389 48 391" fill="none" stroke="#f4f4f4" stroke-width="0.8"/>
<path d="M59 390 C60 398 63 404 69 406 C73 406 76 404 78 400" fill="none" stroke="#555" stroke-width="1.7"/>
<path d="M59 390 C60 398 63 404 69 406 C73 406 76 404 78 400" fill="none" stroke="#f4f4f4" stroke-width="0.8"/>
<path d="M76 385 C80 388 84 393 88 396" fill="none" stroke="#555" stroke-width="1.7"/>
<path d="M76 385 C80 388 84 393 88 396" fill="none" stroke="#f4f4f4" stroke-width="0.8"/>
<path d="M73 374 C70 372 68 370 67 366" fill="none" stroke="#555" stroke-width="1.7"/>
<path d="M73 374 C70 372 68 370 67 366" fill="none" stroke="#f4f4f4" stroke-width="0.8"/>
<path d="M34.5 352 C36 347 39.5 344.5 43 345 C46.5 345.5 50 348.5 51.5 352.5 C52 355 50 357.5 47.5 357.5 C44 357.5 41 356 38.5 356.5 C36 357 34 355 34.5 352 Z" fill="#dedede" stroke="#8a8a8a" stroke-width="0.7"/>
<path d="M38 350 C40.5 347.5 44 347.5 47 350" fill="none" stroke="#ffffff" stroke-width="1.6" stroke-linecap="round"/>
<path d="M27.49 364.89 L27.52 365.22" stroke="#333333" stroke-width="4.55" stroke-linecap="round" fill="none"/>
<path d="M27.52 365.22 L27.88 366.06" stroke="#333333" stroke-width="4.55" stroke-linecap="round" fill="none"/>
<path d="M27.88 366.06 L28.55 367.26" stroke="#333333" stroke-width="4.55" stroke-linecap="round" fill="none"/>
<path d="M28.55 367.26 L29.50 368.68" stroke="#333333" stroke-width="4.55" stroke-linecap="round" fill="none"/>
<path d="M29.50 368.68 L30.66 370.12" stroke="#333333" stroke-width="4.55" stroke-linecap="round" fill="none"/>
<path d="M30.66 370.12 L31.91 371.38" stroke="#333333" stroke-width="4.55" stroke-linecap="round" fill="none"/>
<path d="M31.91 371.38 L33.15 372.29" stroke="#333333" stroke-width="4.55" stroke-linecap="round" fill="none"/>
<path d="M33.15 372.29 L34.27 372.73" stroke="#333333" stroke-width="4.55" stroke-linecap="round" fill="none"/>
<path d="M34.27 372.73 L35.17 372.61" stroke="#333333" stroke-width="4.55" stroke-linecap="round" fill="none"/>
<path d="M33.27 361.89 L33.30 362.22" stroke="#333333" stroke-width="4.55" stroke-linecap="round" fill="none"/>
<path d="M33.30 362.22 L33.66 363.06" stroke="#333333" stroke-width="4.55" stroke-linecap="round" fill="none"/>
<path d="M33.66 363.06 L34.33 364.26" stroke="#333333" stroke-width="4.55" stroke-linecap="round" fill="none"/>
<path d="M34.33 364.26 L35.28 365.68" stroke="#333333" stroke-width="4.55" stroke-linecap="round" fill="none"/>
<path d="M35.28 365.68 L36.44 367.12" stroke="#333333" stroke-width="4.55" stroke-linecap="round" fill="none"/>
<path d="M36.44 367.12 L37.69 368.38" stroke="#333333" stroke-width="4.55" stroke-linecap="round" fill="none"/>
<path d="M37.69 368.38 L38.93 369.29" stroke="#333333" stroke-width="4.55" stroke-linecap="round" fill="none"/>
<path d="M38.93 369.29 L40.05 369.73" stroke="#333333" stroke-width="4.55" stroke-linecap="round" fill="none"/>
<path d="M40.05 369.73 L40.95 369.61" stroke="#333333" stroke-width="4.55" stroke-linecap="round" fill="none"/>
<path d="M39.05 358.89 L39.08 359.22" stroke="#333333" stroke-width="4.55" stroke-linecap="round" fill="none"/>
<path d="M39.08 359.22 L39.43 360.06" stroke="#333333" stroke-width="4.55" stroke-linecap="round" fill="none"/>
<path d="M39.43 360.06 L40.11 361.26" stroke="#333333" stroke-width="4.55" stroke-linecap="round" fill="none"/>
<path d="M40.11 361.26 L41.06 362.68" stroke="#333333" stroke-width="4.55" stroke-linecap="round" fill="none"/>
<path d="M41.06 362.68 L42.21 364.12" stroke="#333333" stroke-width="4.55" stroke-linecap="round" fill="none"/>
<path d="M42.21 364.12 L43.47 365.38" stroke="#333333" stroke-width="4.55" stroke-linecap="round" fill="none"/>
<path d="M43.47 365.38 L44.71 366.29" stroke="#333333" stroke-width="4.55" stroke-linecap="round" fill="none"/>
<path d="M44.71 366.29 L45.83 366.73" stroke="#333333" stroke-width="4.55" stroke-linecap="round" fill="none"/>
<path d="M45.83 366.73 L46.73 366.61" stroke="#333333" stroke-width="4.55" stroke-linecap="round" fill="none"/>
<path d="M44.83 355.89 L44.86 356.22" stroke="#333333" stroke-width="4.55" stroke-linecap="round" fill="none"/>
<path d="M44.86 356.22 L45.21 357.06" stroke="#333333" stroke-width="4.55" stroke-linecap="round" fill="none"/>
<path d="M45.21 357.06 L45.89 358.26" stroke="#333333" stroke-width="4.55" stroke-linecap="round" fill="none"/>
<path d="M45.89 358.26 L46.84 359.68" stroke="#333333" stroke-width="4.55" stroke-linecap="round" fill="none"/>
<path d="M46.84 359.68 L47.99 361.12" stroke="#333333" stroke-width="4.55" stroke-linecap="round" fill="none"/>
<path d="M47.99 361.12 L49.25 362.38" stroke="#333333" stroke-width="4.55" stroke-linecap="round" fill="none"/>
<path d="M49.25 362.38 L50.49 363.29" stroke="#333333" stroke-width="4.55" stroke-linecap="round" fill="none"/>
<path d="M50.49 363.29 L51.61 363.73" stroke="#333333" stroke-width="4.55" stroke-linecap="round" fill="none"/>
<path d="M51.61 363.73 L52.51 363.61" stroke="#333333" stroke-width="4.55" stroke-linecap="round" fill="none"/>
<path d="M27.49 364.89 L27.52 365.22" stroke="#656565" stroke-width="3.65" stroke-linecap="round" fill="none"/>
<path d="M27.52 365.22 L27.88 366.06" stroke="#5c5c5c" stroke-width="3.65" stroke-linecap="round" fill="none"/>
<path d="M27.88 366.06 L28.55 367.26" stroke="#555555" stroke-width="3.65" stroke-linecap="round" fill="none"/>
<path d="M28.55 367.26 L29.50 368.68" stroke="#505050" stroke-width="3.65" stroke-linecap="round" fill="none"/>
<path d="M29.50 368.68 L30.66 370.12" stroke="#4e4e4e" stroke-width="3.65" stroke-linecap="round" fill="none"/>
<path d="M30.66 370.12 L31.91 371.38" stroke="#505050" stroke-width="3.65" stroke-linecap="round" fill="none"/>
<path d="M31.91 371.38 L33.15 372.29" stroke="#555555" stroke-width="3.65" stroke-linecap="round" fill="none"/>
<path d="M33.15 372.29 L34.27 372.73" stroke="#5c5c5c" stroke-width="3.65" stroke-linecap="round" fill="none"/>
<path d="M34.27 372.73 L35.17 372.61" stroke="#656565" stroke-width="3.65" stroke-linecap="round" fill="none"/>
<path d="M33.27 361.89 L33.30 362.22" stroke="#656565" stroke-width="3.65" stroke-linecap="round" fill="none"/>
<path d="M33.30 362.22 L33.66 363.06" stroke="#5c5c5c" stroke-width="3.65" stroke-linecap="round" fill="none"/>
<path d="M33.66 363.06 L34.33 364.26" stroke="#555555" stroke-width="3.65" stroke-linecap="round" fill="none"/>
<path d="M34.33 364.26 L35.28 365.68" stroke="#505050" stroke-width="3.65" stroke-linecap="round" fill="none"/>
<path d="M35.28 365.68 L36.44 367.12" stroke="#4e4e4e" stroke-width="3.65" stroke-linecap="round" fill="none"/>
<path d="M36.44 367.12 L37.69 368.38" stroke="#505050" stroke-width="3.65" stroke-linecap="round" fill="none"/>
<path d="M37.69 368.38 L38.93 369.29" stroke="#555555" stroke-width="3.65" stroke-linecap="round" fill="none"/>
<path d="M38.93 369.29 L40.05 369.73" stroke="#5c5c5c" stroke-width="3.65" stroke-linecap="round" fill="none"/>
<path d="M40.05 369.73 L40.95 369.61" stroke="#656565" stroke-width="3.65" stroke-linecap="round" fill="none"/>
<path d="M39.05 358.89 L39.08 359.22" stroke="#656565" stroke-width="3.65" stroke-linecap="round" fill="none"/>
<path d="M39.08 359.22 L39.43 360.06" stroke="#5c5c5c" stroke-width="3.65" stroke-linecap="round" fill="none"/>
<path d="M39.43 360.06 L40.11 361.26" stroke="#555555" stroke-width="3.65" stroke-linecap="round" fill="none"/>
<path d="M40.11 361.26 L41.06 362.68" stroke="#505050" stroke-width="3.65" stroke-linecap="round" fill="none"/>
<path d="M41.06 362.68 L42.21 364.12" stroke="#4e4e4e" stroke-width="3.65" stroke-linecap="round" fill="none"/>
<path d="M42.21 364.12 L43.47 365.38" stroke="#505050" stroke-width="3.65" stroke-linecap="round" fill="none"/>
<path d="M43.47 365.38 L44.71 366.29" stroke="#555555" stroke-width="3.65" stroke-linecap="round" fill="none"/>
<path d="M44.71 366.29 L45.83 366.73" stroke="#5c5c5c" stroke-width="3.65" stroke-linecap="round" fill="none"/>
<path d="M45.83 366.73 L46.73 366.61" stroke="#656565" stroke-width="3.65" stroke-linecap="round" fill="none"/>
<path d="M44.83 355.89 L44.86 356.22" stroke="#656565" stroke-width="3.65" stroke-linecap="round" fill="none"/>
<path d="M44.86 356.22 L45.21 357.06" stroke="#5c5c5c" stroke-width="3.65" stroke-linecap="round" fill="none"/>
<path d="M45.21 357.06 L45.89 358.26" stroke="#555555" stroke-width="3.65" stroke-linecap="round" fill="none"/>
<path d="M45.89 358.26 L46.84 359.68" stroke="#505050" stroke-width="3.65" stroke-linecap="round" fill="none"/>
<path d="M46.84 359.68 L47.99 361.12" stroke="#4e4e4e" stroke-width="3.65" stroke-linecap="round" fill="none"/>
<path d="M47.99 361.12 L49.25 362.38" stroke="#505050" stroke-width="3.65" stroke-linecap="round" fill="none"/>
<path d="M49.25 362.38 L50.49 363.29" stroke="#555555" stroke-width="3.65" stroke-linecap="round" fill="none"/>
<path d="M50.49 363.29 L51.61 363.73" stroke="#5c5c5c" stroke-width="3.65" stroke-linecap="round" fill="none"/>
<path d="M51.61 363.73 L52.51 363.61" stroke="#656565" stroke-width="3.65" stroke-linecap="round" fill="none"/>
<path d="M29.40 375.61 L30.01 374.94" stroke="#333333" stroke-width="4.55" stroke-linecap="round" fill="none"/>
<path d="M30.01 374.94 L30.29 373.78" stroke="#333333" stroke-width="4.55" stroke-linecap="round" fill="none"/>
<path d="M30.29 373.78 L30.26 372.24" stroke="#333333" stroke-width="4.55" stroke-linecap="round" fill="none"/>
<path d="M30.26 372.24 L29.95 370.48" stroke="#333333" stroke-width="4.55" stroke-linecap="round" fill="none"/>
<path d="M29.95 370.48 L29.44 368.72" stroke="#333333" stroke-width="4.55" stroke-linecap="round" fill="none"/>
<path d="M29.44 368.72 L28.83 367.12" stroke="#333333" stroke-width="4.55" stroke-linecap="round" fill="none"/>
<path d="M28.83 367.12 L28.23 365.87" stroke="#333333" stroke-width="4.55" stroke-linecap="round" fill="none"/>
<path d="M28.23 365.87 L27.75 365.10" stroke="#333333" stroke-width="4.55" stroke-linecap="round" fill="none"/>
<path d="M27.75 365.10 L27.49 364.89" stroke="#333333" stroke-width="4.55" stroke-linecap="round" fill="none"/>
<path d="M35.17 372.61 L35.79 371.94" stroke="#333333" stroke-width="4.55" stroke-linecap="round" fill="none"/>
<path d="M35.79 371.94 L36.07 370.78" stroke="#333333" stroke-width="4.55" stroke-linecap="round" fill="none"/>
<path d="M36.07 370.78 L36.04 369.24" stroke="#333333" stroke-width="4.55" stroke-linecap="round" fill="none"/>
<path d="M36.04 369.24 L35.73 367.48" stroke="#333333" stroke-width="4.55" stroke-linecap="round" fill="none"/>
<path d="M35.73 367.48 L35.22 365.72" stroke="#333333" stroke-width="4.55" stroke-linecap="round" fill="none"/>
<path d="M35.22 365.72 L34.61 364.12" stroke="#333333" stroke-width="4.55" stroke-linecap="round" fill="none"/>
<path d="M34.61 364.12 L34.01 362.87" stroke="#333333" stroke-width="4.55" stroke-linecap="round" fill="none"/>
<path d="M34.01 362.87 L33.53 362.10" stroke="#333333" stroke-width="4.55" stroke-linecap="round" fill="none"/>
<path d="M33.53 362.10 L33.27 361.89" stroke="#333333" stroke-width="4.55" stroke-linecap="round" fill="none"/>
<path d="M40.95 369.61 L41.56 368.94" stroke="#333333" stroke-width="4.55" stroke-linecap="round" fill="none"/>
<path d="M41.56 368.94 L41.85 367.78" stroke="#333333" stroke-width="4.55" stroke-linecap="round" fill="none"/>
<path d="M41.85 367.78 L41.82 366.24" stroke="#333333" stroke-width="4.55" stroke-linecap="round" fill="none"/>
<path d="M41.82 366.24 L41.51 364.48" stroke="#333333" stroke-width="4.55" stroke-linecap="round" fill="none"/>
<path d="M41.51 364.48 L41.00 362.72" stroke="#333333" stroke-width="4.55" stroke-linecap="round" fill="none"/>
<path d="M41.00 362.72 L40.38 361.12" stroke="#333333" stroke-width="4.55" stroke-linecap="round" fill="none"/>
<path d="M40.38 361.12 L39.78 359.87" stroke="#333333" stroke-width="4.55" stroke-linecap="round" fill="none"/>
<path d="M39.78 359.87 L39.31 359.10" stroke="#333333" stroke-width="4.55" stroke-linecap="round" fill="none"/>
<path d="M39.31 359.10 L39.05 358.89" stroke="#333333" stroke-width="4.55" stroke-linecap="round" fill="none"/>
<path d="M46.73 366.61 L47.34 365.94" stroke="#333333" stroke-width="4.55" stroke-linecap="round" fill="none"/>
<path d="M47.34 365.94 L47.63 364.78" stroke="#333333" stroke-width="4.55" stroke-linecap="round" fill="none"/>
<path d="M47.63 364.78 L47.60 363.24" stroke="#333333" stroke-width="4.55" stroke-linecap="round" fill="none"/>
<path d="M47.60 363.24 L47.29 361.48" stroke="#333333" stroke-width="4.55" stroke-linecap="round" fill="none"/>
<path d="M47.29 361.48 L46.77 359.72" stroke="#333333" stroke-width="4.55" stroke-linecap="round" fill="none"/>
<path d="M46.77 359.72 L46.16 358.12" stroke="#333333" stroke-width="4.55" stroke-linecap="round" fill="none"/>
<path d="M46.16 358.12 L45.56 356.87" stroke="#333333" stroke-width="4.55" stroke-linecap="round" fill="none"/>
<path d="M45.56 356.87 L45.08 356.10" stroke="#333333" stroke-width="4.55" stroke-linecap="round" fill="none"/>
<path d="M45.08 356.10 L44.83 355.89" stroke="#333333" stroke-width="4.55" stroke-linecap="round" fill="none"/>
<path d="M52.51 363.61 L53.12 362.94" stroke="#333333" stroke-width="4.55" stroke-linecap="round" fill="none"/>
<path d="M53.12 362.94 L53.41 361.78" stroke="#333333" stroke-width="4.55" stroke-linecap="round" fill="none"/>
<path d="M53.41 361.78 L53.37 360.24" stroke="#333333" stroke-width="4.55" stroke-linecap="round" fill="none"/>
<path d="M53.37 360.24 L53.06 358.48" stroke="#333333" stroke-width="4.55" stroke-linecap="round" fill="none"/>
<path d="M53.06 358.48 L52.55 356.72" stroke="#333333" stroke-width="4.55" stroke-linecap="round" fill="none"/>
<path d="M52.55 356.72 L51.94 355.12" stroke="#333333" stroke-width="4.55" stroke-linecap="round" fill="none"/>
<path d="M51.94 355.12 L51.34 353.87" stroke="#333333" stroke-width="4.55" stroke-linecap="round" fill="none"/>
<path d="M51.34 353.87 L50.86 353.10" stroke="#333333" stroke-width="4.55" stroke-linecap="round" fill="none"/>
<path d="M50.86 353.10 L50.60 352.89" stroke="#333333" stroke-width="4.55" stroke-linecap="round" fill="none"/>
<path d="M29.40 375.61 L30.01 374.94" stroke="#a5a5a5" stroke-width="3.65" stroke-linecap="round" fill="none"/>
<path d="M30.01 374.94 L30.29 373.78" stroke="#bababa" stroke-width="3.65" stroke-linecap="round" fill="none"/>
<path d="M30.29 373.78 L30.26 372.24" stroke="#c9c9c9" stroke-width="3.65" stroke-linecap="round" fill="none"/>
<path d="M30.26 372.24 L29.95 370.48" stroke="#d0d0d0" stroke-width="3.65" stroke-linecap="round" fill="none"/>
<path d="M29.95 370.48 L29.44 368.72" stroke="#cdcdcd" stroke-width="3.65" stroke-linecap="round" fill="none"/>
<path d="M29.44 368.72 L28.83 367.12" stroke="#c2c2c2" stroke-width="3.65" stroke-linecap="round" fill="none"/>
<path d="M28.83 367.12 L28.23 365.87" stroke="#afafaf" stroke-width="3.65" stroke-linecap="round" fill="none"/>
<path d="M28.23 365.87 L27.75 365.10" stroke="#969696" stroke-width="3.65" stroke-linecap="round" fill="none"/>
<path d="M27.75 365.10 L27.49 364.89" stroke="#7c7c7c" stroke-width="3.65" stroke-linecap="round" fill="none"/>
<path d="M35.17 372.61 L35.79 371.94" stroke="#a5a5a5" stroke-width="3.65" stroke-linecap="round" fill="none"/>
<path d="M35.79 371.94 L36.07 370.78" stroke="#bababa" stroke-width="3.65" stroke-linecap="round" fill="none"/>
<path d="M36.07 370.78 L36.04 369.24" stroke="#c9c9c9" stroke-width="3.65" stroke-linecap="round" fill="none"/>
<path d="M36.04 369.24 L35.73 367.48" stroke="#d0d0d0" stroke-width="3.65" stroke-linecap="round" fill="none"/>
<path d="M35.73 367.48 L35.22 365.72" stroke="#cdcdcd" stroke-width="3.65" stroke-linecap="round" fill="none"/>
<path d="M35.22 365.72 L34.61 364.12" stroke="#c2c2c2" stroke-width="3.65" stroke-linecap="round" fill="none"/>
<path d="M34.61 364.12 L34.01 362.87" stroke="#afafaf" stroke-width="3.65" stroke-linecap="round" fill="none"/>
<path d="M34.01 362.87 L33.53 362.10" stroke="#969696" stroke-width="3.65" stroke-linecap="round" fill="none"/>
<path d="M33.53 362.10 L33.27 361.89" stroke="#7c7c7c" stroke-width="3.65" stroke-linecap="round" fill="none"/>
<path d="M40.95 369.61 L41.56 368.94" stroke="#a5a5a5" stroke-width="3.65" stroke-linecap="round" fill="none"/>
<path d="M41.56 368.94 L41.85 367.78" stroke="#bababa" stroke-width="3.65" stroke-linecap="round" fill="none"/>
<path d="M41.85 367.78 L41.82 366.24" stroke="#c9c9c9" stroke-width="3.65" stroke-linecap="round" fill="none"/>
<path d="M41.82 366.24 L41.51 364.48" stroke="#d0d0d0" stroke-width="3.65" stroke-linecap="round" fill="none"/>
<path d="M41.51 364.48 L41.00 362.72" stroke="#cdcdcd" stroke-width="3.65" stroke-linecap="round" fill="none"/>
<path d="M41.00 362.72 L40.38 361.12" stroke="#c2c2c2" stroke-width="3.65" stroke-linecap="round" fill="none"/>
<path d="M40.38 361.12 L39.78 359.87" stroke="#afafaf" stroke-width="3.65" stroke-linecap="round" fill="none"/>
<path d="M39.78 359.87 L39.31 359.10" stroke="#969696" stroke-width="3.65" stroke-linecap="round" fill="none"/>
<path d="M39.31 359.10 L39.05 358.89" stroke="#7c7c7c" stroke-width="3.65" stroke-linecap="round" fill="none"/>
<path d="M46.73 366.61 L47.34 365.94" stroke="#a5a5a5" stroke-width="3.65" stroke-linecap="round" fill="none"/>
<path d="M47.34 365.94 L47.63 364.78" stroke="#bababa" stroke-width="3.65" stroke-linecap="round" fill="none"/>
<path d="M47.63 364.78 L47.60 363.24" stroke="#c9c9c9" stroke-width="3.65" stroke-linecap="round" fill="none"/>
<path d="M47.60 363.24 L47.29 361.48" stroke="#d0d0d0" stroke-width="3.65" stroke-linecap="round" fill="none"/>
<path d="M47.29 361.48 L46.77 359.72" stroke="#cdcdcd" stroke-width="3.65" stroke-linecap="round" fill="none"/>
<path d="M46.77 359.72 L46.16 358.12" stroke="#c2c2c2" stroke-width="3.65" stroke-linecap="round" fill="none"/>
<path d="M46.16 358.12 L45.56 356.87" stroke="#afafaf" stroke-width="3.65" stroke-linecap="round" fill="none"/>
<path d="M45.56 356.87 L45.08 356.10" stroke="#969696" stroke-width="3.65" stroke-linecap="round" fill="none"/>
<path d="M45.08 356.10 L44.83 355.89" stroke="#7c7c7c" stroke-width="3.65" stroke-linecap="round" fill="none"/>
<path d="M52.51 363.61 L53.12 362.94" stroke="#a5a5a5" stroke-width="3.65" stroke-linecap="round" fill="none"/>
<path d="M53.12 362.94 L53.41 361.78" stroke="#bababa" stroke-width="3.65" stroke-linecap="round" fill="none"/>
<path d="M53.41 361.78 L53.37 360.24" stroke="#c9c9c9" stroke-width="3.65" stroke-linecap="round" fill="none"/>
<path d="M53.37 360.24 L53.06 358.48" stroke="#d0d0d0" stroke-width="3.65" stroke-linecap="round" fill="none"/>
<path d="M53.06 358.48 L52.55 356.72" stroke="#cdcdcd" stroke-width="3.65" stroke-linecap="round" fill="none"/>
<path d="M52.55 356.72 L51.94 355.12" stroke="#c2c2c2" stroke-width="3.65" stroke-linecap="round" fill="none"/>
<path d="M51.94 355.12 L51.34 353.87" stroke="#afafaf" stroke-width="3.65" stroke-linecap="round" fill="none"/>
<path d="M51.34 353.87 L50.86 353.10" stroke="#969696" stroke-width="3.65" stroke-linecap="round" fill="none"/>
<path d="M50.86 353.10 L50.60 352.89" stroke="#7c7c7c" stroke-width="3.65" stroke-linecap="round" fill="none"/>
<polygon points="57.7,381.7 40.5,386.2 40.2,385.0 37.0,388.5 41.5,390.0 41.2,388.7 58.3,384.3" fill="#6e6e6e" stroke="#333" stroke-width="0.5"/>
<polygon points="47.0,393.6 59.5,372.6 60.5,373.2 60.5,368.5 56.4,370.7 57.4,371.3 45.0,392.4" fill="#8c8c8c" stroke="#444" stroke-width="0.5"/>
<polygon points="51.7,372.6 56.6,369.4 57.3,370.5 58.0,367.0 54.5,366.2 55.2,367.3 50.3,370.4" fill="#c8c8c8" stroke="#777" stroke-width="0.5"/>
<polygon points="68.2,346.1 69.7,374.1 68.6,374.1 71.0,378.0 73.0,373.9 71.9,373.9 70.4,345.9" fill="#a8a8a8" stroke="#555" stroke-width="0.5"/>
<polygon points="60.5,390.4 66.5,365.5 68.2,365.9 65.8,361.2 61.6,364.3 63.2,364.7 57.1,389.6" fill="#a31c23" stroke="#5a0a0d" stroke-width="0.5"/>
<path d="M65.5 361 C68 361 70 360 72 357 C74 354 77 354 81 355 C85 356 89 356 91 359 C92 362 91 365 90 366" fill="none" stroke="#a91d25" stroke-width="1.3"/>
<path d="M75.50 384.57 L75.24 384.39" stroke="#333333" stroke-width="4.90" stroke-linecap="round" fill="none"/>
<path d="M75.24 384.39 L74.50 384.33" stroke="#333333" stroke-width="4.90" stroke-linecap="round" fill="none"/>
<path d="M74.50 384.33 L73.37 384.46" stroke="#333333" stroke-width="4.90" stroke-linecap="round" fill="none"/>
<path d="M73.37 384.46 L72.00 384.81" stroke="#333333" stroke-width="4.90" stroke-linecap="round" fill="none"/>
<path d="M72.00 384.81 L70.55 385.43" stroke="#333333" stroke-width="4.90" stroke-linecap="round" fill="none"/>
<path d="M70.55 385.43 L69.21 386.29" stroke="#333333" stroke-width="4.90" stroke-linecap="round" fill="none"/>
<path d="M69.21 386.29 L68.14 387.35" stroke="#333333" stroke-width="4.90" stroke-linecap="round" fill="none"/>
<path d="M68.14 387.35 L67.46 388.56" stroke="#333333" stroke-width="4.90" stroke-linecap="round" fill="none"/>
<path d="M67.46 388.56 L67.28 389.83" stroke="#333333" stroke-width="4.90" stroke-linecap="round" fill="none"/>
<path d="M76.02 394.17 L75.76 393.99" stroke="#333333" stroke-width="4.90" stroke-linecap="round" fill="none"/>
<path d="M75.76 393.99 L75.02 393.93" stroke="#333333" stroke-width="4.90" stroke-linecap="round" fill="none"/>
<path d="M75.02 393.93 L73.89 394.06" stroke="#333333" stroke-width="4.90" stroke-linecap="round" fill="none"/>
<path d="M73.89 394.06 L72.52 394.41" stroke="#333333" stroke-width="4.90" stroke-linecap="round" fill="none"/>
<path d="M72.52 394.41 L71.07 395.03" stroke="#333333" stroke-width="4.90" stroke-linecap="round" fill="none"/>
<path d="M71.07 395.03 L69.73 395.89" stroke="#333333" stroke-width="4.90" stroke-linecap="round" fill="none"/>
<path d="M69.73 395.89 L68.66 396.95" stroke="#333333" stroke-width="4.90" stroke-linecap="round" fill="none"/>
<path d="M68.66 396.95 L67.98 398.16" stroke="#333333" stroke-width="4.90" stroke-linecap="round" fill="none"/>
<path d="M67.98 398.16 L67.80 399.43" stroke="#333333" stroke-width="4.90" stroke-linecap="round" fill="none"/>
<path d="M75.50 384.57 L75.24 384.39" stroke="#656565" stroke-width="4.00" stroke-linecap="round" fill="none"/>
<path d="M75.24 384.39 L74.50 384.33" stroke="#5c5c5c" stroke-width="4.00" stroke-linecap="round" fill="none"/>
<path d="M74.50 384.33 L73.37 384.46" stroke="#555555" stroke-width="4.00" stroke-linecap="round" fill="none"/>
<path d="M73.37 384.46 L72.00 384.81" stroke="#505050" stroke-width="4.00" stroke-linecap="round" fill="none"/>
<path d="M72.00 384.81 L70.55 385.43" stroke="#4e4e4e" stroke-width="4.00" stroke-linecap="round" fill="none"/>
<path d="M70.55 385.43 L69.21 386.29" stroke="#505050" stroke-width="4.00" stroke-linecap="round" fill="none"/>
<path d="M69.21 386.29 L68.14 387.35" stroke="#555555" stroke-width="4.00" stroke-linecap="round" fill="none"/>
<path d="M68.14 387.35 L67.46 388.56" stroke="#5c5c5c" stroke-width="4.00" stroke-linecap="round" fill="none"/>
<path d="M67.46 388.56 L67.28 389.83" stroke="#656565" stroke-width="4.00" stroke-linecap="round" fill="none"/>
<path d="M76.02 394.17 L75.76 393.99" stroke="#656565" stroke-width="4.00" stroke-linecap="round" fill="none"/>
<path d="M75.76 393.99 L75.02 393.93" stroke="#5c5c5c" stroke-width="4.00" stroke-linecap="round" fill="none"/>
<path d="M75.02 393.93 L73.89 394.06" stroke="#555555" stroke-width="4.00" stroke-linecap="round" fill="none"/>
<path d="M73.89 394.06 L72.52 394.41" stroke="#505050" stroke-width="4.00" stroke-linecap="round" fill="none"/>
<path d="M72.52 394.41 L71.07 395.03" stroke="#4e4e4e" stroke-width="4.00" stroke-linecap="round" fill="none"/>
<path d="M71.07 395.03 L69.73 395.89" stroke="#505050" stroke-width="4.00" stroke-linecap="round" fill="none"/>
<path d="M69.73 395.89 L68.66 396.95" stroke="#555555" stroke-width="4.00" stroke-linecap="round" fill="none"/>
<path d="M68.66 396.95 L67.98 398.16" stroke="#5c5c5c" stroke-width="4.00" stroke-linecap="round" fill="none"/>
<path d="M67.98 398.16 L67.80 399.43" stroke="#656565" stroke-width="4.00" stroke-linecap="round" fill="none"/>
<path d="M66.76 380.23 L67.08 381.47" stroke="#333333" stroke-width="4.90" stroke-linecap="round" fill="none"/>
<path d="M67.08 381.47 L67.88 382.60" stroke="#333333" stroke-width="4.90" stroke-linecap="round" fill="none"/>
<path d="M67.88 382.60 L69.06 383.54" stroke="#333333" stroke-width="4.90" stroke-linecap="round" fill="none"/>
<path d="M69.06 383.54 L70.49 384.25" stroke="#333333" stroke-width="4.90" stroke-linecap="round" fill="none"/>
<path d="M70.49 384.25 L71.99 384.71" stroke="#333333" stroke-width="4.90" stroke-linecap="round" fill="none"/>
<path d="M71.99 384.71 L73.39 384.91" stroke="#333333" stroke-width="4.90" stroke-linecap="round" fill="none"/>
<path d="M73.39 384.91 L74.53 384.91" stroke="#333333" stroke-width="4.90" stroke-linecap="round" fill="none"/>
<path d="M74.53 384.91 L75.26 384.77" stroke="#333333" stroke-width="4.90" stroke-linecap="round" fill="none"/>
<path d="M75.26 384.77 L75.50 384.57" stroke="#333333" stroke-width="4.90" stroke-linecap="round" fill="none"/>
<path d="M67.28 389.83 L67.60 391.07" stroke="#333333" stroke-width="4.90" stroke-linecap="round" fill="none"/>
<path d="M67.60 391.07 L68.40 392.20" stroke="#333333" stroke-width="4.90" stroke-linecap="round" fill="none"/>
<path d="M68.40 392.20 L69.58 393.14" stroke="#333333" stroke-width="4.90" stroke-linecap="round" fill="none"/>
<path d="M69.58 393.14 L71.01 393.85" stroke="#333333" stroke-width="4.90" stroke-linecap="round" fill="none"/>
<path d="M71.01 393.85 L72.51 394.31" stroke="#333333" stroke-width="4.90" stroke-linecap="round" fill="none"/>
<path d="M72.51 394.31 L73.91 394.51" stroke="#333333" stroke-width="4.90" stroke-linecap="round" fill="none"/>
<path d="M73.91 394.51 L75.05 394.51" stroke="#333333" stroke-width="4.90" stroke-linecap="round" fill="none"/>
<path d="M75.05 394.51 L75.78 394.37" stroke="#333333" stroke-width="4.90" stroke-linecap="round" fill="none"/>
<path d="M75.78 394.37 L76.02 394.17" stroke="#333333" stroke-width="4.90" stroke-linecap="round" fill="none"/>
<path d="M67.80 399.43 L68.12 400.67" stroke="#333333" stroke-width="4.90" stroke-linecap="round" fill="none"/>
<path d="M68.12 400.67 L68.92 401.80" stroke="#333333" stroke-width="4.90" stroke-linecap="round" fill="none"/>
<path d="M68.92 401.80 L70.10 402.74" stroke="#333333" stroke-width="4.90" stroke-linecap="round" fill="none"/>
<path d="M70.10 402.74 L71.53 403.45" stroke="#333333" stroke-width="4.90" stroke-linecap="round" fill="none"/>
<path d="M71.53 403.45 L73.03 403.91" stroke="#333333" stroke-width="4.90" stroke-linecap="round" fill="none"/>
<path d="M73.03 403.91 L74.43 404.11" stroke="#333333" stroke-width="4.90" stroke-linecap="round" fill="none"/>
<path d="M74.43 404.11 L75.57 404.11" stroke="#333333" stroke-width="4.90" stroke-linecap="round" fill="none"/>
<path d="M75.57 404.11 L76.30 403.97" stroke="#333333" stroke-width="4.90" stroke-linecap="round" fill="none"/>
<path d="M76.30 403.97 L76.54 403.77" stroke="#333333" stroke-width="4.90" stroke-linecap="round" fill="none"/>
<path d="M66.76 380.23 L67.08 381.47" stroke="#646464" stroke-width="4.00" stroke-linecap="round" fill="none"/>
<path d="M67.08 381.47 L67.88 382.60" stroke="#828282" stroke-width="4.00" stroke-linecap="round" fill="none"/>
<path d="M67.88 382.60 L69.06 383.54" stroke="#9f9f9f" stroke-width="4.00" stroke-linecap="round" fill="none"/>
<path d="M69.06 383.54 L70.49 384.25" stroke="#bababa" stroke-width="4.00" stroke-linecap="round" fill="none"/>
<path d="M70.49 384.25 L71.99 384.71" stroke="#cdcdcd" stroke-width="4.00" stroke-linecap="round" fill="none"/>
<path d="M71.99 384.71 L73.39 384.91" stroke="#d8d8d8" stroke-width="4.00" stroke-linecap="round" fill="none"/>
<path d="M73.39 384.91 L74.53 384.91" stroke="#d9d9d9" stroke-width="4.00" stroke-linecap="round" fill="none"/>
<path d="M74.53 384.91 L75.26 384.77" stroke="#cfcfcf" stroke-width="4.00" stroke-linecap="round" fill="none"/>
<path d="M75.26 384.77 L75.50 384.57" stroke="#bdbdbd" stroke-width="4.00" stroke-linecap="round" fill="none"/>
<path d="M67.28 389.83 L67.60 391.07" stroke="#646464" stroke-width="4.00" stroke-linecap="round" fill="none"/>
<path d="M67.60 391.07 L68.40 392.20" stroke="#828282" stroke-width="4.00" stroke-linecap="round" fill="none"/>
<path d="M68.40 392.20 L69.58 393.14" stroke="#9f9f9f" stroke-width="4.00" stroke-linecap="round" fill="none"/>
<path d="M69.58 393.14 L71.01 393.85" stroke="#bababa" stroke-width="4.00" stroke-linecap="round" fill="none"/>
<path d="M71.01 393.85 L72.51 394.31" stroke="#cdcdcd" stroke-width="4.00" stroke-linecap="round" fill="none"/>
<path d="M72.51 394.31 L73.91 394.51" stroke="#d8d8d8" stroke-width="4.00" stroke-linecap="round" fill="none"/>
<path d="M73.91 394.51 L75.05 394.51" stroke="#d9d9d9" stroke-width="4.00" stroke-linecap="round" fill="none"/>
<path d="M75.05 394.51 L75.78 394.37" stroke="#cfcfcf" stroke-width="4.00" stroke-linecap="round" fill="none"/>
<path d="M75.78 394.37 L76.02 394.17" stroke="#bdbdbd" stroke-width="4.00" stroke-linecap="round" fill="none"/>
<path d="M67.80 399.43 L68.12 400.67" stroke="#646464" stroke-width="4.00" stroke-linecap="round" fill="none"/>
<path d="M68.12 400.67 L68.92 401.80" stroke="#828282" stroke-width="4.00" stroke-linecap="round" fill="none"/>
<path d="M68.92 401.80 L70.10 402.74" stroke="#9f9f9f" stroke-width="4.00" stroke-linecap="round" fill="none"/>
<path d="M70.10 402.74 L71.53 403.45" stroke="#bababa" stroke-width="4.00" stroke-linecap="round" fill="none"/>
<path d="M71.53 403.45 L73.03 403.91" stroke="#cdcdcd" stroke-width="4.00" stroke-linecap="round" fill="none"/>
<path d="M73.03 403.91 L74.43 404.11" stroke="#d8d8d8" stroke-width="4.00" stroke-linecap="round" fill="none"/>
<path d="M74.43 404.11 L75.57 404.11" stroke="#d9d9d9" stroke-width="4.00" stroke-linecap="round" fill="none"/>
<path d="M75.57 404.11 L76.30 403.97" stroke="#cfcfcf" stroke-width="4.00" stroke-linecap="round" fill="none"/>
<path d="M76.30 403.97 L76.54 403.77" stroke="#bdbdbd" stroke-width="4.00" stroke-linecap="round" fill="none"/>
<path d="M92.45 341.42 L92.08 341.26" stroke="#333333" stroke-width="5.20" stroke-linecap="round" fill="none"/>
<path d="M92.08 341.26 L91.10 341.23" stroke="#333333" stroke-width="5.20" stroke-linecap="round" fill="none"/>
<path d="M91.10 341.23 L89.62 341.42" stroke="#333333" stroke-width="5.20" stroke-linecap="round" fill="none"/>
<path d="M89.62 341.42 L87.84 341.85" stroke="#333333" stroke-width="5.20" stroke-linecap="round" fill="none"/>
<path d="M87.84 341.85 L85.97 342.55" stroke="#333333" stroke-width="5.20" stroke-linecap="round" fill="none"/>
<path d="M85.97 342.55 L84.24 343.49" stroke="#333333" stroke-width="5.20" stroke-linecap="round" fill="none"/>
<path d="M84.24 343.49 L82.88 344.62" stroke="#333333" stroke-width="5.20" stroke-linecap="round" fill="none"/>
<path d="M82.88 344.62 L82.05 345.88" stroke="#333333" stroke-width="5.20" stroke-linecap="round" fill="none"/>
<path d="M82.05 345.88 L81.85 347.18" stroke="#333333" stroke-width="5.20" stroke-linecap="round" fill="none"/>
<path d="M93.18 351.09 L92.77 350.93" stroke="#333333" stroke-width="5.20" stroke-linecap="round" fill="none"/>
<path d="M92.77 350.93 L91.75 350.92" stroke="#333333" stroke-width="5.20" stroke-linecap="round" fill="none"/>
<path d="M91.75 350.92 L90.24 351.12" stroke="#333333" stroke-width="5.20" stroke-linecap="round" fill="none"/>
<path d="M90.24 351.12 L88.45 351.57" stroke="#333333" stroke-width="5.20" stroke-linecap="round" fill="none"/>
<path d="M88.45 351.57 L86.58 352.28" stroke="#333333" stroke-width="5.20" stroke-linecap="round" fill="none"/>
<path d="M86.58 352.28 L84.87 353.24" stroke="#333333" stroke-width="5.20" stroke-linecap="round" fill="none"/>
<path d="M84.87 353.24 L83.54 354.38" stroke="#333333" stroke-width="5.20" stroke-linecap="round" fill="none"/>
<path d="M83.54 354.38 L82.75 355.65" stroke="#333333" stroke-width="5.20" stroke-linecap="round" fill="none"/>
<path d="M82.75 355.65 L82.59 356.94" stroke="#333333" stroke-width="5.20" stroke-linecap="round" fill="none"/>
<path d="M93.90 360.76 L93.45 360.61" stroke="#4e080c" stroke-width="5.20" stroke-linecap="round" fill="none"/>
<path d="M93.45 360.61 L92.39 360.61" stroke="#4e080c" stroke-width="5.20" stroke-linecap="round" fill="none"/>
<path d="M92.39 360.61 L90.87 360.82" stroke="#4e080c" stroke-width="5.20" stroke-linecap="round" fill="none"/>
<path d="M90.87 360.82 L89.06 361.29" stroke="#4e080c" stroke-width="5.20" stroke-linecap="round" fill="none"/>
<path d="M89.06 361.29 L87.20 362.02" stroke="#4e080c" stroke-width="5.20" stroke-linecap="round" fill="none"/>
<path d="M87.20 362.02 L85.51 362.99" stroke="#4e080c" stroke-width="5.20" stroke-linecap="round" fill="none"/>
<path d="M85.51 362.99 L84.20 364.14" stroke="#4e080c" stroke-width="5.20" stroke-linecap="round" fill="none"/>
<path d="M84.20 364.14 L83.45 365.41" stroke="#4e080c" stroke-width="5.20" stroke-linecap="round" fill="none"/>
<path d="M83.45 365.41 L83.34 366.71" stroke="#4e080c" stroke-width="5.20" stroke-linecap="round" fill="none"/>
<path d="M94.62 370.43 L94.13 370.29" stroke="#4e080c" stroke-width="5.20" stroke-linecap="round" fill="none"/>
<path d="M94.13 370.29 L93.04 370.30" stroke="#4e080c" stroke-width="5.20" stroke-linecap="round" fill="none"/>
<path d="M93.04 370.30 L91.49 370.53" stroke="#4e080c" stroke-width="5.20" stroke-linecap="round" fill="none"/>
<path d="M91.49 370.53 L89.67 371.01" stroke="#4e080c" stroke-width="5.20" stroke-linecap="round" fill="none"/>
<path d="M89.67 371.01 L87.81 371.75" stroke="#4e080c" stroke-width="5.20" stroke-linecap="round" fill="none"/>
<path d="M87.81 371.75 L86.14 372.74" stroke="#4e080c" stroke-width="5.20" stroke-linecap="round" fill="none"/>
<path d="M86.14 372.74 L84.87 373.90" stroke="#4e080c" stroke-width="5.20" stroke-linecap="round" fill="none"/>
<path d="M84.87 373.90 L84.15 375.18" stroke="#4e080c" stroke-width="5.20" stroke-linecap="round" fill="none"/>
<path d="M84.15 375.18 L84.08 376.47" stroke="#4e080c" stroke-width="5.20" stroke-linecap="round" fill="none"/>
<path d="M95.34 380.10 L94.81 379.97" stroke="#333333" stroke-width="5.20" stroke-linecap="round" fill="none"/>
<path d="M94.81 379.97 L93.68 379.99" stroke="#333333" stroke-width="5.20" stroke-linecap="round" fill="none"/>
<path d="M93.68 379.99 L92.11 380.23" stroke="#333333" stroke-width="5.20" stroke-linecap="round" fill="none"/>
<path d="M92.11 380.23 L90.28 380.73" stroke="#333333" stroke-width="5.20" stroke-linecap="round" fill="none"/>
<path d="M90.28 380.73 L88.43 381.49" stroke="#333333" stroke-width="5.20" stroke-linecap="round" fill="none"/>
<path d="M88.43 381.49 L86.78 382.49" stroke="#333333" stroke-width="5.20" stroke-linecap="round" fill="none"/>
<path d="M86.78 382.49 L85.53 383.66" stroke="#333333" stroke-width="5.20" stroke-linecap="round" fill="none"/>
<path d="M85.53 383.66 L84.86 384.94" stroke="#333333" stroke-width="5.20" stroke-linecap="round" fill="none"/>
<path d="M84.86 384.94 L84.83 386.23" stroke="#333333" stroke-width="5.20" stroke-linecap="round" fill="none"/>
<path d="M96.05 389.77 L95.48 389.64" stroke="#333333" stroke-width="5.20" stroke-linecap="round" fill="none"/>
<path d="M95.48 389.64 L94.32 389.68" stroke="#333333" stroke-width="5.20" stroke-linecap="round" fill="none"/>
<path d="M94.32 389.68 L92.73 389.94" stroke="#333333" stroke-width="5.20" stroke-linecap="round" fill="none"/>
<path d="M92.73 389.94 L90.89 390.45" stroke="#333333" stroke-width="5.20" stroke-linecap="round" fill="none"/>
<path d="M90.89 390.45 L89.04 391.23" stroke="#333333" stroke-width="5.20" stroke-linecap="round" fill="none"/>
<path d="M89.04 391.23 L87.41 392.24" stroke="#333333" stroke-width="5.20" stroke-linecap="round" fill="none"/>
<path d="M87.41 392.24 L86.20 393.43" stroke="#333333" stroke-width="5.20" stroke-linecap="round" fill="none"/>
<path d="M86.20 393.43 L85.57 394.71" stroke="#333333" stroke-width="5.20" stroke-linecap="round" fill="none"/>
<path d="M85.57 394.71 L85.58 395.99" stroke="#333333" stroke-width="5.20" stroke-linecap="round" fill="none"/>
<path d="M92.45 341.42 L92.08 341.26" stroke="#646464" stroke-width="4.30" stroke-linecap="round" fill="none"/>
<path d="M92.08 341.26 L91.10 341.23" stroke="#5c5c5c" stroke-width="4.30" stroke-linecap="round" fill="none"/>
<path d="M91.10 341.23 L89.62 341.42" stroke="#555555" stroke-width="4.30" stroke-linecap="round" fill="none"/>
<path d="M89.62 341.42 L87.84 341.85" stroke="#505050" stroke-width="4.30" stroke-linecap="round" fill="none"/>
<path d="M87.84 341.85 L85.97 342.55" stroke="#4e4e4e" stroke-width="4.30" stroke-linecap="round" fill="none"/>
<path d="M85.97 342.55 L84.24 343.49" stroke="#505050" stroke-width="4.30" stroke-linecap="round" fill="none"/>
<path d="M84.24 343.49 L82.88 344.62" stroke="#555555" stroke-width="4.30" stroke-linecap="round" fill="none"/>
<path d="M82.88 344.62 L82.05 345.88" stroke="#5c5c5c" stroke-width="4.30" stroke-linecap="round" fill="none"/>
<path d="M82.05 345.88 L81.85 347.18" stroke="#656565" stroke-width="4.30" stroke-linecap="round" fill="none"/>
<path d="M93.18 351.09 L92.77 350.93" stroke="#646464" stroke-width="4.30" stroke-linecap="round" fill="none"/>
<path d="M92.77 350.93 L91.75 350.92" stroke="#5b5b5b" stroke-width="4.30" stroke-linecap="round" fill="none"/>
<path d="M91.75 350.92 L90.24 351.12" stroke="#545454" stroke-width="4.30" stroke-linecap="round" fill="none"/>
<path d="M90.24 351.12 L88.45 351.57" stroke="#505050" stroke-width="4.30" stroke-linecap="round" fill="none"/>
<path d="M88.45 351.57 L86.58 352.28" stroke="#4e4e4e" stroke-width="4.30" stroke-linecap="round" fill="none"/>
<path d="M86.58 352.28 L84.87 353.24" stroke="#505050" stroke-width="4.30" stroke-linecap="round" fill="none"/>
<path d="M84.87 353.24 L83.54 354.38" stroke="#555555" stroke-width="4.30" stroke-linecap="round" fill="none"/>
<path d="M83.54 354.38 L82.75 355.65" stroke="#5d5d5d" stroke-width="4.30" stroke-linecap="round" fill="none"/>
<path d="M82.75 355.65 L82.59 356.94" stroke="#666666" stroke-width="4.30" stroke-linecap="round" fill="none"/>
<path d="M93.90 360.76 L93.45 360.61" stroke="#660d13" stroke-width="4.30" stroke-linecap="round" fill="none"/>
<path d="M93.45 360.61 L92.39 360.61" stroke="#620c11" stroke-width="4.30" stroke-linecap="round" fill="none"/>
<path d="M92.39 360.61 L90.87 360.82" stroke="#5e0b10" stroke-width="4.30" stroke-linecap="round" fill="none"/>
<path d="M90.87 360.82 L89.06 361.29" stroke="#5c0b10" stroke-width="4.30" stroke-linecap="round" fill="none"/>
<path d="M89.06 361.29 L87.20 362.02" stroke="#5c0b10" stroke-width="4.30" stroke-linecap="round" fill="none"/>
<path d="M87.20 362.02 L85.51 362.99" stroke="#5d0b10" stroke-width="4.30" stroke-linecap="round" fill="none"/>
<path d="M85.51 362.99 L84.20 364.14" stroke="#600b11" stroke-width="4.30" stroke-linecap="round" fill="none"/>
<path d="M84.20 364.14 L83.45 365.41" stroke="#630c12" stroke-width="4.30" stroke-linecap="round" fill="none"/>
<path d="M83.45 365.41 L83.34 366.71" stroke="#680d13" stroke-width="4.30" stroke-linecap="round" fill="none"/>
<path d="M94.62 370.43 L94.13 370.29" stroke="#660d13" stroke-width="4.30" stroke-linecap="round" fill="none"/>
<path d="M94.13 370.29 L93.04 370.30" stroke="#620c11" stroke-width="4.30" stroke-linecap="round" fill="none"/>
<path d="M93.04 370.30 L91.49 370.53" stroke="#5e0b10" stroke-width="4.30" stroke-linecap="round" fill="none"/>
<path d="M91.49 370.53 L89.67 371.01" stroke="#5c0b10" stroke-width="4.30" stroke-linecap="round" fill="none"/>
<path d="M89.67 371.01 L87.81 371.75" stroke="#5c0b10" stroke-width="4.30" stroke-linecap="round" fill="none"/>
<path d="M87.81 371.75 L86.14 372.74" stroke="#5d0b10" stroke-width="4.30" stroke-linecap="round" fill="none"/>
<path d="M86.14 372.74 L84.87 373.90" stroke="#600b11" stroke-width="4.30" stroke-linecap="round" fill="none"/>
<path d="M84.87 373.90 L84.15 375.18" stroke="#640c12" stroke-width="4.30" stroke-linecap="round" fill="none"/>
<path d="M84.15 375.18 L84.08 376.47" stroke="#680d13" stroke-width="4.30" stroke-linecap="round" fill="none"/>
<path d="M95.34 380.10 L94.81 379.97" stroke="#626262" stroke-width="4.30" stroke-linecap="round" fill="none"/>
<path d="M94.81 379.97 L93.68 379.99" stroke="#5a5a5a" stroke-width="4.30" stroke-linecap="round" fill="none"/>
<path d="M93.68 379.99 L92.11 380.23" stroke="#535353" stroke-width="4.30" stroke-linecap="round" fill="none"/>
<path d="M92.11 380.23 L90.28 380.73" stroke="#4f4f4f" stroke-width="4.30" stroke-linecap="round" fill="none"/>
<path d="M90.28 380.73 L88.43 381.49" stroke="#4f4f4f" stroke-width="4.30" stroke-linecap="round" fill="none"/>
<path d="M88.43 381.49 L86.78 382.49" stroke="#515151" stroke-width="4.30" stroke-linecap="round" fill="none"/>
<path d="M86.78 382.49 L85.53 383.66" stroke="#575757" stroke-width="4.30" stroke-linecap="round" fill="none"/>
<path d="M85.53 383.66 L84.86 384.94" stroke="#5f5f5f" stroke-width="4.30" stroke-linecap="round" fill="none"/>
<path d="M84.86 384.94 L84.83 386.23" stroke="#686868" stroke-width="4.30" stroke-linecap="round" fill="none"/>
<path d="M96.05 389.77 L95.48 389.64" stroke="#626262" stroke-width="4.30" stroke-linecap="round" fill="none"/>
<path d="M95.48 389.64 L94.32 389.68" stroke="#595959" stroke-width="4.30" stroke-linecap="round" fill="none"/>
<path d="M94.32 389.68 L92.73 389.94" stroke="#535353" stroke-width="4.30" stroke-linecap="round" fill="none"/>
<path d="M92.73 389.94 L90.89 390.45" stroke="#4f4f4f" stroke-width="4.30" stroke-linecap="round" fill="none"/>
<path d="M90.89 390.45 L89.04 391.23" stroke="#4f4f4f" stroke-width="4.30" stroke-linecap="round" fill="none"/>
<path d="M89.04 391.23 L87.41 392.24" stroke="#515151" stroke-width="4.30" stroke-linecap="round" fill="none"/>
<path d="M87.41 392.24 L86.20 393.43" stroke="#575757" stroke-width="4.30" stroke-linecap="round" fill="none"/>
<path d="M86.20 393.43 L85.57 394.71" stroke="#5f5f5f" stroke-width="4.30" stroke-linecap="round" fill="none"/>
<path d="M85.57 394.71 L85.58 395.99" stroke="#686868" stroke-width="4.30" stroke-linecap="round" fill="none"/>
<path d="M81.12 337.41 L81.54 338.66" stroke="#333333" stroke-width="5.20" stroke-linecap="round" fill="none"/>
<path d="M81.54 338.66 L82.59 339.77" stroke="#333333" stroke-width="5.20" stroke-linecap="round" fill="none"/>
<path d="M82.59 339.77 L84.14 340.67" stroke="#333333" stroke-width="5.20" stroke-linecap="round" fill="none"/>
<path d="M84.14 340.67 L86.00 341.33" stroke="#333333" stroke-width="5.20" stroke-linecap="round" fill="none"/>
<path d="M86.00 341.33 L87.95 341.72" stroke="#333333" stroke-width="5.20" stroke-linecap="round" fill="none"/>
<path d="M87.95 341.72 L89.76 341.87" stroke="#333333" stroke-width="5.20" stroke-linecap="round" fill="none"/>
<path d="M89.76 341.87 L91.22 341.81" stroke="#333333" stroke-width="5.20" stroke-linecap="round" fill="none"/>
<path d="M91.22 341.81 L92.15 341.64" stroke="#333333" stroke-width="5.20" stroke-linecap="round" fill="none"/>
<path d="M92.15 341.64 L92.45 341.42" stroke="#333333" stroke-width="5.20" stroke-linecap="round" fill="none"/>
<path d="M81.85 347.18 L82.32 348.42" stroke="#333333" stroke-width="5.20" stroke-linecap="round" fill="none"/>
<path d="M82.32 348.42 L83.41 349.52" stroke="#333333" stroke-width="5.20" stroke-linecap="round" fill="none"/>
<path d="M83.41 349.52 L84.98 350.41" stroke="#333333" stroke-width="5.20" stroke-linecap="round" fill="none"/>
<path d="M84.98 350.41 L86.85 351.04" stroke="#333333" stroke-width="5.20" stroke-linecap="round" fill="none"/>
<path d="M86.85 351.04 L88.80 351.42" stroke="#333333" stroke-width="5.20" stroke-linecap="round" fill="none"/>
<path d="M88.80 351.42 L90.60 351.55" stroke="#333333" stroke-width="5.20" stroke-linecap="round" fill="none"/>
<path d="M90.60 351.55 L92.03 351.49" stroke="#333333" stroke-width="5.20" stroke-linecap="round" fill="none"/>
<path d="M92.03 351.49 L92.92 351.31" stroke="#333333" stroke-width="5.20" stroke-linecap="round" fill="none"/>
<path d="M92.92 351.31 L93.18 351.09" stroke="#333333" stroke-width="5.20" stroke-linecap="round" fill="none"/>
<path d="M82.59 356.94 L83.11 358.17" stroke="#333333" stroke-width="5.20" stroke-linecap="round" fill="none"/>
<path d="M83.11 358.17 L84.22 359.26" stroke="#333333" stroke-width="5.20" stroke-linecap="round" fill="none"/>
<path d="M84.22 359.26 L85.82 360.14" stroke="#333333" stroke-width="5.20" stroke-linecap="round" fill="none"/>
<path d="M85.82 360.14 L87.70 360.76" stroke="#333333" stroke-width="5.20" stroke-linecap="round" fill="none"/>
<path d="M87.70 360.76 L89.65 361.12" stroke="#333333" stroke-width="5.20" stroke-linecap="round" fill="none"/>
<path d="M89.65 361.12 L91.43 361.23" stroke="#333333" stroke-width="5.20" stroke-linecap="round" fill="none"/>
<path d="M91.43 361.23 L92.83 361.16" stroke="#333333" stroke-width="5.20" stroke-linecap="round" fill="none"/>
<path d="M92.83 361.16 L93.69 360.98" stroke="#4e080c" stroke-width="5.20" stroke-linecap="round" fill="none"/>
<path d="M93.69 360.98 L93.90 360.76" stroke="#4e080c" stroke-width="5.20" stroke-linecap="round" fill="none"/>
<path d="M83.34 366.71 L83.89 367.93" stroke="#4e080c" stroke-width="5.20" stroke-linecap="round" fill="none"/>
<path d="M83.89 367.93 L85.04 369.01" stroke="#4e080c" stroke-width="5.20" stroke-linecap="round" fill="none"/>
<path d="M85.04 369.01 L86.66 369.87" stroke="#4e080c" stroke-width="5.20" stroke-linecap="round" fill="none"/>
<path d="M86.66 369.87 L88.56 370.47" stroke="#4e080c" stroke-width="5.20" stroke-linecap="round" fill="none"/>
<path d="M88.56 370.47 L90.50 370.81" stroke="#4e080c" stroke-width="5.20" stroke-linecap="round" fill="none"/>
<path d="M90.50 370.81 L92.26 370.92" stroke="#4e080c" stroke-width="5.20" stroke-linecap="round" fill="none"/>
<path d="M92.26 370.92 L93.63 370.84" stroke="#4e080c" stroke-width="5.20" stroke-linecap="round" fill="none"/>
<path d="M93.63 370.84 L94.45 370.64" stroke="#4e080c" stroke-width="5.20" stroke-linecap="round" fill="none"/>
<path d="M94.45 370.64 L94.62 370.43" stroke="#4e080c" stroke-width="5.20" stroke-linecap="round" fill="none"/>
<path d="M84.08 376.47 L84.68 377.69" stroke="#4e080c" stroke-width="5.20" stroke-linecap="round" fill="none"/>
<path d="M84.68 377.69 L85.86 378.75" stroke="#4e080c" stroke-width="5.20" stroke-linecap="round" fill="none"/>
<path d="M85.86 378.75 L87.51 379.59" stroke="#333333" stroke-width="5.20" stroke-linecap="round" fill="none"/>
<path d="M87.51 379.59 L89.41 380.18" stroke="#333333" stroke-width="5.20" stroke-linecap="round" fill="none"/>
<path d="M89.41 380.18 L91.35 380.51" stroke="#333333" stroke-width="5.20" stroke-linecap="round" fill="none"/>
<path d="M91.35 380.51 L93.09 380.60" stroke="#333333" stroke-width="5.20" stroke-linecap="round" fill="none"/>
<path d="M93.09 380.60 L94.43 380.51" stroke="#333333" stroke-width="5.20" stroke-linecap="round" fill="none"/>
<path d="M94.43 380.51 L95.21 380.31" stroke="#333333" stroke-width="5.20" stroke-linecap="round" fill="none"/>
<path d="M95.21 380.31 L95.34 380.10" stroke="#333333" stroke-width="5.20" stroke-linecap="round" fill="none"/>
<path d="M84.83 386.23 L85.47 387.44" stroke="#333333" stroke-width="5.20" stroke-linecap="round" fill="none"/>
<path d="M85.47 387.44 L86.69 388.49" stroke="#333333" stroke-width="5.20" stroke-linecap="round" fill="none"/>
<path d="M86.69 388.49 L88.35 389.32" stroke="#333333" stroke-width="5.20" stroke-linecap="round" fill="none"/>
<path d="M88.35 389.32 L90.27 389.89" stroke="#333333" stroke-width="5.20" stroke-linecap="round" fill="none"/>
<path d="M90.27 389.89 L92.20 390.20" stroke="#333333" stroke-width="5.20" stroke-linecap="round" fill="none"/>
<path d="M92.20 390.20 L93.92 390.28" stroke="#333333" stroke-width="5.20" stroke-linecap="round" fill="none"/>
<path d="M93.92 390.28 L95.23 390.18" stroke="#333333" stroke-width="5.20" stroke-linecap="round" fill="none"/>
<path d="M95.23 390.18 L95.97 389.98" stroke="#333333" stroke-width="5.20" stroke-linecap="round" fill="none"/>
<path d="M95.97 389.98 L96.05 389.77" stroke="#333333" stroke-width="5.20" stroke-linecap="round" fill="none"/>
<path d="M85.58 395.99 L86.26 397.20" stroke="#333333" stroke-width="5.20" stroke-linecap="round" fill="none"/>
<path d="M86.26 397.20 L87.51 398.24" stroke="#333333" stroke-width="5.20" stroke-linecap="round" fill="none"/>
<path d="M87.51 398.24 L89.20 399.05" stroke="#333333" stroke-width="5.20" stroke-linecap="round" fill="none"/>
<path d="M89.20 399.05 L91.12 399.60" stroke="#333333" stroke-width="5.20" stroke-linecap="round" fill="none"/>
<path d="M91.12 399.60 L93.05 399.90" stroke="#333333" stroke-width="5.20" stroke-linecap="round" fill="none"/>
<path d="M81.12 337.41 L81.54 338.66" stroke="#646464" stroke-width="4.30" stroke-linecap="round" fill="none"/>
<path d="M81.54 338.66 L82.59 339.77" stroke="#828282" stroke-width="4.30" stroke-linecap="round" fill="none"/>
<path d="M82.59 339.77 L84.14 340.67" stroke="#9f9f9f" stroke-width="4.30" stroke-linecap="round" fill="none"/>
<path d="M84.14 340.67 L86.00 341.33" stroke="#bababa" stroke-width="4.30" stroke-linecap="round" fill="none"/>
<path d="M86.00 341.33 L87.95 341.72" stroke="#cecece" stroke-width="4.30" stroke-linecap="round" fill="none"/>
<path d="M87.95 341.72 L89.76 341.87" stroke="#d8d8d8" stroke-width="4.30" stroke-linecap="round" fill="none"/>
<path d="M89.76 341.87 L91.22 341.81" stroke="#d9d9d9" stroke-width="4.30" stroke-linecap="round" fill="none"/>
<path d="M91.22 341.81 L92.15 341.64" stroke="#cfcfcf" stroke-width="4.30" stroke-linecap="round" fill="none"/>
<path d="M92.15 341.64 L92.45 341.42" stroke="#bcbcbc" stroke-width="4.30" stroke-linecap="round" fill="none"/>
<path d="M81.85 347.18 L82.32 348.42" stroke="#666666" stroke-width="4.30" stroke-linecap="round" fill="none"/>
<path d="M82.32 348.42 L83.41 349.52" stroke="#848484" stroke-width="4.30" stroke-linecap="round" fill="none"/>
<path d="M83.41 349.52 L84.98 350.41" stroke="#a1a1a1" stroke-width="4.30" stroke-linecap="round" fill="none"/>
<path d="M84.98 350.41 L86.85 351.04" stroke="#bbbbbb" stroke-width="4.30" stroke-linecap="round" fill="none"/>
<path d="M86.85 351.04 L88.80 351.42" stroke="#cfcfcf" stroke-width="4.30" stroke-linecap="round" fill="none"/>
<path d="M88.80 351.42 L90.60 351.55" stroke="#d9d9d9" stroke-width="4.30" stroke-linecap="round" fill="none"/>
<path d="M90.60 351.55 L92.03 351.49" stroke="#d8d8d8" stroke-width="4.30" stroke-linecap="round" fill="none"/>
<path d="M92.03 351.49 L92.92 351.31" stroke="#cecece" stroke-width="4.30" stroke-linecap="round" fill="none"/>
<path d="M92.92 351.31 L93.18 351.09" stroke="#bababa" stroke-width="4.30" stroke-linecap="round" fill="none"/>
<path d="M82.59 356.94 L83.11 358.17" stroke="#686868" stroke-width="4.30" stroke-linecap="round" fill="none"/>
<path d="M83.11 358.17 L84.22 359.26" stroke="#868686" stroke-width="4.30" stroke-linecap="round" fill="none"/>
<path d="M84.22 359.26 L85.82 360.14" stroke="#a3a3a3" stroke-width="4.30" stroke-linecap="round" fill="none"/>
<path d="M85.82 360.14 L87.70 360.76" stroke="#bdbdbd" stroke-width="4.30" stroke-linecap="round" fill="none"/>
<path d="M87.70 360.76 L89.65 361.12" stroke="#d0d0d0" stroke-width="4.30" stroke-linecap="round" fill="none"/>
<path d="M89.65 361.12 L91.43 361.23" stroke="#d9d9d9" stroke-width="4.30" stroke-linecap="round" fill="none"/>
<path d="M91.43 361.23 L92.83 361.16" stroke="#d8d8d8" stroke-width="4.30" stroke-linecap="round" fill="none"/>
<path d="M92.83 361.16 L93.69 360.98" stroke="#bb282e" stroke-width="4.30" stroke-linecap="round" fill="none"/>
<path d="M93.69 360.98 L93.90 360.76" stroke="#b0242a" stroke-width="4.30" stroke-linecap="round" fill="none"/>
<path d="M83.34 366.71 L83.89 367.93" stroke="#831319" stroke-width="4.30" stroke-linecap="round" fill="none"/>
<path d="M83.89 367.93 L85.04 369.01" stroke="#94191f" stroke-width="4.30" stroke-linecap="round" fill="none"/>
<path d="M85.04 369.01 L86.66 369.87" stroke="#a42026" stroke-width="4.30" stroke-linecap="round" fill="none"/>
<path d="M86.66 369.87 L88.56 370.47" stroke="#b3252b" stroke-width="4.30" stroke-linecap="round" fill="none"/>
<path d="M88.56 370.47 L90.50 370.81" stroke="#bd292f" stroke-width="4.30" stroke-linecap="round" fill="none"/>
<path d="M90.50 370.81 L92.26 370.92" stroke="#c22b31" stroke-width="4.30" stroke-linecap="round" fill="none"/>
<path d="M92.26 370.92 L93.63 370.84" stroke="#c12a30" stroke-width="4.30" stroke-linecap="round" fill="none"/>
<path d="M93.63 370.84 L94.45 370.64" stroke="#ba282e" stroke-width="4.30" stroke-linecap="round" fill="none"/>
<path d="M94.45 370.64 L94.62 370.43" stroke="#af242a" stroke-width="4.30" stroke-linecap="round" fill="none"/>
<path d="M84.08 376.47 L84.68 377.69" stroke="#841319" stroke-width="4.30" stroke-linecap="round" fill="none"/>
<path d="M84.68 377.69 L85.86 378.75" stroke="#951a20" stroke-width="4.30" stroke-linecap="round" fill="none"/>
<path d="M85.86 378.75 L87.51 379.59" stroke="#a7a7a7" stroke-width="4.30" stroke-linecap="round" fill="none"/>
<path d="M87.51 379.59 L89.41 380.18" stroke="#c0c0c0" stroke-width="4.30" stroke-linecap="round" fill="none"/>
<path d="M89.41 380.18 L91.35 380.51" stroke="#d1d1d1" stroke-width="4.30" stroke-linecap="round" fill="none"/>
<path d="M91.35 380.51 L93.09 380.60" stroke="#d9d9d9" stroke-width="4.30" stroke-linecap="round" fill="none"/>
<path d="M93.09 380.60 L94.43 380.51" stroke="#d7d7d7" stroke-width="4.30" stroke-linecap="round" fill="none"/>
<path d="M94.43 380.51 L95.21 380.31" stroke="#cbcbcb" stroke-width="4.30" stroke-linecap="round" fill="none"/>
<path d="M95.21 380.31 L95.34 380.10" stroke="#b6b6b6" stroke-width="4.30" stroke-linecap="round" fill="none"/>
<path d="M84.83 386.23 L85.47 387.44" stroke="#6d6d6d" stroke-width="4.30" stroke-linecap="round" fill="none"/>
<path d="M85.47 387.44 L86.69 388.49" stroke="#8b8b8b" stroke-width="4.30" stroke-linecap="round" fill="none"/>
<path d="M86.69 388.49 L88.35 389.32" stroke="#a8a8a8" stroke-width="4.30" stroke-linecap="round" fill="none"/>
<path d="M88.35 389.32 L90.27 389.89" stroke="#c1c1c1" stroke-width="4.30" stroke-linecap="round" fill="none"/>
<path d="M90.27 389.89 L92.20 390.20" stroke="#d2d2d2" stroke-width="4.30" stroke-linecap="round" fill="none"/>
<path d="M92.20 390.20 L93.92 390.28" stroke="#dadada" stroke-width="4.30" stroke-linecap="round" fill="none"/>
<path d="M93.92 390.28 L95.23 390.18" stroke="#d7d7d7" stroke-width="4.30" stroke-linecap="round" fill="none"/>
<path d="M95.23 390.18 L95.97 389.98" stroke="#cacaca" stroke-width="4.30" stroke-linecap="round" fill="none"/>
<path d="M95.97 389.98 L96.05 389.77" stroke="#b4b4b4" stroke-width="4.30" stroke-linecap="round" fill="none"/>
<path d="M85.58 395.99 L86.26 397.20" stroke="#6f6f6f" stroke-width="4.30" stroke-linecap="round" fill="none"/>
<path d="M86.26 397.20 L87.51 398.24" stroke="#8d8d8d" stroke-width="4.30" stroke-linecap="round" fill="none"/>
<path d="M87.51 398.24 L89.20 399.05" stroke="#aaaaaa" stroke-width="4.30" stroke-linecap="round" fill="none"/>
<path d="M89.20 399.05 L91.12 399.60" stroke="#c2c2c2" stroke-width="4.30" stroke-linecap="round" fill="none"/>
<path d="M91.12 399.60 L93.05 399.90" stroke="#d3d3d3" stroke-width="4.30" stroke-linecap="round" fill="none"/>
</g>
<circle cx="154.2" cy="348.6" r="3.0" fill="url(#og)" stroke="#b87000" stroke-width="0.4"/>
<circle cx="158.6" cy="348.2" r="2.9" fill="url(#og)" stroke="#b87000" stroke-width="0.4"/>
<circle cx="161.4" cy="351.2" r="2.6" fill="url(#og)" stroke="#b87000" stroke-width="0.4"/>
<circle cx="155.2" cy="353.6" r="3.1" fill="url(#og)" stroke="#b87000" stroke-width="0.4"/>
<circle cx="159.6" cy="354.8" r="2.9" fill="url(#og)" stroke="#b87000" stroke-width="0.4"/>
<circle cx="154.6" cy="359.4" r="3.0" fill="url(#og)" stroke="#b87000" stroke-width="0.4"/>
<circle cx="158.8" cy="360.6" r="3.1" fill="url(#og)" stroke="#b87000" stroke-width="0.4"/>
<circle cx="162.2" cy="363.2" r="2.6" fill="url(#og)" stroke="#b87000" stroke-width="0.4"/>
<circle cx="156.8" cy="364.6" r="2.7" fill="url(#og)" stroke="#b87000" stroke-width="0.4"/>
<text x="63.60" y="326.00" font-size="9.9" text-anchor="start" font-weight="bold" fill="#1ea3da" stroke="#1ea3da" >PK</text>
<g stroke="#1ea3da" stroke-width="1.7" fill="none" stroke-linecap="round" stroke-linejoin="round"><line x1="68.9" y1="330.2" x2="77.6" y2="350.4"/><polyline points="72.4,348.4 77.6,350.4 80.2,345.4"/></g>
<line x1="25.8" y1="415.9" x2="48.6" y2="415.9" stroke="#a6a6a6" stroke-width="1.6"/>
<line x1="57.3" y1="415.9" x2="85.8" y2="415.9" stroke="#a6a6a6" stroke-width="1.6"/>
<line x1="115.2" y1="415.9" x2="138.8" y2="415.9" stroke="#a6a6a6" stroke-width="1.6"/>
<line x1="147.2" y1="415.9" x2="175.6" y2="415.9" stroke="#a6a6a6" stroke-width="1.6"/>
<line x1="37.9" y1="424.5" x2="61.5" y2="424.5" stroke="#a6a6a6" stroke-width="1.6"/>
<line x1="73.9" y1="424.5" x2="96.7" y2="424.5" stroke="#a6a6a6" stroke-width="1.6"/>
<line x1="127.7" y1="424.5" x2="151.4" y2="424.5" stroke="#a6a6a6" stroke-width="1.6"/>
<line x1="164" y1="424.5" x2="186.8" y2="424.5" stroke="#a6a6a6" stroke-width="1.6"/>
<rect x="46.3" y="430.2" width="34" height="21.8" fill="none" stroke="#222" stroke-width="1.2" stroke-dasharray="3 2"/>
<rect x="139.5" y="429.3" width="34.2" height="22" fill="none" stroke="#222" stroke-width="1.2" stroke-dasharray="3 2"/>
<path d="M51 436.4 Q55.5 440.5 60 444.6" fill="none" stroke="#ef9a9c" stroke-width="1.6" stroke-linecap="round"/>
<path d="M64.8 446.8 Q72 443.5 75.7 436.8" fill="none" stroke="#ef9a9c" stroke-width="1.6" stroke-linecap="round"/>
<path d="M142.8 434.2 C152 440 156 446 170.3 446" fill="none" stroke="#a8202a" stroke-width="1.6" stroke-linecap="round"/>
<text x="64.70" y="464.20" font-size="9.9" text-anchor="start" fill="#1a1a1a" stroke="#1a1a1a" >LiP-Quant peptides</text>
<line x1="242.2" y1="384.2" x2="242.2" y2="311.5" stroke="#111" stroke-width="1.4"/>
<polygon points="242.2,309.6 239.7,313.6 242.2,312.6 244.7,313.6" fill="#111" stroke="#111" stroke-width="0.6" stroke-linejoin="round"/>
<text transform="translate(223.4,348.2) rotate(-90)" font-size="9.9" text-anchor="middle" fill="#1a1a1a" stroke="#1a1a1a">Peptide</text>
<text transform="translate(235.6,347.6) rotate(-90)" font-size="9.9" text-anchor="middle" fill="#1a1a1a" stroke="#1a1a1a">intensity</text>
<text x="274.00" y="291.00" font-size="7.1" text-anchor="middle" fill="#1a1a1a" stroke="#1a1a1a" >Multiplexing</text>
<rect x="251.2" y="296.2" width="46.6" height="40.6" fill="#fff" stroke="#555" stroke-width="0.8"/>
<text x="257.7" y="299.6" font-size="2.6" text-anchor="middle" fill="#777">1</text>
<text x="262.8" y="299.6" font-size="2.6" text-anchor="middle" fill="#777">2</text>
<text x="267.9" y="299.6" font-size="2.6" text-anchor="middle" fill="#777">3</text>
<text x="273.0" y="299.6" font-size="2.6" text-anchor="middle" fill="#777">4</text>
<text x="278.1" y="299.6" font-size="2.6" text-anchor="middle" fill="#777">5</text>
<text x="283.2" y="299.6" font-size="2.6" text-anchor="middle" fill="#777">6</text>
<text x="288.3" y="299.6" font-size="2.6" text-anchor="middle" fill="#777">7</text>
<text x="293.4" y="299.6" font-size="2.6" text-anchor="middle" fill="#777">8</text>
<text x="253.3" y="303.5" font-size="2.6" text-anchor="middle" fill="#777">A</text>
<text x="253.3" y="307.9" font-size="2.6" text-anchor="middle" fill="#777">B</text>
<text x="253.3" y="312.4" font-size="2.6" text-anchor="middle" fill="#777">C</text>
<text x="253.3" y="316.8" font-size="2.6" text-anchor="middle" fill="#777">D</text>
<text x="253.3" y="321.2" font-size="2.6" text-anchor="middle" fill="#777">E</text>
<text x="253.3" y="325.6" font-size="2.6" text-anchor="middle" fill="#777">F</text>
<text x="253.3" y="330.1" font-size="2.6" text-anchor="middle" fill="#777">G</text>
<text x="253.3" y="334.5" font-size="2.6" text-anchor="middle" fill="#777">H</text>
<ellipse cx="257.70" cy="302.60" rx="2.3" ry="1.95" fill="#ffffff" stroke="#1a1a1a" stroke-width="0.72"/>
<ellipse cx="262.80" cy="302.60" rx="2.3" ry="1.95" fill="#f3dfc4" stroke="#1a1a1a" stroke-width="0.72"/>
<ellipse cx="267.90" cy="302.60" rx="2.3" ry="1.95" fill="#ebcb9c" stroke="#1a1a1a" stroke-width="0.72"/>
<ellipse cx="273.00" cy="302.60" rx="2.3" ry="1.95" fill="#dcab62" stroke="#1a1a1a" stroke-width="0.72"/>
<ellipse cx="278.10" cy="302.60" rx="2.3" ry="1.95" fill="#c39a62" stroke="#1a1a1a" stroke-width="0.72"/>
<ellipse cx="283.20" cy="302.60" rx="2.3" ry="1.95" fill="#a27452" stroke="#1a1a1a" stroke-width="0.72"/>
<ellipse cx="288.30" cy="302.60" rx="2.3" ry="1.95" fill="#8b5c3c" stroke="#1a1a1a" stroke-width="0.72"/>
<ellipse cx="293.40" cy="302.60" rx="2.3" ry="1.95" fill="#ffffff" stroke="#1a1a1a" stroke-width="0.72"/>
<ellipse cx="257.70" cy="307.03" rx="2.3" ry="1.95" fill="#fff" stroke="#1a1a1a" stroke-width="0.72"/>
<ellipse cx="262.80" cy="307.03" rx="2.3" ry="1.95" fill="#fff" stroke="#1a1a1a" stroke-width="0.72"/>
<ellipse cx="267.90" cy="307.03" rx="2.3" ry="1.95" fill="#fff" stroke="#1a1a1a" stroke-width="0.72"/>
<ellipse cx="273.00" cy="307.03" rx="2.3" ry="1.95" fill="#fff" stroke="#1a1a1a" stroke-width="0.72"/>
<ellipse cx="278.10" cy="307.03" rx="2.3" ry="1.95" fill="#fff" stroke="#1a1a1a" stroke-width="0.72"/>
<ellipse cx="283.20" cy="307.03" rx="2.3" ry="1.95" fill="#fff" stroke="#1a1a1a" stroke-width="0.72"/>
<ellipse cx="288.30" cy="307.03" rx="2.3" ry="1.95" fill="#fff" stroke="#1a1a1a" stroke-width="0.72"/>
<ellipse cx="293.40" cy="307.03" rx="2.3" ry="1.95" fill="#fff" stroke="#1a1a1a" stroke-width="0.72"/>
<ellipse cx="257.70" cy="311.46" rx="2.3" ry="1.95" fill="#fff" stroke="#1a1a1a" stroke-width="0.72"/>
<ellipse cx="262.80" cy="311.46" rx="2.3" ry="1.95" fill="#fff" stroke="#1a1a1a" stroke-width="0.72"/>
<ellipse cx="267.90" cy="311.46" rx="2.3" ry="1.95" fill="#fff" stroke="#1a1a1a" stroke-width="0.72"/>
<ellipse cx="273.00" cy="311.46" rx="2.3" ry="1.95" fill="#fff" stroke="#1a1a1a" stroke-width="0.72"/>
<ellipse cx="278.10" cy="311.46" rx="2.3" ry="1.95" fill="#fff" stroke="#1a1a1a" stroke-width="0.72"/>
<ellipse cx="283.20" cy="311.46" rx="2.3" ry="1.95" fill="#fff" stroke="#1a1a1a" stroke-width="0.72"/>
<ellipse cx="288.30" cy="311.46" rx="2.3" ry="1.95" fill="#fff" stroke="#1a1a1a" stroke-width="0.72"/>
<ellipse cx="293.40" cy="311.46" rx="2.3" ry="1.95" fill="#fff" stroke="#1a1a1a" stroke-width="0.72"/>
<ellipse cx="257.70" cy="315.89" rx="2.3" ry="1.95" fill="#fff" stroke="#1a1a1a" stroke-width="0.72"/>
<ellipse cx="262.80" cy="315.89" rx="2.3" ry="1.95" fill="#fff" stroke="#1a1a1a" stroke-width="0.72"/>
<ellipse cx="267.90" cy="315.89" rx="2.3" ry="1.95" fill="#fff" stroke="#1a1a1a" stroke-width="0.72"/>
<ellipse cx="273.00" cy="315.89" rx="2.3" ry="1.95" fill="#fff" stroke="#1a1a1a" stroke-width="0.72"/>
<ellipse cx="278.10" cy="315.89" rx="2.3" ry="1.95" fill="#fff" stroke="#1a1a1a" stroke-width="0.72"/>
<ellipse cx="283.20" cy="315.89" rx="2.3" ry="1.95" fill="#fff" stroke="#1a1a1a" stroke-width="0.72"/>
<ellipse cx="288.30" cy="315.89" rx="2.3" ry="1.95" fill="#fff" stroke="#1a1a1a" stroke-width="0.72"/>
<ellipse cx="293.40" cy="315.89" rx="2.3" ry="1.95" fill="#fff" stroke="#1a1a1a" stroke-width="0.72"/>
<ellipse cx="257.70" cy="320.32" rx="2.3" ry="1.95" fill="#fff" stroke="#1a1a1a" stroke-width="0.72"/>
<ellipse cx="262.80" cy="320.32" rx="2.3" ry="1.95" fill="#fff" stroke="#1a1a1a" stroke-width="0.72"/>
<ellipse cx="267.90" cy="320.32" rx="2.3" ry="1.95" fill="#fff" stroke="#1a1a1a" stroke-width="0.72"/>
<ellipse cx="273.00" cy="320.32" rx="2.3" ry="1.95" fill="#fff" stroke="#1a1a1a" stroke-width="0.72"/>
<ellipse cx="278.10" cy="320.32" rx="2.3" ry="1.95" fill="#fff" stroke="#1a1a1a" stroke-width="0.72"/>
<ellipse cx="283.20" cy="320.32" rx="2.3" ry="1.95" fill="#fff" stroke="#1a1a1a" stroke-width="0.72"/>
<ellipse cx="288.30" cy="320.32" rx="2.3" ry="1.95" fill="#fff" stroke="#1a1a1a" stroke-width="0.72"/>
<ellipse cx="293.40" cy="320.32" rx="2.3" ry="1.95" fill="#fff" stroke="#1a1a1a" stroke-width="0.72"/>
<ellipse cx="257.70" cy="324.75" rx="2.3" ry="1.95" fill="#fff" stroke="#1a1a1a" stroke-width="0.72"/>
<ellipse cx="262.80" cy="324.75" rx="2.3" ry="1.95" fill="#fff" stroke="#1a1a1a" stroke-width="0.72"/>
<ellipse cx="267.90" cy="324.75" rx="2.3" ry="1.95" fill="#fff" stroke="#1a1a1a" stroke-width="0.72"/>
<ellipse cx="273.00" cy="324.75" rx="2.3" ry="1.95" fill="#fff" stroke="#1a1a1a" stroke-width="0.72"/>
<ellipse cx="278.10" cy="324.75" rx="2.3" ry="1.95" fill="#fff" stroke="#1a1a1a" stroke-width="0.72"/>
<ellipse cx="283.20" cy="324.75" rx="2.3" ry="1.95" fill="#fff" stroke="#1a1a1a" stroke-width="0.72"/>
<ellipse cx="288.30" cy="324.75" rx="2.3" ry="1.95" fill="#fff" stroke="#1a1a1a" stroke-width="0.72"/>
<ellipse cx="293.40" cy="324.75" rx="2.3" ry="1.95" fill="#fff" stroke="#1a1a1a" stroke-width="0.72"/>
<ellipse cx="257.70" cy="329.18" rx="2.3" ry="1.95" fill="#fff" stroke="#1a1a1a" stroke-width="0.72"/>
<ellipse cx="262.80" cy="329.18" rx="2.3" ry="1.95" fill="#fff" stroke="#1a1a1a" stroke-width="0.72"/>
<ellipse cx="267.90" cy="329.18" rx="2.3" ry="1.95" fill="#fff" stroke="#1a1a1a" stroke-width="0.72"/>
<ellipse cx="273.00" cy="329.18" rx="2.3" ry="1.95" fill="#fff" stroke="#1a1a1a" stroke-width="0.72"/>
<ellipse cx="278.10" cy="329.18" rx="2.3" ry="1.95" fill="#fff" stroke="#1a1a1a" stroke-width="0.72"/>
<ellipse cx="283.20" cy="329.18" rx="2.3" ry="1.95" fill="#fff" stroke="#1a1a1a" stroke-width="0.72"/>
<ellipse cx="288.30" cy="329.18" rx="2.3" ry="1.95" fill="#fff" stroke="#1a1a1a" stroke-width="0.72"/>
<ellipse cx="293.40" cy="329.18" rx="2.3" ry="1.95" fill="#fff" stroke="#1a1a1a" stroke-width="0.72"/>
<ellipse cx="257.70" cy="333.61" rx="2.3" ry="1.95" fill="#fff" stroke="#1a1a1a" stroke-width="0.72"/>
<ellipse cx="262.80" cy="333.61" rx="2.3" ry="1.95" fill="#fff" stroke="#1a1a1a" stroke-width="0.72"/>
<ellipse cx="267.90" cy="333.61" rx="2.3" ry="1.95" fill="#fff" stroke="#1a1a1a" stroke-width="0.72"/>
<ellipse cx="273.00" cy="333.61" rx="2.3" ry="1.95" fill="#fff" stroke="#1a1a1a" stroke-width="0.72"/>
<ellipse cx="278.10" cy="333.61" rx="2.3" ry="1.95" fill="#fff" stroke="#1a1a1a" stroke-width="0.72"/>
<ellipse cx="283.20" cy="333.61" rx="2.3" ry="1.95" fill="#fff" stroke="#1a1a1a" stroke-width="0.72"/>
<ellipse cx="288.30" cy="333.61" rx="2.3" ry="1.95" fill="#fff" stroke="#1a1a1a" stroke-width="0.72"/>
<ellipse cx="293.40" cy="333.61" rx="2.3" ry="1.95" fill="#fff" stroke="#1a1a1a" stroke-width="0.72"/>
<g fill="none" stroke="#b01f29" stroke-width="1.25" stroke-linejoin="round">
<path d="M250.40 384.20 L250.68 383.64 L250.96 383.04 L251.24 382.42 L251.52 381.80 L251.80 381.17 L252.08 380.53 L252.36 379.89 L252.64 379.25 L252.92 378.61 L253.20 377.97 L253.48 377.33 L253.76 376.70 L254.04 376.08 L254.32 375.47 L254.60 374.88 L254.88 374.32 L255.16 373.82 L255.44 373.40 L255.72 373.11 L256.00 373.00 L256.28 373.11 L256.56 373.40 L256.84 373.82 L257.12 374.32 L257.40 374.88 L257.68 375.47 L257.96 376.08 L258.24 376.70 L258.52 377.33 L258.80 377.97 L259.08 378.61 L259.36 379.25 L259.64 379.89 L259.92 380.53 L260.20 381.17 L260.48 381.80 L260.76 382.42 L261.04 383.04 L261.32 383.64 L261.60 384.20"/>
<path d="M250.40 384.20 L250.68 383.90 L250.96 383.57 L251.24 383.24 L251.52 382.90 L251.80 382.56 L252.08 382.22 L252.36 381.87 L252.64 381.53 L252.92 381.18 L253.20 380.84 L253.48 380.49 L253.76 380.15 L254.04 379.81 L254.32 379.48 L254.60 379.17 L254.88 378.87 L255.16 378.59 L255.44 378.37 L255.72 378.21 L256.00 378.15 L256.28 378.21 L256.56 378.37 L256.84 378.59 L257.12 378.87 L257.40 379.17 L257.68 379.48 L257.96 379.81 L258.24 380.15 L258.52 380.49 L258.80 380.84 L259.08 381.18 L259.36 381.53 L259.64 381.87 L259.92 382.22 L260.20 382.56 L260.48 382.90 L260.76 383.24 L261.04 383.57 L261.32 383.90 L261.60 384.20"/>
<path d="M250.40 384.20 L250.68 384.04 L250.96 383.86 L251.24 383.68 L251.52 383.50 L251.80 383.32 L252.08 383.14 L252.36 382.95 L252.64 382.76 L252.92 382.58 L253.20 382.39 L253.48 382.21 L253.76 382.03 L254.04 381.84 L254.32 381.67 L254.60 381.50 L254.88 381.34 L255.16 381.19 L255.44 381.07 L255.72 380.98 L256.00 380.95 L256.28 380.98 L256.56 381.07 L256.84 381.19 L257.12 381.34 L257.40 381.50 L257.68 381.67 L257.96 381.84 L258.24 382.03 L258.52 382.21 L258.80 382.39 L259.08 382.58 L259.36 382.76 L259.64 382.95 L259.92 383.14 L260.20 383.32 L260.48 383.50 L260.76 383.68 L261.04 383.86 L261.32 384.04 L261.60 384.20"/>
<path d="M250.40 384.20 L250.68 384.14 L250.96 384.08 L251.24 384.01 L251.52 383.95 L251.80 383.88 L252.08 383.81 L252.36 383.75 L252.64 383.68 L252.92 383.61 L253.20 383.55 L253.48 383.48 L253.76 383.41 L254.04 383.35 L254.32 383.28 L254.60 383.22 L254.88 383.16 L255.16 383.11 L255.44 383.07 L255.72 383.04 L256.00 383.02 L256.28 383.04 L256.56 383.07 L256.84 383.11 L257.12 383.16 L257.40 383.22 L257.68 383.28 L257.96 383.35 L258.24 383.41 L258.52 383.48 L258.80 383.55 L259.08 383.61 L259.36 383.68 L259.64 383.75 L259.92 383.81 L260.20 383.88 L260.48 383.95 L260.76 384.01 L261.04 384.08 L261.32 384.14 L261.60 384.20"/>
<path d="M268.00 384.20 L268.28 383.18 L268.56 382.09 L268.84 380.98 L269.12 379.84 L269.40 378.70 L269.68 377.55 L269.96 376.39 L270.24 375.23 L270.52 374.07 L270.80 372.91 L271.08 371.75 L271.36 370.61 L271.64 369.48 L271.92 368.37 L272.20 367.31 L272.48 366.30 L272.76 365.38 L273.04 364.62 L273.32 364.09 L273.60 363.90 L273.88 364.09 L274.16 364.62 L274.44 365.38 L274.72 366.30 L275.00 367.31 L275.28 368.37 L275.56 369.48 L275.84 370.61 L276.12 371.75 L276.40 372.91 L276.68 374.07 L276.96 375.23 L277.24 376.39 L277.52 377.55 L277.80 378.70 L278.08 379.84 L278.36 380.98 L278.64 382.09 L278.92 383.18 L279.20 384.20"/>
<path d="M268.00 384.20 L268.28 383.65 L268.56 383.06 L268.84 382.46 L269.12 381.85 L269.40 381.23 L269.68 380.61 L269.96 379.98 L270.24 379.36 L270.52 378.73 L270.80 378.10 L271.08 377.48 L271.36 376.86 L271.64 376.25 L271.92 375.65 L272.20 375.08 L272.48 374.53 L272.76 374.04 L273.04 373.62 L273.32 373.34 L273.60 373.24 L273.88 373.34 L274.16 373.62 L274.44 374.04 L274.72 374.53 L275.00 375.08 L275.28 375.65 L275.56 376.25 L275.84 376.86 L276.12 377.48 L276.40 378.10 L276.68 378.73 L276.96 379.36 L277.24 379.98 L277.52 380.61 L277.80 381.23 L278.08 381.85 L278.36 382.46 L278.64 383.06 L278.92 383.65 L279.20 384.20"/>
<path d="M268.00 384.20 L268.28 383.90 L268.56 383.59 L268.84 383.27 L269.12 382.94 L269.40 382.61 L269.68 382.27 L269.96 381.94 L270.24 381.60 L270.52 381.26 L270.80 380.93 L271.08 380.59 L271.36 380.26 L271.64 379.93 L271.92 379.61 L272.20 379.30 L272.48 379.01 L272.76 378.74 L273.04 378.52 L273.32 378.37 L273.60 378.31 L273.88 378.37 L274.16 378.52 L274.44 378.74 L274.72 379.01 L275.00 379.30 L275.28 379.61 L275.56 379.93 L275.84 380.26 L276.12 380.59 L276.40 380.93 L276.68 381.26 L276.96 381.60 L277.24 381.94 L277.52 382.27 L277.80 382.61 L278.08 382.94 L278.36 383.27 L278.64 383.59 L278.92 383.90 L279.20 384.20"/>
<path d="M268.00 384.20 L268.28 384.09 L268.56 383.98 L268.84 383.86 L269.12 383.74 L269.40 383.62 L269.68 383.50 L269.96 383.38 L270.24 383.26 L270.52 383.14 L270.80 383.01 L271.08 382.89 L271.36 382.77 L271.64 382.65 L271.92 382.54 L272.20 382.43 L272.48 382.32 L272.76 382.22 L273.04 382.14 L273.32 382.09 L273.60 382.07 L273.88 382.09 L274.16 382.14 L274.44 382.22 L274.72 382.32 L275.00 382.43 L275.28 382.54 L275.56 382.65 L275.84 382.77 L276.12 382.89 L276.40 383.01 L276.68 383.14 L276.96 383.26 L277.24 383.38 L277.52 383.50 L277.80 383.62 L278.08 383.74 L278.36 383.86 L278.64 383.98 L278.92 384.09 L279.20 384.20"/>
<path d="M285.90 384.20 L286.18 382.37 L286.46 380.42 L286.74 378.42 L287.02 376.39 L287.30 374.34 L287.58 372.27 L287.86 370.20 L288.14 368.12 L288.42 366.03 L288.70 363.95 L288.98 361.88 L289.26 359.83 L289.54 357.80 L289.82 355.82 L290.10 353.91 L290.38 352.10 L290.66 350.45 L290.94 349.08 L291.22 348.14 L291.50 347.80 L291.78 348.14 L292.06 349.08 L292.34 350.45 L292.62 352.10 L292.90 353.91 L293.18 355.82 L293.46 357.80 L293.74 359.83 L294.02 361.88 L294.30 363.95 L294.58 366.03 L294.86 368.12 L295.14 370.20 L295.42 372.27 L295.70 374.34 L295.98 376.39 L296.26 378.42 L296.54 380.42 L296.82 382.37 L297.10 384.20"/>
<path d="M285.90 384.20 L286.18 383.21 L286.46 382.16 L286.74 381.08 L287.02 379.98 L287.30 378.87 L287.58 377.76 L287.86 376.64 L288.14 375.51 L288.42 374.39 L288.70 373.27 L288.98 372.15 L289.26 371.04 L289.54 369.95 L289.82 368.88 L290.10 367.84 L290.38 366.86 L290.66 365.98 L290.94 365.24 L291.22 364.73 L291.50 364.54 L291.78 364.73 L292.06 365.24 L292.34 365.98 L292.62 366.86 L292.90 367.84 L293.18 368.88 L293.46 369.95 L293.74 371.04 L294.02 372.15 L294.30 373.27 L294.58 374.39 L294.86 375.51 L295.14 376.64 L295.42 377.76 L295.70 378.87 L295.98 379.98 L296.26 381.08 L296.54 382.16 L296.82 383.21 L297.10 384.20"/>
<path d="M285.90 384.20 L286.18 383.67 L286.46 383.10 L286.74 382.52 L287.02 381.94 L287.30 381.34 L287.58 380.74 L287.86 380.14 L288.14 379.54 L288.42 378.93 L288.70 378.33 L288.98 377.73 L289.26 377.13 L289.54 376.55 L289.82 375.97 L290.10 375.41 L290.38 374.89 L290.66 374.41 L290.94 374.02 L291.22 373.74 L291.50 373.64 L291.78 373.74 L292.06 374.02 L292.34 374.41 L292.62 374.89 L292.90 375.41 L293.18 375.97 L293.46 376.55 L293.74 377.13 L294.02 377.73 L294.30 378.33 L294.58 378.93 L294.86 379.54 L295.14 380.14 L295.42 380.74 L295.70 381.34 L295.98 381.94 L296.26 382.52 L296.54 383.10 L296.82 383.67 L297.10 384.20"/>
<path d="M285.90 384.20 L286.18 384.01 L286.46 383.80 L286.74 383.59 L287.02 383.38 L287.30 383.16 L287.58 382.95 L287.86 382.73 L288.14 382.51 L288.42 382.29 L288.70 382.07 L288.98 381.86 L289.26 381.64 L289.54 381.43 L289.82 381.22 L290.10 381.02 L290.38 380.83 L290.66 380.66 L290.94 380.51 L291.22 380.41 L291.50 380.38 L291.78 380.41 L292.06 380.51 L292.34 380.66 L292.62 380.83 L292.90 381.02 L293.18 381.22 L293.46 381.43 L293.74 381.64 L294.02 381.86 L294.30 382.07 L294.58 382.29 L294.86 382.51 L295.14 382.73 L295.42 382.95 L295.70 383.16 L295.98 383.38 L296.26 383.59 L296.54 383.80 L296.82 384.01 L297.10 384.20"/>
<path d="M303.30 384.20 L303.58 381.94 L303.86 379.53 L304.14 377.06 L304.42 374.54 L304.70 372.01 L304.98 369.45 L305.26 366.89 L305.54 364.31 L305.82 361.74 L306.10 359.17 L306.38 356.61 L306.66 354.07 L306.94 351.57 L307.22 349.12 L307.50 346.75 L307.78 344.51 L308.06 342.48 L308.34 340.79 L308.62 339.62 L308.90 339.20 L309.18 339.62 L309.46 340.79 L309.74 342.48 L310.02 344.51 L310.30 346.75 L310.58 349.12 L310.86 351.57 L311.14 354.07 L311.42 356.61 L311.70 359.17 L311.98 361.74 L312.26 364.31 L312.54 366.89 L312.82 369.45 L313.10 372.01 L313.38 374.54 L313.66 377.06 L313.94 379.53 L314.22 381.94 L314.50 384.20"/>
<path d="M303.30 384.20 L303.58 382.98 L303.86 381.68 L304.14 380.34 L304.42 378.99 L304.70 377.62 L304.98 376.24 L305.26 374.85 L305.54 373.46 L305.82 372.07 L306.10 370.68 L306.38 369.30 L306.66 367.93 L306.94 366.58 L307.22 365.26 L307.50 363.98 L307.78 362.77 L308.06 361.67 L308.34 360.76 L308.62 360.13 L308.90 359.90 L309.18 360.13 L309.46 360.76 L309.74 361.67 L310.02 362.77 L310.30 363.98 L310.58 365.26 L310.86 366.58 L311.14 367.93 L311.42 369.30 L311.70 370.68 L311.98 372.07 L312.26 373.46 L312.54 374.85 L312.82 376.24 L313.10 377.62 L313.38 378.99 L313.66 380.34 L313.94 381.68 L314.22 382.98 L314.50 384.20"/>
<path d="M303.30 384.20 L303.58 383.55 L303.86 382.85 L304.14 382.13 L304.42 381.40 L304.70 380.66 L304.98 379.92 L305.26 379.18 L305.54 378.43 L305.82 377.69 L306.10 376.94 L306.38 376.20 L306.66 375.46 L306.94 374.74 L307.22 374.03 L307.50 373.34 L307.78 372.69 L308.06 372.10 L308.34 371.61 L308.62 371.27 L308.90 371.15 L309.18 371.27 L309.46 371.61 L309.74 372.10 L310.02 372.69 L310.30 373.34 L310.58 374.03 L310.86 374.74 L311.14 375.46 L311.42 376.20 L311.70 376.94 L311.98 377.69 L312.26 378.43 L312.54 379.18 L312.82 379.92 L313.10 380.66 L313.38 381.40 L313.66 382.13 L313.94 382.85 L314.22 383.55 L314.50 384.20"/>
<path d="M303.30 384.20 L303.58 383.96 L303.86 383.71 L304.14 383.45 L304.42 383.19 L304.70 382.92 L304.98 382.65 L305.26 382.38 L305.54 382.11 L305.82 381.84 L306.10 381.57 L306.38 381.30 L306.66 381.04 L306.94 380.77 L307.22 380.52 L307.50 380.27 L307.78 380.03 L308.06 379.82 L308.34 379.64 L308.62 379.52 L308.90 379.47 L309.18 379.52 L309.46 379.64 L309.74 379.82 L310.02 380.03 L310.30 380.27 L310.58 380.52 L310.86 380.77 L311.14 381.04 L311.42 381.30 L311.70 381.57 L311.98 381.84 L312.26 382.11 L312.54 382.38 L312.82 382.65 L313.10 382.92 L313.38 383.19 L313.66 383.45 L313.94 383.71 L314.22 383.96 L314.50 384.20"/>
<path d="M321.20 384.20 L321.48 381.69 L321.76 379.00 L322.04 376.25 L322.32 373.45 L322.60 370.63 L322.88 367.78 L323.16 364.93 L323.44 362.06 L323.72 359.19 L324.00 356.33 L324.28 353.48 L324.56 350.66 L324.84 347.87 L325.12 345.14 L325.40 342.50 L325.68 340.01 L325.96 337.75 L326.24 335.87 L326.52 334.57 L326.80 334.10 L327.08 334.57 L327.36 335.87 L327.64 337.75 L327.92 340.01 L328.20 342.50 L328.48 345.14 L328.76 347.87 L329.04 350.66 L329.32 353.48 L329.60 356.33 L329.88 359.19 L330.16 362.06 L330.44 364.93 L330.72 367.78 L331.00 370.63 L331.28 373.45 L331.56 376.25 L331.84 379.00 L332.12 381.69 L332.40 384.20"/>
<path d="M321.20 384.20 L321.48 382.84 L321.76 381.39 L322.04 379.90 L322.32 378.40 L322.60 376.87 L322.88 375.33 L323.16 373.79 L323.44 372.25 L323.72 370.70 L324.00 369.15 L324.28 367.61 L324.56 366.09 L324.84 364.58 L325.12 363.11 L325.40 361.68 L325.68 360.34 L325.96 359.12 L326.24 358.10 L326.52 357.40 L326.80 357.15 L327.08 357.40 L327.36 358.10 L327.64 359.12 L327.92 360.34 L328.20 361.68 L328.48 363.11 L328.76 364.58 L329.04 366.09 L329.32 367.61 L329.60 369.15 L329.88 370.70 L330.16 372.25 L330.44 373.79 L330.72 375.33 L331.00 376.87 L331.28 378.40 L331.56 379.90 L331.84 381.39 L332.12 382.84 L332.40 384.20"/>
<path d="M321.20 384.20 L321.48 383.47 L321.76 382.69 L322.04 381.89 L322.32 381.08 L322.60 380.26 L322.88 379.44 L323.16 378.61 L323.44 377.78 L323.72 376.95 L324.00 376.12 L324.28 375.29 L324.56 374.47 L324.84 373.66 L325.12 372.87 L325.40 372.11 L325.68 371.39 L325.96 370.73 L326.24 370.18 L326.52 369.81 L326.80 369.67 L327.08 369.81 L327.36 370.18 L327.64 370.73 L327.92 371.39 L328.20 372.11 L328.48 372.87 L328.76 373.66 L329.04 374.47 L329.32 375.29 L329.60 376.12 L329.88 376.95 L330.16 377.78 L330.44 378.61 L330.72 379.44 L331.00 380.26 L331.28 381.08 L331.56 381.89 L331.84 382.69 L332.12 383.47 L332.40 384.20"/>
<path d="M321.20 384.20 L321.48 383.94 L321.76 383.65 L322.04 383.36 L322.32 383.07 L322.60 382.77 L322.88 382.48 L323.16 382.18 L323.44 381.88 L323.72 381.57 L324.00 381.27 L324.28 380.97 L324.56 380.68 L324.84 380.39 L325.12 380.10 L325.40 379.82 L325.68 379.56 L325.96 379.32 L326.24 379.13 L326.52 378.99 L326.80 378.94 L327.08 378.99 L327.36 379.13 L327.64 379.32 L327.92 379.56 L328.20 379.82 L328.48 380.10 L328.76 380.39 L329.04 380.68 L329.32 380.97 L329.60 381.27 L329.88 381.57 L330.16 381.88 L330.44 382.18 L330.72 382.48 L331.00 382.77 L331.28 383.07 L331.56 383.36 L331.84 383.65 L332.12 383.94 L332.40 384.20"/>
<path d="M338.90 384.20 L339.18 381.15 L339.46 377.89 L339.74 374.55 L340.02 371.15 L340.30 367.73 L340.58 364.28 L340.86 360.81 L341.14 357.33 L341.42 353.85 L341.70 350.38 L341.98 346.92 L342.26 343.49 L342.54 340.11 L342.82 336.80 L343.10 333.60 L343.38 330.58 L343.66 327.83 L343.94 325.55 L344.22 323.97 L344.50 323.40 L344.78 323.97 L345.06 325.55 L345.34 327.83 L345.62 330.58 L345.90 333.60 L346.18 336.80 L346.46 340.11 L346.74 343.49 L347.02 346.92 L347.30 350.38 L347.58 353.85 L347.86 357.33 L348.14 360.81 L348.42 364.28 L348.70 367.73 L348.98 371.15 L349.26 374.55 L349.54 377.89 L349.82 381.15 L350.10 384.20"/>
<path d="M338.90 384.20 L339.18 382.55 L339.46 380.79 L339.74 378.99 L340.02 377.16 L340.30 375.31 L340.58 373.44 L340.86 371.57 L341.14 369.69 L341.42 367.81 L341.70 365.94 L341.98 364.07 L342.26 362.22 L342.54 360.39 L342.82 358.60 L343.10 356.88 L343.38 355.24 L343.66 353.76 L343.94 352.53 L344.22 351.68 L344.50 351.37 L344.78 351.68 L345.06 352.53 L345.34 353.76 L345.62 355.24 L345.90 356.88 L346.18 358.60 L346.46 360.39 L346.74 362.22 L347.02 364.07 L347.30 365.94 L347.58 367.81 L347.86 369.69 L348.14 371.57 L348.42 373.44 L348.70 375.31 L348.98 377.16 L349.26 378.99 L349.54 380.79 L349.82 382.55 L350.10 384.20"/>
<path d="M338.90 384.20 L339.18 383.32 L339.46 382.37 L339.74 381.40 L340.02 380.42 L340.30 379.42 L340.58 378.42 L340.86 377.42 L341.14 376.41 L341.42 375.40 L341.70 374.39 L341.98 373.39 L342.26 372.40 L342.54 371.41 L342.82 370.45 L343.10 369.53 L343.38 368.65 L343.66 367.85 L343.94 367.19 L344.22 366.73 L344.50 366.57 L344.78 366.73 L345.06 367.19 L345.34 367.85 L345.62 368.65 L345.90 369.53 L346.18 370.45 L346.46 371.41 L346.74 372.40 L347.02 373.39 L347.30 374.39 L347.58 375.40 L347.86 376.41 L348.14 377.42 L348.42 378.42 L348.70 379.42 L348.98 380.42 L349.26 381.40 L349.54 382.37 L349.82 383.32 L350.10 384.20"/>
<path d="M338.90 384.20 L339.18 383.88 L339.46 383.54 L339.74 383.19 L340.02 382.83 L340.30 382.47 L340.58 382.11 L340.86 381.74 L341.14 381.38 L341.42 381.01 L341.70 380.65 L341.98 380.29 L342.26 379.93 L342.54 379.57 L342.82 379.22 L343.10 378.89 L343.38 378.57 L343.66 378.28 L343.94 378.04 L344.22 377.88 L344.50 377.82 L344.78 377.88 L345.06 378.04 L345.34 378.28 L345.62 378.57 L345.90 378.89 L346.18 379.22 L346.46 379.57 L346.74 379.93 L347.02 380.29 L347.30 380.65 L347.58 381.01 L347.86 381.38 L348.14 381.74 L348.42 382.11 L348.70 382.47 L348.98 382.83 L349.26 383.19 L349.54 383.54 L349.82 383.88 L350.10 384.20"/>
<path d="M356.70 384.20 L356.98 380.54 L357.26 376.63 L357.54 372.63 L357.82 368.56 L358.10 364.45 L358.38 360.31 L358.66 356.15 L358.94 351.99 L359.22 347.81 L359.50 343.65 L359.78 339.51 L360.06 335.39 L360.34 331.34 L360.62 327.37 L360.90 323.53 L361.18 319.90 L361.46 316.62 L361.74 313.87 L362.02 311.98 L362.30 311.30 L362.58 311.98 L362.86 313.87 L363.14 316.62 L363.42 319.90 L363.70 323.53 L363.98 327.37 L364.26 331.34 L364.54 335.39 L364.82 339.51 L365.10 343.65 L365.38 347.81 L365.66 351.99 L365.94 356.15 L366.22 360.31 L366.50 364.45 L366.78 368.56 L367.06 372.63 L367.34 376.63 L367.62 380.54 L367.90 384.20"/>
<path d="M356.70 384.20 L356.98 382.22 L357.26 380.11 L357.54 377.95 L357.82 375.75 L358.10 373.53 L358.38 371.30 L358.66 369.06 L358.94 366.80 L359.22 364.55 L359.50 362.30 L359.78 360.06 L360.06 357.84 L360.34 355.65 L360.62 353.51 L360.90 351.44 L361.18 349.48 L361.46 347.70 L361.74 346.22 L362.02 345.20 L362.30 344.83 L362.58 345.20 L362.86 346.22 L363.14 347.70 L363.42 349.48 L363.70 351.44 L363.98 353.51 L364.26 355.65 L364.54 357.84 L364.82 360.06 L365.10 362.30 L365.38 364.55 L365.66 366.80 L365.94 369.06 L366.22 371.30 L366.50 373.53 L366.78 375.75 L367.06 377.95 L367.34 380.11 L367.62 382.22 L367.90 384.20"/>
<path d="M356.70 384.20 L356.98 383.14 L357.26 382.01 L357.54 380.84 L357.82 379.66 L358.10 378.47 L358.38 377.27 L358.66 376.07 L358.94 374.86 L359.22 373.65 L359.50 372.44 L359.78 371.24 L360.06 370.05 L360.34 368.87 L360.62 367.72 L360.90 366.61 L361.18 365.55 L361.46 364.60 L361.74 363.80 L362.02 363.26 L362.30 363.06 L362.58 363.26 L362.86 363.80 L363.14 364.60 L363.42 365.55 L363.70 366.61 L363.98 367.72 L364.26 368.87 L364.54 370.05 L364.82 371.24 L365.10 372.44 L365.38 373.65 L365.66 374.86 L365.94 376.07 L366.22 377.27 L366.50 378.47 L366.78 379.66 L367.06 380.84 L367.34 382.01 L367.62 383.14 L367.90 384.20"/>
<path d="M356.70 384.20 L356.98 383.82 L357.26 383.41 L357.54 382.98 L357.82 382.56 L358.10 382.13 L358.38 381.69 L358.66 381.26 L358.94 380.82 L359.22 380.38 L359.50 379.94 L359.78 379.51 L360.06 379.08 L360.34 378.65 L360.62 378.23 L360.90 377.83 L361.18 377.45 L361.46 377.10 L361.74 376.82 L362.02 376.62 L362.30 376.55 L362.58 376.62 L362.86 376.82 L363.14 377.10 L363.42 377.45 L363.70 377.83 L363.98 378.23 L364.26 378.65 L364.54 379.08 L364.82 379.51 L365.10 379.94 L365.38 380.38 L365.66 380.82 L365.94 381.26 L366.22 381.69 L366.50 382.13 L366.78 382.56 L367.06 382.98 L367.34 383.41 L367.62 383.82 L367.90 384.20"/>
</g>
<polygon points="251.2,416.8 368.8,388.4 368.8,416.8" fill="#f0d8a6" stroke="#111" stroke-width="1.4" stroke-linejoin="miter"/>
<circle cx="343.0" cy="401.0" r="3.6" fill="url(#og)" stroke="#b87000" stroke-width="0.4"/>
<circle cx="346.5" cy="406.0" r="3.6" fill="url(#og)" stroke="#b87000" stroke-width="0.4"/>
<circle cx="341.5" cy="408.0" r="3.2" fill="url(#og)" stroke="#b87000" stroke-width="0.4"/>
<circle cx="351.0" cy="400.5" r="3.6" fill="url(#og)" stroke="#b87000" stroke-width="0.4"/>
<circle cx="352.0" cy="406.5" r="3.6" fill="url(#og)" stroke="#b87000" stroke-width="0.4"/>
<circle cx="357.0" cy="398.0" r="3.4" fill="url(#og)" stroke="#b87000" stroke-width="0.4"/>
<circle cx="360.5" cy="402.5" r="3.4" fill="url(#og)" stroke="#b87000" stroke-width="0.4"/>
<circle cx="356.0" cy="408.5" r="3.4" fill="url(#og)" stroke="#b87000" stroke-width="0.4"/>
<circle cx="361.5" cy="408.0" r="3.0" fill="url(#og)" stroke="#b87000" stroke-width="0.4"/>
<circle cx="348.0" cy="410.5" r="3.0" fill="url(#og)" stroke="#b87000" stroke-width="0.4"/>
<text x="264.90" y="430.50" font-size="9.9" text-anchor="start" fill="#1a1a1a" stroke="#1a1a1a" >Drug concentration</text>
<path d="M247.3 442 L247.3 452 C247.6 460 250.3 467 252.3 469.8 C254.3 467 257.0 460 257.3 452 L257.3 442 Z" fill="#fff" stroke="#888" stroke-width="0.7"/>
<path d="M247.3 451.5 L257.3 451.5 L257.3 452 C257.0 460 254.3 467 252.3 469.8 C250.3 467 247.6 460 247.3 452 Z" fill="#f4f4f4" stroke="#444" stroke-width="0.7"/>
<line x1="253.8" y1="445.0" x2="257.3" y2="445.0" stroke="#444" stroke-width="0.6"/>
<line x1="253.8" y1="447.6" x2="257.3" y2="447.6" stroke="#444" stroke-width="0.6"/>
<line x1="253.8" y1="450.2" x2="257.3" y2="450.2" stroke="#444" stroke-width="0.6"/>
<line x1="253.8" y1="452.8" x2="257.3" y2="452.8" stroke="#444" stroke-width="0.6"/>
<rect x="246.0" y="438.6" width="12.6" height="2.6" fill="#555" stroke="#333" stroke-width="0.5"/>
<path d="M265.5 442 L265.5 452 C265.8 460 268.5 467 270.5 469.8 C272.5 467 275.2 460 275.5 452 L275.5 442 Z" fill="#fff" stroke="#888" stroke-width="0.7"/>
<path d="M265.5 451.5 L275.5 451.5 L275.5 452 C275.2 460 272.5 467 270.5 469.8 C268.5 467 265.8 460 265.5 452 Z" fill="#f3e2cd" stroke="#444" stroke-width="0.7"/>
<line x1="272.0" y1="445.0" x2="275.5" y2="445.0" stroke="#444" stroke-width="0.6"/>
<line x1="272.0" y1="447.6" x2="275.5" y2="447.6" stroke="#444" stroke-width="0.6"/>
<line x1="272.0" y1="450.2" x2="275.5" y2="450.2" stroke="#444" stroke-width="0.6"/>
<line x1="272.0" y1="452.8" x2="275.5" y2="452.8" stroke="#444" stroke-width="0.6"/>
<rect x="264.2" y="438.6" width="12.6" height="2.6" fill="#555" stroke="#333" stroke-width="0.5"/>
<path d="M283.7 442 L283.7 452 C284.0 460 286.7 467 288.7 469.8 C290.7 467 293.4 460 293.7 452 L293.7 442 Z" fill="#fff" stroke="#888" stroke-width="0.7"/>
<path d="M283.7 451.5 L293.7 451.5 L293.7 452 C293.4 460 290.7 467 288.7 469.8 C286.7 467 284.0 460 283.7 452 Z" fill="#ecd2a8" stroke="#444" stroke-width="0.7"/>
<line x1="290.2" y1="445.0" x2="293.7" y2="445.0" stroke="#444" stroke-width="0.6"/>
<line x1="290.2" y1="447.6" x2="293.7" y2="447.6" stroke="#444" stroke-width="0.6"/>
<line x1="290.2" y1="450.2" x2="293.7" y2="450.2" stroke="#444" stroke-width="0.6"/>
<line x1="290.2" y1="452.8" x2="293.7" y2="452.8" stroke="#444" stroke-width="0.6"/>
<rect x="282.4" y="438.6" width="12.6" height="2.6" fill="#555" stroke="#333" stroke-width="0.5"/>
<path d="M301.8 442 L301.8 452 C302.1 460 304.8 467 306.8 469.8 C308.8 467 311.5 460 311.8 452 L311.8 442 Z" fill="#fff" stroke="#888" stroke-width="0.7"/>
<path d="M301.8 451.5 L311.8 451.5 L311.8 452 C311.5 460 308.8 467 306.8 469.8 C304.8 467 302.1 460 301.8 452 Z" fill="#d9ad6c" stroke="#444" stroke-width="0.7"/>
<line x1="308.3" y1="445.0" x2="311.8" y2="445.0" stroke="#444" stroke-width="0.6"/>
<line x1="308.3" y1="447.6" x2="311.8" y2="447.6" stroke="#444" stroke-width="0.6"/>
<line x1="308.3" y1="450.2" x2="311.8" y2="450.2" stroke="#444" stroke-width="0.6"/>
<line x1="308.3" y1="452.8" x2="311.8" y2="452.8" stroke="#444" stroke-width="0.6"/>
<rect x="300.5" y="438.6" width="12.6" height="2.6" fill="#555" stroke="#333" stroke-width="0.5"/>
<path d="M320.0 442 L320.0 452 C320.3 460 323.0 467 325.0 469.8 C327.0 467 329.7 460 330.0 452 L330.0 442 Z" fill="#fff" stroke="#888" stroke-width="0.7"/>
<path d="M320.0 451.5 L330.0 451.5 L330.0 452 C329.7 460 327.0 467 325.0 469.8 C323.0 467 320.3 460 320.0 452 Z" fill="#c4a06f" stroke="#444" stroke-width="0.7"/>
<line x1="326.5" y1="445.0" x2="330.0" y2="445.0" stroke="#444" stroke-width="0.6"/>
<line x1="326.5" y1="447.6" x2="330.0" y2="447.6" stroke="#444" stroke-width="0.6"/>
<line x1="326.5" y1="450.2" x2="330.0" y2="450.2" stroke="#444" stroke-width="0.6"/>
<line x1="326.5" y1="452.8" x2="330.0" y2="452.8" stroke="#444" stroke-width="0.6"/>
<rect x="318.7" y="438.6" width="12.6" height="2.6" fill="#555" stroke="#333" stroke-width="0.5"/>
<path d="M338.2 442 L338.2 452 C338.5 460 341.2 467 343.2 469.8 C345.2 467 347.9 460 348.2 452 L348.2 442 Z" fill="#fff" stroke="#888" stroke-width="0.7"/>
<path d="M338.2 451.5 L348.2 451.5 L348.2 452 C347.9 460 345.2 467 343.2 469.8 C341.2 467 338.5 460 338.2 452 Z" fill="#a67f63" stroke="#444" stroke-width="0.7"/>
<line x1="344.7" y1="445.0" x2="348.2" y2="445.0" stroke="#444" stroke-width="0.6"/>
<line x1="344.7" y1="447.6" x2="348.2" y2="447.6" stroke="#444" stroke-width="0.6"/>
<line x1="344.7" y1="450.2" x2="348.2" y2="450.2" stroke="#444" stroke-width="0.6"/>
<line x1="344.7" y1="452.8" x2="348.2" y2="452.8" stroke="#444" stroke-width="0.6"/>
<rect x="336.9" y="438.6" width="12.6" height="2.6" fill="#555" stroke="#333" stroke-width="0.5"/>
<path d="M356.4 442 L356.4 452 C356.7 460 359.4 467 361.4 469.8 C363.4 467 366.1 460 366.4 452 L366.4 442 Z" fill="#fff" stroke="#888" stroke-width="0.7"/>
<path d="M356.4 451.5 L366.4 451.5 L366.4 452 C366.1 460 363.4 467 361.4 469.8 C359.4 467 356.7 460 356.4 452 Z" fill="#8e6a4e" stroke="#444" stroke-width="0.7"/>
<line x1="362.9" y1="445.0" x2="366.4" y2="445.0" stroke="#444" stroke-width="0.6"/>
<line x1="362.9" y1="447.6" x2="366.4" y2="447.6" stroke="#444" stroke-width="0.6"/>
<line x1="362.9" y1="450.2" x2="366.4" y2="450.2" stroke="#444" stroke-width="0.6"/>
<line x1="362.9" y1="452.8" x2="366.4" y2="452.8" stroke="#444" stroke-width="0.6"/>
<rect x="355.1" y="438.6" width="12.6" height="2.6" fill="#555" stroke="#333" stroke-width="0.5"/>
<path d="M433.00 427.20 C433.67 426.75 435.67 425.58 437.00 424.50 C438.33 423.42 439.67 421.87 441.00 420.70 C442.33 419.53 443.83 418.53 445.00 417.50 C446.17 416.47 447.00 416.08 448.00 414.50 C449.00 412.92 450.08 411.08 451.00 408.00 C451.92 404.92 452.70 401.00 453.50 396.00 C454.30 391.00 455.03 384.67 455.80 378.00 C456.57 371.33 457.37 363.33 458.10 356.00 C458.83 348.67 459.58 339.53 460.20 334.00 C460.82 328.47 461.40 324.90 461.80 322.80 C462.20 320.70 462.23 321.28 462.60 321.40 C462.97 321.52 463.47 321.73 464.00 323.50 C464.53 325.27 465.22 328.25 465.80 332.00 C466.38 335.75 466.87 340.67 467.50 346.00 C468.13 351.33 468.82 358.00 469.60 364.00 C470.38 370.00 471.22 376.58 472.20 382.00 C473.18 387.42 474.27 392.13 475.50 396.50 C476.73 400.87 478.27 405.03 479.60 408.20 C480.93 411.37 482.27 413.50 483.50 415.50 C484.73 417.50 485.75 418.88 487.00 420.20 C488.25 421.52 489.33 422.47 491.00 423.40 C492.67 424.33 495.00 425.20 497.00 425.80 C499.00 426.40 500.83 426.70 503.00 427.00 C505.17 427.30 508.83 427.50 510.00 427.60 L510 427.7 L433 427.7 Z" fill="#cd4e5f" fill-opacity="0.56"/>
<path d="M433.00 427.20 C433.67 426.75 435.67 425.58 437.00 424.50 C438.33 423.42 439.67 421.87 441.00 420.70 C442.33 419.53 443.83 418.53 445.00 417.50 C446.17 416.47 447.00 416.08 448.00 414.50 C449.00 412.92 450.08 411.08 451.00 408.00 C451.92 404.92 452.70 401.00 453.50 396.00 C454.30 391.00 455.03 384.67 455.80 378.00 C456.57 371.33 457.37 363.33 458.10 356.00 C458.83 348.67 459.58 339.53 460.20 334.00 C460.82 328.47 461.40 324.90 461.80 322.80 C462.20 320.70 462.23 321.28 462.60 321.40 C462.97 321.52 463.47 321.73 464.00 323.50 C464.53 325.27 465.22 328.25 465.80 332.00 C466.38 335.75 466.87 340.67 467.50 346.00 C468.13 351.33 468.82 358.00 469.60 364.00 C470.38 370.00 471.22 376.58 472.20 382.00 C473.18 387.42 474.27 392.13 475.50 396.50 C476.73 400.87 478.27 405.03 479.60 408.20 C480.93 411.37 482.27 413.50 483.50 415.50 C484.73 417.50 485.75 418.88 487.00 420.20 C488.25 421.52 489.33 422.47 491.00 423.40 C492.67 424.33 495.00 425.20 497.00 425.80 C499.00 426.40 500.83 426.70 503.00 427.00 C505.17 427.30 508.83 427.50 510.00 427.60" fill="none" stroke="#c8283a" stroke-width="1.3"/>
<path d="M433.00 427.60 C435.83 427.07 444.30 425.50 450.00 424.40 C455.70 423.30 461.87 422.13 467.20 421.00 C472.53 419.87 477.03 418.70 482.00 417.60 C486.97 416.50 493.00 415.13 497.00 414.40 C501.00 413.67 503.17 413.47 506.00 413.20 C508.83 412.93 510.50 412.73 514.00 412.80 C517.50 412.87 522.38 413.28 527.00 413.60 C531.62 413.92 537.03 414.40 541.70 414.70 C546.37 415.00 550.65 415.15 555.00 415.40 C559.35 415.65 563.80 415.87 567.80 416.20 C571.80 416.53 575.28 416.90 579.00 417.40 C582.72 417.90 586.10 418.47 590.10 419.20 C594.10 419.93 598.67 421.00 603.00 421.80 C607.33 422.60 611.77 423.42 616.10 424.00 C620.43 424.58 624.65 424.98 629.00 425.30 C633.35 425.62 637.03 425.70 642.20 425.90 C647.37 426.10 653.17 426.32 660.00 426.50 C666.83 426.68 679.33 426.92 683.20 427.00 L683.2 427.7 L433 427.7 Z" fill="#3287cd" fill-opacity="0.38"/>
<path d="M433.00 427.60 C435.83 427.07 444.30 425.50 450.00 424.40 C455.70 423.30 461.87 422.13 467.20 421.00 C472.53 419.87 477.03 418.70 482.00 417.60 C486.97 416.50 493.00 415.13 497.00 414.40 C501.00 413.67 503.17 413.47 506.00 413.20 C508.83 412.93 510.50 412.73 514.00 412.80 C517.50 412.87 522.38 413.28 527.00 413.60 C531.62 413.92 537.03 414.40 541.70 414.70 C546.37 415.00 550.65 415.15 555.00 415.40 C559.35 415.65 563.80 415.87 567.80 416.20 C571.80 416.53 575.28 416.90 579.00 417.40 C582.72 417.90 586.10 418.47 590.10 419.20 C594.10 419.93 598.67 421.00 603.00 421.80 C607.33 422.60 611.77 423.42 616.10 424.00 C620.43 424.58 624.65 424.98 629.00 425.30 C633.35 425.62 637.03 425.70 642.20 425.90 C647.37 426.10 653.17 426.32 660.00 426.50 C666.83 426.68 679.33 426.92 683.20 427.00" fill="none" stroke="#3a8dcc" stroke-width="1.3"/>
<line x1="498.4" y1="372.4" x2="498.4" y2="427.7" stroke="#3a3a3a" stroke-width="1.0" stroke-dasharray="7 1"/>
<line x1="433" y1="322.5" x2="433" y2="428.4" stroke="#111" stroke-width="1.3"/>
<line x1="432.4" y1="427.7" x2="683.4" y2="427.7" stroke="#111" stroke-width="1.5"/>
<line x1="430.6" y1="427.7" x2="433" y2="427.7" stroke="#111" stroke-width="1"/>
<text x="428.20" y="431.20" font-size="10.0" text-anchor="end" fill="#1a1a1a" stroke="#1a1a1a" >0</text>
<line x1="430.6" y1="406.9" x2="433" y2="406.9" stroke="#111" stroke-width="1"/>
<text x="428.20" y="410.40" font-size="10.0" text-anchor="end" fill="#1a1a1a" stroke="#1a1a1a" >0.5</text>
<line x1="430.6" y1="386.1" x2="433" y2="386.1" stroke="#111" stroke-width="1"/>
<text x="428.20" y="389.60" font-size="10.0" text-anchor="end" fill="#1a1a1a" stroke="#1a1a1a" >1.0</text>
<line x1="430.6" y1="365.3" x2="433" y2="365.3" stroke="#111" stroke-width="1"/>
<text x="428.20" y="368.80" font-size="10.0" text-anchor="end" fill="#1a1a1a" stroke="#1a1a1a" >1.5</text>
<line x1="430.6" y1="344.5" x2="433" y2="344.5" stroke="#111" stroke-width="1"/>
<text x="428.20" y="348.00" font-size="10.0" text-anchor="end" fill="#1a1a1a" stroke="#1a1a1a" >2.0</text>
<line x1="430.6" y1="323.7" x2="433" y2="323.7" stroke="#111" stroke-width="1"/>
<text x="428.20" y="327.20" font-size="10.0" text-anchor="end" fill="#1a1a1a" stroke="#1a1a1a" >2.5</text>
<line x1="475.1" y1="427.7" x2="475.1" y2="430.3" stroke="#111" stroke-width="1"/>
<text x="475.15" y="441.60" font-size="10.0" text-anchor="middle" fill="#1a1a1a" stroke="#1a1a1a" >1</text>
<line x1="522.4" y1="427.7" x2="522.4" y2="430.3" stroke="#111" stroke-width="1"/>
<text x="522.40" y="441.60" font-size="10.0" text-anchor="middle" fill="#1a1a1a" stroke="#1a1a1a" >2</text>
<line x1="569.6" y1="427.7" x2="569.6" y2="430.3" stroke="#111" stroke-width="1"/>
<text x="569.65" y="441.60" font-size="10.0" text-anchor="middle" fill="#1a1a1a" stroke="#1a1a1a" >3</text>
<line x1="616.9" y1="427.7" x2="616.9" y2="430.3" stroke="#111" stroke-width="1"/>
<text x="616.90" y="441.60" font-size="10.0" text-anchor="middle" fill="#1a1a1a" stroke="#1a1a1a" >4</text>
<line x1="664.1" y1="427.7" x2="664.1" y2="430.3" stroke="#111" stroke-width="1"/>
<text x="664.15" y="441.60" font-size="10.0" text-anchor="middle" fill="#1a1a1a" stroke="#1a1a1a" >5</text>
<text x="557.00" y="455.00" font-size="9.9" text-anchor="middle" fill="#1a1a1a" stroke="#1a1a1a" >LiP-Quant score</text>
<text transform="translate(406.4,374.6) rotate(-90)" font-size="9.9" text-anchor="middle" fill="#1a1a1a" stroke="#1a1a1a">Density</text>
<text x="497.30" y="342.30" font-size="9.9" text-anchor="middle" fill="#1a1a1a" stroke="#1a1a1a" >LiP-Quant</text>
<text x="498.20" y="354.30" font-size="9.9" text-anchor="middle" fill="#1a1a1a" stroke="#1a1a1a" >score</text>
<text x="498.30" y="366.10" font-size="9.9" text-anchor="middle" fill="#1a1a1a" stroke="#1a1a1a" >Cut-off</text>
<text x="563.50" y="342.40" font-size="9.8" text-anchor="start" fill="#1a1a1a" stroke="#1a1a1a" >Peptide</text>
<rect x="563.5" y="350.8" width="7.3" height="7.1" fill="#e08c96"/>
<rect x="563.5" y="364.0" width="7.3" height="7.1" fill="#3b8ccb"/>
<text x="574.80" y="357.60" font-size="8.5" text-anchor="start" fill="#1a1a1a" stroke="#1a1a1a" >Non−target</text>
<text x="574.80" y="370.50" font-size="8.5" text-anchor="start" fill="#1a1a1a" stroke="#1a1a1a" >Target</text>
<text x="90.90" y="503.60" font-size="9.0" text-anchor="middle" font-weight="bold" fill="#111" stroke="#111" >1</text>
<text x="90.90" y="525.10" font-size="10.05" text-anchor="middle" font-weight="bold" fill="#111" stroke="#111" >FKBP1A</text>
<text x="90.90" y="537.80" font-size="9.95" text-anchor="middle" fill="#1a1a1a" stroke="#1a1a1a" >GWEEGVAQMSVGQR</text>
<rect x="35.65" y="543.15" width="112.3" height="102.35000000000002" fill="none" stroke="#222" stroke-width="1.1"/>
<line x1="33.0" y1="641.8" x2="35.65" y2="641.8" stroke="#222" stroke-width="0.9"/>
<text x="29.05" y="645.30" font-size="10.1" text-anchor="end" fill="#1a1a1a" stroke="#1a1a1a" >0.0</text>
<line x1="33.0" y1="622.7" x2="35.65" y2="622.7" stroke="#222" stroke-width="0.9"/>
<text x="29.05" y="626.20" font-size="10.1" text-anchor="end" fill="#1a1a1a" stroke="#1a1a1a" >0.2</text>
<line x1="33.0" y1="603.6" x2="35.65" y2="603.6" stroke="#222" stroke-width="0.9"/>
<text x="29.05" y="607.10" font-size="10.1" text-anchor="end" fill="#1a1a1a" stroke="#1a1a1a" >0.4</text>
<line x1="33.0" y1="584.5" x2="35.65" y2="584.5" stroke="#222" stroke-width="0.9"/>
<text x="29.05" y="588.00" font-size="10.1" text-anchor="end" fill="#1a1a1a" stroke="#1a1a1a" >0.6</text>
<line x1="33.0" y1="565.4" x2="35.65" y2="565.4" stroke="#222" stroke-width="0.9"/>
<text x="29.05" y="568.90" font-size="10.1" text-anchor="end" fill="#1a1a1a" stroke="#1a1a1a" >0.8</text>
<line x1="33.0" y1="546.3" x2="35.65" y2="546.3" stroke="#222" stroke-width="0.9"/>
<text x="29.05" y="549.80" font-size="10.1" text-anchor="end" fill="#1a1a1a" stroke="#1a1a1a" >1.0</text>
<line x1="39.9" y1="645.5" x2="39.9" y2="648.6" stroke="#222" stroke-width="0.9"/>
<text x="39.85" y="663.00" font-size="9.3" text-anchor="middle" fill="#1a1a1a" stroke="#1a1a1a" >0</text>
<line x1="78.8" y1="645.5" x2="78.8" y2="648.6" stroke="#222" stroke-width="0.9"/>
<text x="78.75" y="663.00" font-size="9.3" text-anchor="middle" fill="#1a1a1a" stroke="#1a1a1a" >1</text>
<line x1="91.9" y1="645.5" x2="91.9" y2="648.6" stroke="#222" stroke-width="0.9"/>
<text x="91.95" y="663.00" font-size="9.3" text-anchor="middle" fill="#1a1a1a" stroke="#1a1a1a" >10</text>
<line x1="118.2" y1="645.5" x2="118.2" y2="648.6" stroke="#222" stroke-width="0.9"/>
<text x="118.25" y="663.00" font-size="9.3" text-anchor="middle" fill="#1a1a1a" stroke="#1a1a1a" >10<tspan dy="-3.6" font-size="6.8">3</tspan></text>
<line x1="144.3" y1="645.5" x2="144.3" y2="648.6" stroke="#222" stroke-width="0.9"/>
<text x="144.35" y="663.00" font-size="9.3" text-anchor="middle" fill="#1a1a1a" stroke="#1a1a1a" >10<tspan dy="-3.6" font-size="6.8">4</tspan></text>
<path d="M41.9 647.0 L43.8 644.0 M43.8 647.0 L45.8 644.0" stroke="#222" stroke-width="0.8" fill="none"/>
<text x="91.95" y="677.30" font-size="9.9" text-anchor="middle" fill="#1a1a1a" stroke="#1a1a1a" >Concentration (nM)</text>
<path d="M44.05 635.59 L44.75 635.59 L45.45 635.59 L46.15 635.59 L46.85 635.59 L47.55 635.59 L48.25 635.59 L48.95 635.59 L49.65 635.59 L50.35 635.59 L51.05 635.59 L51.75 635.59 L52.45 635.59 L53.15 635.59 L53.85 635.59 L54.55 635.59 L55.25 635.59 L55.95 635.59 L56.65 635.59 L57.35 635.59 L58.05 635.59 L58.75 635.59 L59.45 635.59 L60.15 635.59 L60.85 635.59 L61.55 635.59 L62.25 635.59 L62.95 635.59 L63.65 635.59 L64.35 635.59 L65.05 635.59 L65.75 635.59 L66.45 635.59 L67.15 635.59 L67.85 635.59 L68.55 635.59 L69.25 635.59 L69.95 635.59 L70.65 635.59 L71.35 635.59 L72.05 635.59 L72.75 635.59 L73.45 635.59 L74.15 635.59 L74.85 635.59 L75.55 635.59 L76.25 635.59 L76.95 635.59 L77.65 635.59 L78.35 635.59 L79.05 635.59 L79.75 635.59 L80.45 635.59 L81.15 635.59 L81.85 635.59 L82.55 635.59 L83.25 635.59 L83.95 635.59 L84.65 635.58 L85.35 635.58 L86.05 635.58 L86.75 635.58 L87.45 635.58 L88.15 635.57 L88.85 635.57 L89.55 635.56 L90.25 635.56 L90.95 635.55 L91.65 635.55 L92.35 635.54 L93.05 635.53 L93.75 635.51 L94.45 635.50 L95.15 635.48 L95.85 635.46 L96.55 635.43 L97.25 635.40 L97.95 635.37 L98.65 635.32 L99.35 635.27 L100.05 635.21 L100.75 635.14 L101.45 635.06 L102.15 634.95 L102.85 634.83 L103.55 634.69 L104.25 634.52 L104.95 634.32 L105.65 634.08 L106.35 633.80 L107.05 633.46 L107.75 633.07 L108.45 632.60 L109.15 632.06 L109.85 631.42 L110.55 630.68 L111.25 629.81 L111.95 628.80 L112.65 627.65 L113.35 626.31 L114.05 624.80 L114.75 623.08 L115.45 621.15 L116.15 619.00 L116.85 616.64 L117.55 614.06 L118.25 611.29 L118.95 608.34 L119.65 605.25 L120.35 602.06 L121.05 598.81 L121.75 595.56 L122.45 592.35 L123.15 589.23 L123.85 586.23 L124.55 583.41 L125.25 580.77 L125.95 578.35 L126.65 576.14 L127.35 574.14 L128.05 572.37 L128.75 570.79 L129.45 569.41 L130.15 568.21 L130.85 567.16 L131.55 566.25 L132.25 565.47 L132.95 564.81 L133.65 564.24 L134.35 563.75 L135.05 563.34 L135.75 562.99 L136.45 562.69 L137.15 562.44 L137.85 562.23 L138.55 562.05 L139.25 561.90 L139.95 561.77 L140.65 561.67 L141.35 561.58 L142.05 561.50 L142.75 561.44 L143.45 561.38" fill="none" stroke="#111" stroke-width="1.1"/>
<rect x="38.55" y="634.01" width="2.6" height="2.6" fill="#111"/>
<rect x="51.55" y="630.66" width="2.6" height="2.6" fill="#111"/>
<rect x="64.55" y="638.21" width="2.6" height="2.6" fill="#111"/>
<rect x="77.55" y="637.73" width="2.6" height="2.6" fill="#111"/>
<rect x="90.55" y="634.01" width="2.6" height="2.6" fill="#111"/>
<rect x="103.55" y="630.19" width="2.6" height="2.6" fill="#111"/>
<rect x="116.55" y="615.38" width="2.6" height="2.6" fill="#111"/>
<rect x="129.55" y="564.67" width="2.6" height="2.6" fill="#111"/>
<rect x="142.55" y="560.47" width="2.6" height="2.6" fill="#111"/>
<text x="49.6" y="559.9" font-size="9.4" fill="#1a1a1a" stroke="#1a1a1a"><tspan font-style="italic">R</tspan><tspan dy="-3.6" font-size="6.5">2</tspan><tspan dy="3.6"> = 0.982</tspan></text>
<text x="226.20" y="503.60" font-size="9.0" text-anchor="middle" font-weight="bold" fill="#111" stroke="#111" >2</text>
<text x="226.20" y="525.10" font-size="10.05" text-anchor="middle" font-weight="bold" fill="#111" stroke="#111" >FKBP1A</text>
<text x="226.20" y="537.80" font-size="9.95" text-anchor="middle" fill="#1a1a1a" stroke="#1a1a1a" >RGQTCVVHYTGMLEDGK</text>
<rect x="169.5" y="543.15" width="112.3" height="102.35000000000002" fill="none" stroke="#222" stroke-width="1.1"/>
<line x1="166.9" y1="641.8" x2="169.5" y2="641.8" stroke="#222" stroke-width="0.9"/>
<line x1="166.9" y1="622.7" x2="169.5" y2="622.7" stroke="#222" stroke-width="0.9"/>
<line x1="166.9" y1="603.6" x2="169.5" y2="603.6" stroke="#222" stroke-width="0.9"/>
<line x1="166.9" y1="584.5" x2="169.5" y2="584.5" stroke="#222" stroke-width="0.9"/>
<line x1="166.9" y1="565.4" x2="169.5" y2="565.4" stroke="#222" stroke-width="0.9"/>
<line x1="166.9" y1="546.3" x2="169.5" y2="546.3" stroke="#222" stroke-width="0.9"/>
<line x1="173.7" y1="645.5" x2="173.7" y2="648.6" stroke="#222" stroke-width="0.9"/>
<text x="173.70" y="663.00" font-size="9.3" text-anchor="middle" fill="#1a1a1a" stroke="#1a1a1a" >0</text>
<line x1="212.6" y1="645.5" x2="212.6" y2="648.6" stroke="#222" stroke-width="0.9"/>
<text x="212.60" y="663.00" font-size="9.3" text-anchor="middle" fill="#1a1a1a" stroke="#1a1a1a" >1</text>
<line x1="225.8" y1="645.5" x2="225.8" y2="648.6" stroke="#222" stroke-width="0.9"/>
<text x="225.80" y="663.00" font-size="9.3" text-anchor="middle" fill="#1a1a1a" stroke="#1a1a1a" >10</text>
<line x1="252.1" y1="645.5" x2="252.1" y2="648.6" stroke="#222" stroke-width="0.9"/>
<text x="252.10" y="663.00" font-size="9.3" text-anchor="middle" fill="#1a1a1a" stroke="#1a1a1a" >10<tspan dy="-3.6" font-size="6.8">3</tspan></text>
<line x1="278.2" y1="645.5" x2="278.2" y2="648.6" stroke="#222" stroke-width="0.9"/>
<text x="278.20" y="663.00" font-size="9.3" text-anchor="middle" fill="#1a1a1a" stroke="#1a1a1a" >10<tspan dy="-3.6" font-size="6.8">4</tspan></text>
<path d="M175.7 647.0 L177.7 644.0 M177.7 647.0 L179.7 644.0" stroke="#222" stroke-width="0.8" fill="none"/>
<text x="225.80" y="677.30" font-size="9.9" text-anchor="middle" fill="#1a1a1a" stroke="#1a1a1a" >Concentration (nM)</text>
<path d="M177.90 635.59 L178.60 635.59 L179.30 635.59 L180.00 635.59 L180.70 635.59 L181.40 635.59 L182.10 635.59 L182.80 635.59 L183.50 635.59 L184.20 635.59 L184.90 635.59 L185.60 635.59 L186.30 635.59 L187.00 635.59 L187.70 635.59 L188.40 635.59 L189.10 635.59 L189.80 635.59 L190.50 635.59 L191.20 635.59 L191.90 635.59 L192.60 635.59 L193.30 635.59 L194.00 635.59 L194.70 635.59 L195.40 635.59 L196.10 635.59 L196.80 635.59 L197.50 635.59 L198.20 635.59 L198.90 635.59 L199.60 635.59 L200.30 635.59 L201.00 635.59 L201.70 635.59 L202.40 635.59 L203.10 635.59 L203.80 635.59 L204.50 635.59 L205.20 635.59 L205.90 635.59 L206.60 635.59 L207.30 635.59 L208.00 635.59 L208.70 635.59 L209.40 635.59 L210.10 635.59 L210.80 635.59 L211.50 635.59 L212.20 635.59 L212.90 635.59 L213.60 635.59 L214.30 635.59 L215.00 635.59 L215.70 635.59 L216.40 635.59 L217.10 635.59 L217.80 635.59 L218.50 635.59 L219.20 635.59 L219.90 635.59 L220.60 635.59 L221.30 635.59 L222.00 635.59 L222.70 635.59 L223.40 635.59 L224.10 635.59 L224.80 635.59 L225.50 635.59 L226.20 635.59 L226.90 635.59 L227.60 635.59 L228.30 635.59 L229.00 635.59 L229.70 635.59 L230.40 635.59 L231.10 635.59 L231.80 635.59 L232.50 635.59 L233.20 635.59 L233.90 635.59 L234.60 635.59 L235.30 635.59 L236.00 635.59 L236.70 635.59 L237.40 635.59 L238.10 635.58 L238.80 635.57 L239.50 635.57 L240.20 635.55 L240.90 635.53 L241.60 635.49 L242.30 635.44 L243.00 635.35 L243.70 635.22 L244.40 635.02 L245.10 634.71 L245.80 634.23 L246.50 633.50 L247.20 632.41 L247.90 630.77 L248.60 628.40 L249.30 625.03 L250.00 620.46 L250.70 614.60 L251.40 607.60 L252.10 599.92 L252.80 592.24 L253.50 585.24 L254.20 579.38 L254.90 574.82 L255.60 571.45 L256.30 569.07 L257.00 567.44 L257.70 566.35 L258.40 565.62 L259.10 565.14 L259.80 564.83 L260.50 564.63 L261.20 564.49 L261.90 564.41 L262.60 564.35 L263.30 564.32 L264.00 564.30 L264.70 564.28 L265.40 564.27 L266.10 564.27 L266.80 564.26 L267.50 564.26 L268.20 564.26 L268.90 564.26 L269.60 564.26 L270.30 564.25 L271.00 564.25 L271.70 564.25 L272.40 564.25 L273.10 564.25 L273.80 564.25 L274.50 564.25 L275.20 564.25 L275.90 564.25 L276.60 564.25 L277.30 564.25" fill="none" stroke="#111" stroke-width="1.1"/>
<rect x="172.40" y="634.67" width="2.6" height="2.6" fill="#111"/>
<rect x="185.40" y="629.71" width="2.6" height="2.6" fill="#111"/>
<rect x="198.40" y="638.11" width="2.6" height="2.6" fill="#111"/>
<rect x="211.40" y="638.11" width="2.6" height="2.6" fill="#111"/>
<rect x="224.40" y="634.29" width="2.6" height="2.6" fill="#111"/>
<rect x="237.40" y="627.51" width="2.6" height="2.6" fill="#111"/>
<rect x="250.40" y="609.08" width="2.6" height="2.6" fill="#111"/>
<rect x="263.40" y="559.99" width="2.6" height="2.6" fill="#111"/>
<rect x="276.40" y="565.72" width="2.6" height="2.6" fill="#111"/>
<text x="183.2" y="560.2" font-size="9.4" fill="#1a1a1a" stroke="#1a1a1a"><tspan font-style="italic">R</tspan><tspan dy="-3.6" font-size="6.5">2</tspan><tspan dy="3.6"> = 0.974</tspan></text>
<text x="358.20" y="503.60" font-size="9.0" text-anchor="middle" font-weight="bold" fill="#111" stroke="#111" >3</text>
<text x="358.20" y="525.10" font-size="10.05" text-anchor="middle" font-weight="bold" fill="#111" stroke="#111" >FKBP1A</text>
<text x="358.20" y="537.80" font-size="9.95" text-anchor="middle" fill="#1a1a1a" stroke="#1a1a1a" >RGQTCVVH</text>
<rect x="301.9" y="543.15" width="112.3" height="102.35000000000002" fill="none" stroke="#222" stroke-width="1.1"/>
<line x1="299.3" y1="641.8" x2="301.9" y2="641.8" stroke="#222" stroke-width="0.9"/>
<line x1="299.3" y1="622.7" x2="301.9" y2="622.7" stroke="#222" stroke-width="0.9"/>
<line x1="299.3" y1="603.6" x2="301.9" y2="603.6" stroke="#222" stroke-width="0.9"/>
<line x1="299.3" y1="584.5" x2="301.9" y2="584.5" stroke="#222" stroke-width="0.9"/>
<line x1="299.3" y1="565.4" x2="301.9" y2="565.4" stroke="#222" stroke-width="0.9"/>
<line x1="299.3" y1="546.3" x2="301.9" y2="546.3" stroke="#222" stroke-width="0.9"/>
<line x1="306.1" y1="645.5" x2="306.1" y2="648.6" stroke="#222" stroke-width="0.9"/>
<text x="306.10" y="663.00" font-size="9.3" text-anchor="middle" fill="#1a1a1a" stroke="#1a1a1a" >0</text>
<line x1="345.0" y1="645.5" x2="345.0" y2="648.6" stroke="#222" stroke-width="0.9"/>
<text x="345.00" y="663.00" font-size="9.3" text-anchor="middle" fill="#1a1a1a" stroke="#1a1a1a" >1</text>
<line x1="358.2" y1="645.5" x2="358.2" y2="648.6" stroke="#222" stroke-width="0.9"/>
<text x="358.20" y="663.00" font-size="9.3" text-anchor="middle" fill="#1a1a1a" stroke="#1a1a1a" >10</text>
<line x1="384.5" y1="645.5" x2="384.5" y2="648.6" stroke="#222" stroke-width="0.9"/>
<text x="384.50" y="663.00" font-size="9.3" text-anchor="middle" fill="#1a1a1a" stroke="#1a1a1a" >10<tspan dy="-3.6" font-size="6.8">3</tspan></text>
<line x1="410.6" y1="645.5" x2="410.6" y2="648.6" stroke="#222" stroke-width="0.9"/>
<text x="410.60" y="663.00" font-size="9.3" text-anchor="middle" fill="#1a1a1a" stroke="#1a1a1a" >10<tspan dy="-3.6" font-size="6.8">4</tspan></text>
<path d="M308.1 647.0 L310.1 644.0 M310.1 647.0 L312.1 644.0" stroke="#222" stroke-width="0.8" fill="none"/>
<text x="358.20" y="677.30" font-size="9.9" text-anchor="middle" fill="#1a1a1a" stroke="#1a1a1a" >Concentration (nM)</text>
<path d="M310.30 560.15 L311.00 560.15 L311.70 560.15 L312.40 560.15 L313.10 560.15 L313.80 560.15 L314.50 560.15 L315.20 560.15 L315.90 560.15 L316.60 560.15 L317.30 560.15 L318.00 560.15 L318.70 560.15 L319.40 560.15 L320.10 560.15 L320.80 560.15 L321.50 560.15 L322.20 560.15 L322.90 560.15 L323.60 560.15 L324.30 560.15 L325.00 560.15 L325.70 560.15 L326.40 560.15 L327.10 560.15 L327.80 560.15 L328.50 560.15 L329.20 560.15 L329.90 560.15 L330.60 560.15 L331.30 560.15 L332.00 560.15 L332.70 560.15 L333.40 560.15 L334.10 560.15 L334.80 560.15 L335.50 560.15 L336.20 560.15 L336.90 560.15 L337.60 560.15 L338.30 560.15 L339.00 560.15 L339.70 560.15 L340.40 560.15 L341.10 560.15 L341.80 560.15 L342.50 560.15 L343.20 560.15 L343.90 560.15 L344.60 560.15 L345.30 560.15 L346.00 560.15 L346.70 560.15 L347.40 560.15 L348.10 560.15 L348.80 560.15 L349.50 560.15 L350.20 560.15 L350.90 560.15 L351.60 560.15 L352.30 560.15 L353.00 560.15 L353.70 560.15 L354.40 560.15 L355.10 560.15 L355.80 560.15 L356.50 560.15 L357.20 560.15 L357.90 560.15 L358.60 560.15 L359.30 560.15 L360.00 560.15 L360.70 560.15 L361.40 560.15 L362.10 560.15 L362.80 560.15 L363.50 560.15 L364.20 560.15 L364.90 560.15 L365.60 560.15 L366.30 560.15 L367.00 560.15 L367.70 560.15 L368.40 560.15 L369.10 560.15 L369.80 560.15 L370.50 560.16 L371.20 560.16 L371.90 560.16 L372.60 560.17 L373.30 560.18 L374.00 560.19 L374.70 560.20 L375.40 560.21 L376.10 560.23 L376.80 560.26 L377.50 560.30 L378.20 560.35 L378.90 560.41 L379.60 560.50 L380.30 560.61 L381.00 560.76 L381.70 560.96 L382.40 561.21 L383.10 561.55 L383.80 561.99 L384.50 562.57 L385.20 563.32 L385.90 564.28 L386.60 565.52 L387.30 567.08 L388.00 569.05 L388.70 571.47 L389.40 574.41 L390.10 577.89 L390.80 581.89 L391.50 586.36 L392.20 591.18 L392.90 596.20 L393.60 601.21 L394.30 606.04 L395.00 610.51 L395.70 614.51 L396.40 617.99 L397.10 620.92 L397.80 623.35 L398.50 625.31 L399.20 626.88 L399.90 628.12 L400.60 629.08 L401.30 629.83 L402.00 630.41 L402.70 630.85 L403.40 631.18 L404.10 631.44 L404.80 631.64 L405.50 631.79 L406.20 631.90 L406.90 631.98 L407.60 632.05 L408.30 632.10 L409.00 632.14 L409.70 632.16" fill="none" stroke="#111" stroke-width="1.1"/>
<rect x="304.80" y="563.53" width="2.6" height="2.6" fill="#111"/>
<rect x="317.80" y="556.65" width="2.6" height="2.6" fill="#111"/>
<rect x="330.80" y="562.29" width="2.6" height="2.6" fill="#111"/>
<rect x="343.80" y="560.57" width="2.6" height="2.6" fill="#111"/>
<rect x="356.80" y="554.36" width="2.6" height="2.6" fill="#111"/>
<rect x="369.80" y="555.12" width="2.6" height="2.6" fill="#111"/>
<rect x="382.80" y="559.99" width="2.6" height="2.6" fill="#111"/>
<rect x="395.80" y="619.01" width="2.6" height="2.6" fill="#111"/>
<rect x="408.80" y="629.71" width="2.6" height="2.6" fill="#111"/>
<text x="316.9" y="632.7" font-size="9.4" fill="#1a1a1a" stroke="#1a1a1a"><tspan font-style="italic">R</tspan><tspan dy="-3.6" font-size="6.5">2</tspan><tspan dy="3.6"> = 0.960</tspan></text>
<text x="491.60" y="503.60" font-size="9.0" text-anchor="middle" font-weight="bold" fill="#111" stroke="#111" >4</text>
<text x="491.60" y="525.10" font-size="10.05" text-anchor="middle" font-weight="bold" fill="#111" stroke="#111" >FKBP1A</text>
<text x="491.60" y="537.80" font-size="9.95" text-anchor="middle" fill="#1a1a1a" stroke="#1a1a1a" >VFDVELLKLE</text>
<rect x="435.5" y="543.15" width="112.3" height="102.35000000000002" fill="none" stroke="#222" stroke-width="1.1"/>
<line x1="432.9" y1="641.8" x2="435.5" y2="641.8" stroke="#222" stroke-width="0.9"/>
<line x1="432.9" y1="622.7" x2="435.5" y2="622.7" stroke="#222" stroke-width="0.9"/>
<line x1="432.9" y1="603.6" x2="435.5" y2="603.6" stroke="#222" stroke-width="0.9"/>
<line x1="432.9" y1="584.5" x2="435.5" y2="584.5" stroke="#222" stroke-width="0.9"/>
<line x1="432.9" y1="565.4" x2="435.5" y2="565.4" stroke="#222" stroke-width="0.9"/>
<line x1="432.9" y1="546.3" x2="435.5" y2="546.3" stroke="#222" stroke-width="0.9"/>
<line x1="439.7" y1="645.5" x2="439.7" y2="648.6" stroke="#222" stroke-width="0.9"/>
<text x="439.70" y="663.00" font-size="9.3" text-anchor="middle" fill="#1a1a1a" stroke="#1a1a1a" >0</text>
<line x1="478.6" y1="645.5" x2="478.6" y2="648.6" stroke="#222" stroke-width="0.9"/>
<text x="478.60" y="663.00" font-size="9.3" text-anchor="middle" fill="#1a1a1a" stroke="#1a1a1a" >1</text>
<line x1="491.8" y1="645.5" x2="491.8" y2="648.6" stroke="#222" stroke-width="0.9"/>
<text x="491.80" y="663.00" font-size="9.3" text-anchor="middle" fill="#1a1a1a" stroke="#1a1a1a" >10</text>
<line x1="518.1" y1="645.5" x2="518.1" y2="648.6" stroke="#222" stroke-width="0.9"/>
<text x="518.10" y="663.00" font-size="9.3" text-anchor="middle" fill="#1a1a1a" stroke="#1a1a1a" >10<tspan dy="-3.6" font-size="6.8">3</tspan></text>
<line x1="544.2" y1="645.5" x2="544.2" y2="648.6" stroke="#222" stroke-width="0.9"/>
<text x="544.20" y="663.00" font-size="9.3" text-anchor="middle" fill="#1a1a1a" stroke="#1a1a1a" >10<tspan dy="-3.6" font-size="6.8">4</tspan></text>
<path d="M441.7 647.0 L443.7 644.0 M443.7 647.0 L445.7 644.0" stroke="#222" stroke-width="0.8" fill="none"/>
<text x="491.80" y="677.30" font-size="9.9" text-anchor="middle" fill="#1a1a1a" stroke="#1a1a1a" >Concentration (nM)</text>
<path d="M443.90 565.88 L444.60 565.88 L445.30 565.88 L446.00 565.88 L446.70 565.88 L447.40 565.88 L448.10 565.88 L448.80 565.88 L449.50 565.88 L450.20 565.88 L450.90 565.88 L451.60 565.88 L452.30 565.88 L453.00 565.88 L453.70 565.88 L454.40 565.88 L455.10 565.88 L455.80 565.89 L456.50 565.89 L457.20 565.89 L457.90 565.89 L458.60 565.89 L459.30 565.89 L460.00 565.89 L460.70 565.89 L461.40 565.90 L462.10 565.90 L462.80 565.90 L463.50 565.90 L464.20 565.90 L464.90 565.91 L465.60 565.91 L466.30 565.91 L467.00 565.92 L467.70 565.92 L468.40 565.93 L469.10 565.93 L469.80 565.94 L470.50 565.94 L471.20 565.95 L471.90 565.96 L472.60 565.97 L473.30 565.98 L474.00 565.99 L474.70 566.00 L475.40 566.01 L476.10 566.03 L476.80 566.04 L477.50 566.06 L478.20 566.08 L478.90 566.10 L479.60 566.12 L480.30 566.15 L481.00 566.18 L481.70 566.21 L482.40 566.25 L483.10 566.28 L483.80 566.33 L484.50 566.37 L485.20 566.42 L485.90 566.48 L486.60 566.54 L487.30 566.61 L488.00 566.69 L488.70 566.78 L489.40 566.87 L490.10 566.97 L490.80 567.08 L491.50 567.21 L492.20 567.35 L492.90 567.50 L493.60 567.66 L494.30 567.85 L495.00 568.05 L495.70 568.27 L496.40 568.51 L497.10 568.78 L497.80 569.07 L498.50 569.39 L499.20 569.74 L499.90 570.12 L500.60 570.54 L501.30 570.99 L502.00 571.49 L502.70 572.03 L503.40 572.62 L504.10 573.26 L504.80 573.95 L505.50 574.70 L506.20 575.51 L506.90 576.38 L507.60 577.31 L508.30 578.31 L509.00 579.38 L509.70 580.52 L510.40 581.73 L511.10 583.01 L511.80 584.36 L512.50 585.78 L513.20 587.27 L513.90 588.82 L514.60 590.44 L515.30 592.10 L516.00 593.82 L516.70 595.58 L517.40 597.37 L518.10 599.20 L518.80 601.03 L519.50 602.88 L520.20 604.73 L520.90 606.57 L521.60 608.39 L522.30 610.19 L523.00 611.95 L523.70 613.66 L524.40 615.33 L525.10 616.94 L525.80 618.50 L526.50 619.98 L527.20 621.41 L527.90 622.76 L528.60 624.04 L529.30 625.25 L530.00 626.39 L530.70 627.46 L531.40 628.46 L532.10 629.39 L532.80 630.26 L533.50 631.07 L534.20 631.82 L534.90 632.51 L535.60 633.15 L536.30 633.73 L537.00 634.28 L537.70 634.77 L538.40 635.23 L539.10 635.65 L539.80 636.03 L540.50 636.38 L541.20 636.70 L541.90 636.99 L542.60 637.26 L543.30 637.50" fill="none" stroke="#111" stroke-width="1.1"/>
<rect x="438.40" y="573.36" width="2.6" height="2.6" fill="#111"/>
<rect x="451.40" y="564.67" width="2.6" height="2.6" fill="#111"/>
<rect x="464.40" y="552.93" width="2.6" height="2.6" fill="#111"/>
<rect x="477.40" y="566.01" width="2.6" height="2.6" fill="#111"/>
<rect x="490.40" y="563.81" width="2.6" height="2.6" fill="#111"/>
<rect x="503.40" y="578.04" width="2.6" height="2.6" fill="#111"/>
<rect x="516.40" y="593.42" width="2.6" height="2.6" fill="#111"/>
<rect x="529.40" y="632.10" width="2.6" height="2.6" fill="#111"/>
<rect x="542.40" y="637.06" width="2.6" height="2.6" fill="#111"/>
<text x="450.7" y="632.7" font-size="9.4" fill="#1a1a1a" stroke="#1a1a1a"><tspan font-style="italic">R</tspan><tspan dy="-3.6" font-size="6.5">2</tspan><tspan dy="3.6"> = 0.950</tspan></text>
<text x="624.60" y="503.60" font-size="9.0" text-anchor="middle" font-weight="bold" fill="#111" stroke="#111" >5</text>
<text x="624.60" y="525.10" font-size="10.05" text-anchor="middle" font-weight="bold" fill="#111" stroke="#111" >FKBP1A</text>
<text x="624.60" y="537.80" font-size="9.95" text-anchor="middle" fill="#1a1a1a" stroke="#1a1a1a" >LTISPDYAYGAT</text>
<rect x="568.4" y="543.15" width="112.3" height="102.35000000000002" fill="none" stroke="#222" stroke-width="1.1"/>
<line x1="565.8" y1="641.8" x2="568.4" y2="641.8" stroke="#222" stroke-width="0.9"/>
<line x1="565.8" y1="622.7" x2="568.4" y2="622.7" stroke="#222" stroke-width="0.9"/>
<line x1="565.8" y1="603.6" x2="568.4" y2="603.6" stroke="#222" stroke-width="0.9"/>
<line x1="565.8" y1="584.5" x2="568.4" y2="584.5" stroke="#222" stroke-width="0.9"/>
<line x1="565.8" y1="565.4" x2="568.4" y2="565.4" stroke="#222" stroke-width="0.9"/>
<line x1="565.8" y1="546.3" x2="568.4" y2="546.3" stroke="#222" stroke-width="0.9"/>
<line x1="572.6" y1="645.5" x2="572.6" y2="648.6" stroke="#222" stroke-width="0.9"/>
<text x="572.60" y="663.00" font-size="9.3" text-anchor="middle" fill="#1a1a1a" stroke="#1a1a1a" >0</text>
<line x1="611.5" y1="645.5" x2="611.5" y2="648.6" stroke="#222" stroke-width="0.9"/>
<text x="611.50" y="663.00" font-size="9.3" text-anchor="middle" fill="#1a1a1a" stroke="#1a1a1a" >1</text>
<line x1="624.7" y1="645.5" x2="624.7" y2="648.6" stroke="#222" stroke-width="0.9"/>
<text x="624.70" y="663.00" font-size="9.3" text-anchor="middle" fill="#1a1a1a" stroke="#1a1a1a" >10</text>
<line x1="651.0" y1="645.5" x2="651.0" y2="648.6" stroke="#222" stroke-width="0.9"/>
<text x="651.00" y="663.00" font-size="9.3" text-anchor="middle" fill="#1a1a1a" stroke="#1a1a1a" >10<tspan dy="-3.6" font-size="6.8">3</tspan></text>
<line x1="677.1" y1="645.5" x2="677.1" y2="648.6" stroke="#222" stroke-width="0.9"/>
<text x="677.10" y="663.00" font-size="9.3" text-anchor="middle" fill="#1a1a1a" stroke="#1a1a1a" >10<tspan dy="-3.6" font-size="6.8">4</tspan></text>
<path d="M574.6 647.0 L576.6 644.0 M576.6 647.0 L578.6 644.0" stroke="#222" stroke-width="0.8" fill="none"/>
<text x="624.70" y="677.30" font-size="9.9" text-anchor="middle" fill="#1a1a1a" stroke="#1a1a1a" >Concentration (nM)</text>
<path d="M576.80 569.22 L577.50 569.22 L578.20 569.22 L578.90 569.22 L579.60 569.22 L580.30 569.22 L581.00 569.22 L581.70 569.22 L582.40 569.22 L583.10 569.22 L583.80 569.22 L584.50 569.22 L585.20 569.23 L585.90 569.23 L586.60 569.23 L587.30 569.23 L588.00 569.23 L588.70 569.23 L589.40 569.23 L590.10 569.23 L590.80 569.23 L591.50 569.23 L592.20 569.23 L592.90 569.24 L593.60 569.24 L594.30 569.24 L595.00 569.24 L595.70 569.24 L596.40 569.25 L597.10 569.25 L597.80 569.25 L598.50 569.26 L599.20 569.26 L599.90 569.27 L600.60 569.27 L601.30 569.28 L602.00 569.28 L602.70 569.29 L603.40 569.30 L604.10 569.31 L604.80 569.31 L605.50 569.32 L606.20 569.34 L606.90 569.35 L607.60 569.36 L608.30 569.38 L609.00 569.39 L609.70 569.41 L610.40 569.43 L611.10 569.46 L611.80 569.48 L612.50 569.51 L613.20 569.54 L613.90 569.58 L614.60 569.62 L615.30 569.66 L616.00 569.71 L616.70 569.76 L617.40 569.82 L618.10 569.88 L618.80 569.95 L619.50 570.03 L620.20 570.12 L620.90 570.21 L621.60 570.32 L622.30 570.44 L623.00 570.57 L623.70 570.71 L624.40 570.87 L625.10 571.04 L625.80 571.23 L626.50 571.44 L627.20 571.68 L627.90 571.93 L628.60 572.21 L629.30 572.52 L630.00 572.86 L630.70 573.24 L631.40 573.64 L632.10 574.09 L632.80 574.58 L633.50 575.11 L634.20 575.69 L634.90 576.33 L635.60 577.01 L636.30 577.76 L637.00 578.56 L637.70 579.43 L638.40 580.37 L639.10 581.37 L639.80 582.44 L640.50 583.59 L641.20 584.81 L641.90 586.10 L642.60 587.47 L643.30 588.90 L644.00 590.40 L644.70 591.97 L645.40 593.60 L646.10 595.28 L646.80 597.01 L647.50 598.78 L648.20 600.58 L648.90 602.40 L649.60 604.24 L650.30 606.09 L651.00 607.92 L651.70 609.74 L652.40 611.54 L653.10 613.31 L653.80 615.03 L654.50 616.70 L655.20 618.32 L655.90 619.88 L656.60 621.37 L657.30 622.80 L658.00 624.15 L658.70 625.43 L659.40 626.64 L660.10 627.78 L660.80 628.84 L661.50 629.84 L662.20 630.76 L662.90 631.62 L663.60 632.42 L664.30 633.15 L665.00 633.83 L665.70 634.46 L666.40 635.03 L667.10 635.56 L667.80 636.04 L668.50 636.48 L669.20 636.88 L669.90 637.25 L670.60 637.59 L671.30 637.89 L672.00 638.17 L672.70 638.42 L673.40 638.65 L674.10 638.86 L674.80 639.05 L675.50 639.22 L676.20 639.38" fill="none" stroke="#111" stroke-width="1.1"/>
<rect x="571.30" y="569.07" width="2.6" height="2.6" fill="#111"/>
<rect x="584.30" y="575.37" width="2.6" height="2.6" fill="#111"/>
<rect x="597.30" y="564.67" width="2.6" height="2.6" fill="#111"/>
<rect x="610.30" y="564.00" width="2.6" height="2.6" fill="#111"/>
<rect x="623.30" y="569.07" width="2.6" height="2.6" fill="#111"/>
<rect x="636.30" y="581.10" width="2.6" height="2.6" fill="#111"/>
<rect x="649.30" y="606.50" width="2.6" height="2.6" fill="#111"/>
<rect x="662.30" y="632.29" width="2.6" height="2.6" fill="#111"/>
<rect x="675.30" y="636.87" width="2.6" height="2.6" fill="#111"/>
<text x="583.0" y="630.0" font-size="9.4" fill="#1a1a1a" stroke="#1a1a1a"><tspan font-style="italic">R</tspan><tspan dy="-3.6" font-size="6.5">2</tspan><tspan dy="3.6"> = 0.927</tspan></text>
<text transform="translate(7.2,594.9) rotate(-90)" font-size="9.9" text-anchor="middle" fill="#1a1a1a" stroke="#1a1a1a">Normalized response</text>
<defs><clipPath id="tc"><rect x="0" y="690" width="667" height="50"/></clipPath></defs>
<polygon points="50.3,698.3 667,738.9 50.3,738.9" fill="#e08a93"/>
<path d="M50.3 738.9 L50.3 698.3 L680 739.8 M50.3 738.9 L680 738.9" fill="none" stroke="#000" stroke-width="2.4" stroke-linejoin="miter" clip-path="url(#tc)"/>
<text x="60.50" y="723.90" font-size="9.9" text-anchor="start" font-weight="bold" fill="#111" stroke="#111" >LiP-Quant score</text>
<text x="631.00" y="706.80" font-size="9.9" text-anchor="start" font-weight="bold" fill="#111" stroke="#111" >Human</text>
</svg></body></html>
